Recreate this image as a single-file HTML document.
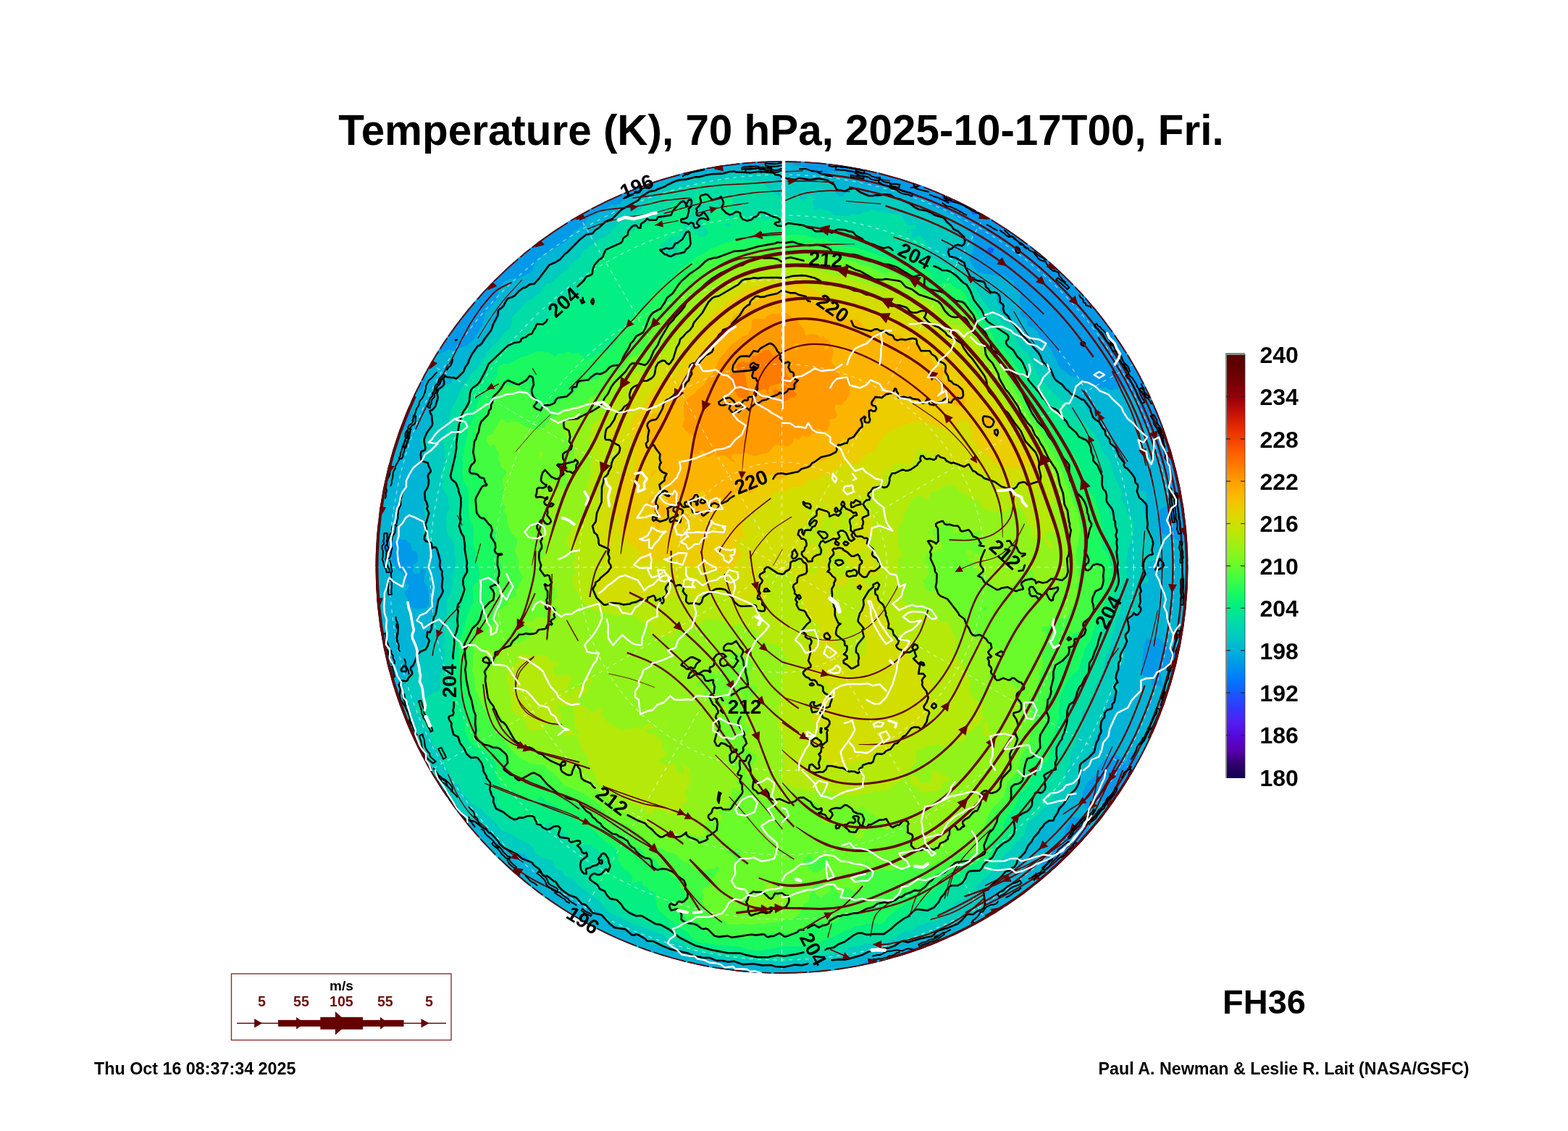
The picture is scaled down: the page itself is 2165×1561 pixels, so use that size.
<!DOCTYPE html>
<html lang="en"><head><meta charset="utf-8"><title>Temperature (K), 70 hPa, 2025-10-17T00, Fri.</title>
<style>html,body{margin:0;padding:0;background:#fff}body{width:2165px;height:1561px;overflow:hidden}svg{display:block}</style></head>
<body>
<svg width="2165" height="1561" viewBox="0 0 2165 1561" font-family="'Liberation Sans', sans-serif">
<rect width="2165" height="1561" fill="#fff"/>
<defs><clipPath id="g"><circle cx="1079.5" cy="783.0" r="561.0"/></clipPath></defs>
<g clip-path="url(#g)">
<g shape-rendering="crispEdges"><circle cx="1079.5" cy="783.0" r="561.0" fill="#145dff"/>
<path fill="#009ae8" fill-rule="evenodd" d="M1068.1 213l6.8-3 11.5 3 11.1 0.7 6-0.9 9 4.2 12 2.4 3-1.1 8.8-8.3 13.8 0 4.4 1.2 4.5-1.2 13.3 0 6.3 9 14.9 7.1 6-3.4 3 2.4 3 0.9 9-4.7 12-1.6 9 0.5 3 0.9 6 4.7 3 0.8 3 5.1 3 2.6 3-0.2 3 4 3 6.9 3 2.7 3.9 1.3-0.2 3-1.7 3 1 3.2 18-6.4 12-0.3 3.2 3.5 1.9 6-1.2 6-3.1 3 2.6 6 3 3 2.6 1.1 9-0.6 9-2.8 3-4.1 3 0 2.4 3.4 3.6 1.7 9-0.4 3 1.4 0 4.3-6 4.4-2.1 3.6-0.4 3 2.5 2.4 9-1.2 3-2.1 10.6-2.1 2.2-3-2.6-6 1.8-3.2 3-0.1 2.4 3.3-1.5 3 2.1 3.7 9-0.3 6-5.1 1.9 1.7 4.1 8.8 6.3 3.2 1.9 3-1.4 6 2.2 8.4 3 1.4 3-1.3 3 0.4 3 3.6 6 0.4 1.7-0.9 0.6-3-1.2-6 1.9-1.3 6 6.1 9 0.8 5.2 9.4 7.6 9 0.8 12 1.4 1 7.6-4 1.4-3 9-2.4 2.8 2.4 0.7 3 2.8 3 2.7 7.4 3 0 1.1 1.6-7.1 1.2-2.5 4.8 2.5 3.6 9 1.8 9-1.9 6 0.8 2.4 1.7 2.3 6-2.1 3 1.6 9-1.2 3.2 3 1.5 3-0.1 9.1-4.6 0.3 3-6.4 6.5-4 8.5 1.5 3 2.5 1.3 6 0.3 9.3 10.4 0 3-2 3 1.7 1.9 3 0.8 6-3.1 6-0.5 6 3.8 7.9 3.1 2.4 9-3.1 9 2 6-1.7 3 1.2 6 2.3 0-1.7-3 1-3 1.7-1.2 3 1.1 1.1 3.1-0.5 3 4.3 6-1.9 4.7-11.6 7.3 11.6 5.1 6.3 9.9 5.7 3.4 6 1.9 1.9 6.7 4.1 6.7 0.4 11.3 5 6 2 6 4.6 5.1 6 1.6 3 2.1 3.7 6.2-3.7 3.5-1.9 5.5 6 6 4.9 2.7 3 0.4 6-3.3 3 0.3 3 3.5 4.9 2.4-4.9 1.4-0.7 4.6 3.7 1.2 3-1.6 3 2.4-0.7 4-3.2 6 0.9 5.9 3 2 6 1.7 0 8.6-6 8.8 1.8 3 4.2 2.7 0 488.8-4.5 0.5-4.2 6-3.3-1.8-7 4.8 1.4 6 2.6 0.3 3-1.5 2.5 4.2-1.7 6-6.7 6-1.2 6-1.9 2.7-4 0.3-6.7 6-4.3-1.2-3-2.8-3 0.7-2.9 3.3-0.3 3 2.6 3 0.1 6-5.5 2.8 3.2 3.2-3.1 9-4.8 6-0.7 6-3.6 5.8-3 1.8-6-2.2-6.4 3.6 3.4 1.1 3-0.7 2.9 2.6-5.4 3-3.5-2.2-3 1.5-9-1.1-6 2.8-3-1.7-4.2 0.7-1.8 4.4-6.4 4.6 4.1 6-3.7 2.9 0.3 3.1-3.3 2.9-9 1.5-3 2.4-3 0.2-6-3.2-3 0.7-9.7 4.5-0.9 3 1.6 3.2-3 0.7-3-1.6-6 1.1-6 4.2-6-1.9-6 2.1-9-1.2-3 0.8-3.7 1.6-11.3 10.4-3 0.9-3-0.6-6 2.9-9 6.6-6 1.6-6-2.3-3 0.1-12 5.6-15 2-12 6.9-9 3.1-9-1.8-2.6 0.6-6.4 2.4-9 7.2-12 5.2-12 0.4-6-1.2-2.7 1-3.4 3-0.7 6-2.2 3.1-9 1.7-9 4.1-12 1.2-3.7 1.9-8.3 7.5-9 2.6-2.4 1.9-3.6 6.1-15 5.5-3 0.2-6-2.4-12 3.3-12-3.8-6 2-6-1.1-3 3.1-6 3.5-10.4 1.6-125.8 0-4.8-1.2-5.4 1.2-19.7 0-1.9-0.8-3.3 0.8-53.7 0-6-2-6 1.7-3-0.2-6-4.3-3-0.6-6 3.2-3-3.2-3-0.7-3 2.5-12 1.6-15-4.1-3 0.7-4.7 5.4-16.8 0-5.5-4.8-3-1.1-6 1-10.2-4.1-4.8-3.8-3 0-6 3.2-6-0.5-2.5-1.9-0.6-3-2.9-3-3-0.8-12 1-18 9.9-3-6.5-3-1.6-3-3.8-12 0.5-5.8 4.3-0.2 3.1-5.4-3.1-0.6-3.3-3 1.8-12.8 1.5-5.2-3.9-1-5.1-5-6.1-4.6 3.1-1.4 3.2-3 1.7-3 0-9-6.1-0.3-1.8 2-3 3.6-3-2.3-2.7-3-0.5-3 2-3-1.9-3 1.3-1.4-4.2 1.4-3.6-3-2.7-3.7 0.3-2.3-1.3-1.1 1.3 0.1 3-5 7.2-5.1-7.2 1.9-3-0.2-3-8.9-6-2.2-6 0.9-6-4.4-2.2-6 3.4-2.5-1.2 2.5-4.5 11.3-10.5-2.3-2-3.8-1-2.2-3-6 4.1-0.8-1.1 0.8-2.5 3.8-3.5-10.3-9-5-3 0.4-3-0.9-1.3-4.2-1.7-1.8-2.3-0.5-6.7-3.3-6-5-6-0.3-3-3.6-3-1.6-3 0.8-6-1.8-6 3.3-2.3 2-3.7-2-4.4-6-0.6-1.5-1-1-3 0.3-3-2.9-6 2.1-6-1.1-9-7.2-9-2.3-6-1.9-9 2-9-1.4-3-6.1-0.8-2-2.2-1.7-6-0.1-6-1.5-3-4.2-3-1.3-6-8.5-9 0.2-6-1.1-3-4.5-6-0.9-3-6.5-6-7.4-18-2.5-3.2-4.5-2.8-0.9-9-4.2-9-7-6 0.4-9-3.2-6-7.6-5.5-0.8-6.5-8.3-9-5.9-9.8 0-380.6 2.9 3.4-2.1 3 2.2 0.9 3-0.7 5.1-6.2-1.5-6 3.6-3 1.3-3 0.2-6 6.5-6 2.9-6-0.1-3.6-3 0.5-3.2-2.9 5.7-3 3.5 0.4 3-1.5 3-4.9 0.1-3 2.9-7 9.7-8 0.6-3-2.3-6-4.6-6 2-3 8.4-6 11.6-15-3.3-15 2-6-2.8-3 1.4-3 6.3-6 0.9-3 0.1-6 2.5-3 0.9-3-2-6 6.4-12-0.7-3 2.6-3-3.1-6 2.4-6 3-2.3 3-4.4 6.2-2.3 10-12 0.5-3 4.3-4.6 3-1 6 2 6 0.4 6 3 3 4.8 6.5-4.6 1.9-3-2.4-7.7-3 3.9-3 1.3-6-0.2-2-3.3 5-13 9-0.5 3 3.4 6-1.9 4.2-6 10.8-5.3 15-11.7 3-1.3 9-0.6 6-4.8 6-2.4 3-0.4 2.1 2.5 3.9 1.6 3-1.4 9-6.6 3.4-5.6 8.6-7.2 3-4.5 3 0.9 3-1.2 3-4.1 12 0.6 12-3.9 18-7.9 9-1.8 6-8.3 9-3.3 6-0.5 27-11.1 9-1.2 15-10.4 21-9.4 12-3.5 12-1.6 42-13.9 24-3.2 24-6 6 1.1 9-1.9 15 3.4 33.6-9.1zM1367.5 341.2l-3 1.1-1.6 2.7 1.6 5.6 3 0 3-2 1.7-3.6-1.3-3-3.4-0.8zM1415.5 332.8l-0.9 0.2 0.9 3.3 0-3.5zM1472.5 473.4l0 1.5 0-1.5zM1415.5 344.8z"/>
<path fill="#00b4d5" fill-rule="evenodd" d="M1067.2 225l9.3-2.5 12 0.4 9 5.3 9 1 18 10 12 0.5 15-2.9 6-0.1 3-1.4 3 0.3 3.3 1.4 5.7 6.3 9.4 2.7 8.6 7.5 11.1 1.5 6.9 2.7 6-1.8 6 0.3 6-2 3 0.3 3 1 6 5.5 6 3.3 6 5.9 15 4.2 6-1 6 0.6 9 9.8 30.2 13.2 11.5 9 3.3 4.5 6 3.9 5.6 9.6 1.4 9-0.4 12-5.2 12 0.7 3 9.3 15 27.6 6.1 9-1 5 3.9 7 3.2 2.8 2.8 0.2 6.6 6 5 2.2 3.4 0.4 3-1.6 9 2.5 9-1.3 9 0.8 2.1 6 1.7 2.1 2.2 0.9 9.1 9 2.8 3.7 3.1 4.2 9 4.4 3 11.8 15 2.1 6 4.6 6 2.2 7.8 5.2 7.2 6.2 3 6.1 6 12.5 2.2 9 7.2 6 0 8.9 5.6 9.1 1.9 3-2.5 2.1 3.6 3.9 0.9 6-0.2 12-3 3 2.8 3 0.4 2.5 2.1 3.5 5.7 3 2.5 3-1.1 1 4.9 4.2 9-1.8 6 3.4 6 0.4 12 7.8 5.2 3.1 0.8 2.2 3-0.8 3-7.5 5.7 0 0.9 2.6 2.4 9.4-1 1.1 1 3 9 1.4 12 3.1 6-0.8 3 1.1 3 4.1 3 2 9.8 6.1 8.2 1.3 12 6.3 6 6 3-2.1 6 0.7 6-1 3-17.3 4.1-3 1.2-3 3.2-3.6 12.5 2 12 4.6 6.9 3 2.1 12 2.4 6 5 9 3.5 3 0 3-3.2 3 0.3 1.1 1-0.2 3 2.7 3 2.4 1.6 3-0.4 0 49-6.3 6.8-1.4 3 2.1 6-5.2 9 0.7 6 1.1 1.4 1.2-1.4 0.2-6 1.6-1.6 6 1.9 0 16.8-1.4 3.9 1.4 2.2 0 14.6-1.2 1.2 1.2 0.5 0 7.8-3-1.1-8.6 7.8 0.3 3 3.3 6 2 1 3.5-1 2.5-2.1 0 30.9-3 1.3-3-2.6-1.4-3.5-12-12 0.1-3-1.7-3.5-6-0.3-3-3.8-9-1.6-5.3-2.8-9.7-8-3-0.1-6 4.3-6-3.9-5.1 13.7 0.6 6-2.5 15 1 5.6 4.1 0.4-4.1 0.2-2.2 2.8-0.1 6 12.1 6 2.2 3.2 1.1 5.8 1.9 1.3 6-0.7 3 0.7 3 2.5 1.5-0.8-2.2-9 1-3-2.1-3 1.1-6 10.3-6 2.4-6.6 2.8-2.4 3.2 0.4 2.4 2.6-3.3 6 0.9 6-1.6 3 0.5 3 8.1 9 2 1.3 3-0.6 3 2.2 1 3.1 5.2 3 2.4 3-14.6 6.3-9 1.3-9.7 7.4-2.4 6 0 3-6.5 6-0.4 3 1.6 9 2.4 4.4 0 3.2-6 4.6-3 8.5-3.2 3.3-2.1 9 2.7 9-3.4 2.4-3-0.4-9 4 4.1 6-0.7 6 0.9 3-1.3 0.4-0.7-3.4-3.4-3 1.1-9-9-0.8-6-4.5-3-0.3-3 2.6-2.3 3-0.4 6-3.3 3.3-4.1-6.3-3.5-3-4.4-1.3-9 0.1-1.9 4.2-6.5 3-3.6 5.3-4 3.7-3 9-5 6.5-6 4.1-2.6 4.4-4.2 9-1.7 12 5.5 11.5 3 0.8 3-1.4 6-5.9 9-4.2 3 1.2 7.6 7 8.6 6 1.8 6-1.4 3 5.3 9 2.1 2.1 3-1.5 2.5 2.4-2.5 2.7-2.5 0.3 1 6-1.5 1.6-9 0-6-2.5-9 1.5-9 4.4-3-2.7-6-2.4-2.3-5.9-0.3-6-3.4-7.3-18-2.2-3 1.2-1.6 5.3-5.9 9-0.6 6-4.7 9-5.2 3.8-7.9 11.2-10.1 6-3 2.6-1.5 3.4 2 9 5.5 5.1 3 1.7 9 0 6-2.5 5.1 4.7-0.5 6-4.9 6-0.7 6-2 2.7-15-0.1-6-3.9-2.4 1.3-3.6 11.5-3 1.7-6-0.7-9 6.2-9 3.3-3 6.3-3 1.9-6-2.2-2.9 2-0.5 9-4.5 3-7.1-0.6-6 3.5-6 1-9 6.4-13.2 4.7-3.1 3-1.7 3.9-12 5.1-15 2-9 2.7-3 1.5-15 13-3 0.4-6-1.8-18-0.5-5.5 3.7-2.6 9-9.9 7.9-6 0.4-9 2.8-9 1.2-6-7.6-4-1.7-5-0.4-6.8 3.4-5.2 4.4-6 1.6-12 6.7-6-0.2-21 3.9-9-1.1-12 2.8-6-1.8-12-0.2-15 4.5-15-1.4-12 3-18-7.7-30 4.1-4.8-3.6-7.2-3.4-3-0.2-9 2.3-3 2.2-9 1.2-5-2.1-7-9.1-9 0.1-3 1.9-21-0.5-6-6.4-12-4.5-6 1.3-6-0.5-9.4 2.7-11.6 5.3-6-7.9-6-1.8-6-0.2-1.8-1.4-6.6-15-3.6-2-9-1.4-6 1.9-9 0.2-3 2.4-3 0.7-7.2-1.8 2.7-6-3.6-6-0.9-3.7-3-3.2-9-1.1-3.2 2 2.4 6-1.6 3-3.6 1-1.9-1-1.1-3.2-3-0.3-6.6 3.5-2.4 3.9-6-2.6-6-6.8-3 0.5-1.5 2-4.5 2.1-3 4.5-9 4.3-1.5-1.9-0.8-6-2.2-3-10.5-6.1-3 0.7-6-1.9-15 3.1-3-0.8-3-2.4-8.9-16.6 1-6-4.1-2.9-3-3.9-7-2.2-5-3.4-0.8-2.6 0.9-9-3.1-2.9-3-0.1-6-13.2-3 0.8-4.3-2.6 0.1-3 1.8-3-3.6-1.4-6 0.3-4.3-4.9 0.8-6-6.2-9-0.4-3 1.7-6-0.7-3-6.7-9-2.7-9 0-6-6.3-6-8.2-15.7-3-14.1-6.5-0.2-1-3 1.5-6-7.7-9-2.2-6-4.5-6-3.6-8.9-9.9-9.1-1.9-3 0-12-12.2-19.4-6-3.7-3-5-1.8-4.9 0-9-6.9-12-0.3-6.8-3.6-8.2-6.1-9-4.2-9-11.6-12-0.9-6-9.6-23.1-3-3.3-3-0.2 0-17.1 2.9-7.3 3.3-3-6.2-1.9 0-6.1 2-4 1.2-9-0.6-3-2.6-2.5 0-90 5.4-3.5 0.5-3-2.9-5.2-3-1.6 0-45 6.1-11.2 2.9-2.3 5.3-0.7 0.5-3-1-3-7.8-6.9-3 4.4-3 0.9 0-6 9-4.8 6.9-8.6 0.7-6-2.2-9-3.7-6 0.1-3 4.2-3.7 6-0.9 6.6-10.4 2.8-12-1.3-6 5.2-6-1.2-6 4.2-15 1.7-2.3 12.5-3.7 1-3 2.5-3 0.8-6 4-6 0.7-3-1.4-6 0.4-6-0.9-6 1-6 3.4-4.1 13.5-7.9 5.1-15 0.9-12 3.2-6 0.1-3 8.3-9 7.9-5.1 6-1 3-3.1 3-1.3 6 3.2 3-0.8 6-3.8 9-3.4 9-7.7 9-14.6 4.2-4.4-0.3-6 2.6-6-0.5-3 1.1-3 15.8-18 3.1-6 0-9 1-3 5.4-6 9.6-5.7 9 2 6-4.1 14.6-7.2 5-12 10.4-11.8 6-2.5 3.5-3.7 8.2-3 15.3-9.6 6-8.8 14.9-11.6 6.1-6.5 3-4.9 8.5-3.6 6.5-5.1 12-5.4 6-3.9 6 0 3-1.1 6-5.5 21-14.7 42-14.9 12-1.9 9-3.8 30-7.6 21-1.7 9-3.6 6 1.4 9-1.3 12 3.4 6 0.3 27-4.7 2.7-1.9zM1487.5 1124.4l0 3.5 0-3.5zM1604.5 875.8l-1.7 0.2 1.7-0.2zM1622.5 872.3l-1.1 0.7-0.2 3 1.3 1.3 3-0.7 0-2.1-3-2.2zM1613.5 949.6l-1.5 1.4-0.6 3 2.1 1.6 3-0.6 0.8-4-0.8-1.9-3 0.5zM1442.5 1202.7l0 2.7 0-2.7zM515.5 730.9l-1.6 1.1 1.6 3.8 3 1.8 1.9-2.6-0.8-3-4.1-1.1zM551.5 743.9l-3 1.6-3-0.4-6 3.3-3 0.3-6-3.3-5.6 1.6 3.2 6 0.1 3 11.3 8.5 1.5 6.5-0.9 3 4.8 6 3.1 6 6.5 3.1 3.4 2.9-0.4 9.5 3 4.2 4.4 1.3-0.5 3-4.8 6-0.4 3 0.4 3 3.9 5 3 9.6 3 2.6 3 0.8 9 0.5 6-1 3.7-2.5 1.2-3 0.1-6-1.3-18-5.9-6 0.7-9 2.2-6-3.1-3-3.6-0.8-1.2 0.8 0.2 3-2 3.1-6-0.3-2.6-2.8 1-6-0.8-3 6.9-6-0.3-9-1.2-2.5-5.9-3.5-3.1-8.6-6-5.1-9-1.4zM1576.5 1068l1-1 3.6 1 0.6 3-1.6 6 1.2 6-3.3 12 0.1 6-2.7 3 0.3 6-1.4 3-5.8 4.2-3-1.4-1.6-2.8-0.2-9 4-9 0.2-9-2.4-2-9 2.1-1.7-3.1 0.4-3 4.3-4.2 9-5.6 6-0.5 2-1.7z"/>
<path fill="#00cbbf" fill-rule="evenodd" d="M1015.9 237l6.6-0.6 15 2 15-0.5 18 1.7 9-3.7 3 0.9 9 7.7 12 1.7 6 3.4 21-1.6 15 3.2 3-0.8 3.6 1.6 0.8 3-1.4 6 1 3 5 6 3 1.2 4.2-1.2 6.5-9 7.3-1.1 4.3 1.1 7.7 6.1 6 1.4 9 3.8 18-1.8 9 3.3 6 0.8 18 7.4 6 4.2 6 1 17.1 9.8 10.4 3 8.5 8.4 6 0.7 3.9 2.9 2.1 8 3 4 6 3.5 2.2 2.5 0.5 3-2.7 3.9-6 1.8-3 2.6-3 0.6-6-1.2-1.9 1.3 1.3 9 1.5 3 5.1 3 12 3.7 3 2.8 7.6 11.5 2.1 6 2.3 3.1 9 4.8 9 2.4 3 4.4 3 2.2 6 1.1 5.4 9 0.1 9 5 6 0 6 1.4 3 7.5 3 19.6 26.3 15.5 12.7 6.6 12 10.3 15 2.6 6 6 6 0.3 6 18.7 15.8 9 6.1 6 2 14.2 12.1 0.1 6 1.2 3 8.5 10.3 9.5 7.7 3 6 15.2 18-1.9 6 1.5 9 16.9 15 4.4 12 2.4 3.5 4.2 2.5 2 6 3.8 3 3.1 9 0.7 6 5.8 0 3.4 3 0.7 6-3.5 6-0.9 9 1.1 3 7.2 6-0.8 18 6.3 12 0.5 3-1.2 6 1.3 6-0.6 6 1.6 3 5.5 3 2.8 3-1 2.5-3-1.4-12 3.2-7.3 16.7 0.2 3 4.1 0.3 2.1 2.7 0.6 3-1.1 3-7.6 2-1.9 1-1.7 3 0 9 1.8 3 1.2 12-1.6 3 0 3 1.5 3-2.3 2.6-6 0.8-8.7 8.6-1.3 12-2.1 3 3.2 6-0.2 6-7.5 6-0.8 3 1.6 18-0.8 3-4.4 7.3-6.2 4.7-0.1 3 1.8 3-2.5 6 4.4 6-0.1 12-12.3 8.2-3 5.2-2.3 13.6-2.3 6 0.4 3-3.2 6-1.6 9-3 2.8-3 6.3-3 2.9-0.6 3 1.3 3-4.5 6-0.2 6-5 6 0.3 3-3.3 1.6-3 3.2-0.7 10.2-3 6-5 15-9.9 21-5.4 7.5-9 2.1-2.8 2.4-3.2 14.8-3 4.9-12.2 4.3-5.2 6-6.6 15.1-3 2.9-6.7 3-2.3 2.7-3 5.6-5.8 6.7-5 12-2.2 9-5 4.4-6 1.5-3 2.7-7.6 0.4-7.4 9.2-13.9 11.8-0.8 15 1.2 6-1.4 3-3.1 1.5-6-0.3-12.7 10.8-11.3 1.4-3 2.1-3.9 5.5-8.1 2.4-12 8.4-9 1.1-6 5.2-6 1.4-3.2 2.5-26.8 4.8-15 5.7-9 0.6-15 7.4-12 0.3-15 7.2-15 0.9-9 2.7-6-0.9-6 1.6-9 0.3-21 5-15 0.6-12 2.1-9-1.3-21 0.3-33-4.2-9 1.1-21-5.1-9-0.3-15-3.8-18-2.6-15-5.3-9-4.6-18-1.9-3-2.3-3-0.6-6 0.2-2.8-1.9-1.5-3-7.7-8-9-3.8-9-1.3-9-4.4-15-5-12-9.8-5-6.7-19-10-3-2.7-9-3.2-6-5.3-8.1-2.8-10.9-9-11.7-6-5.3-7.2-3.6-1.8-4.8-9-7.5-3-2.1-2-1.6-4-10.4-14.3-3-1.9-12-1.3-15-6-5.2-3.5-2.9-3-5.3-12-25.3-21-3.3-0.2-6 2.5-6-3.3-3-3.4-3.9-7.6-14.1-14.7-5.5-12.3-8.2-6-4.3-9.4-6-7.8-1-6.8-5.8-6-5.2-15.6-10.9-17.4-1.1-8.3-3.6-3.7-8.4-18.8-1.8-17.2-4.7-15 3.6-6 0.7-3-0.9-6 4.5-6-2.4-6 1-1.1 6 0 6.5-10.9 7.9-9-2.2-3 2.8-3.3-1.4-8.7 1.4-2.3 6.2-3.7 1.5-9-1.2-6 9.1-9 1-3-2-6 0.5-9 6.5-9 2.4-12 5.7-15-1.8-9 0-3 2.1-6-0.1-15-1.7-6 0-6-4.2-9.3-4.4-2.7-4.6-5.6-8.5-6.4-4.3-9 0.8-3.9 3.4-2.1 0-3 3-3-3.4-2.7-1.4-3.3 1.2-6-3.1-9 6.4-9-3.1-1-1.6-2-0.4-6 2.3-6-0.1-6 2.8-6 2.9-12-2.5-9-5.4-6-0.8-3 1.7-6-0.1-9-5-6-1.1-9 8.1-6 6.4-12 1.3-9-0.3-9 3.8-5 4.8-10-0.3-6-3.7-6 0.5-3 10.7-8.9 9-0.8 3-2.5 3.2-5.8 8-6 2.6-6 9.3-6 3.7-9 3.9-6 5.9-6 11.4-15 6-9 3.8-9 5.5-6 4.9-15 6.7-9 0.1-3 1.7-3 7.3-3.3 15-13.6 6-0.6 6-4.4 10.7-11.1 10.3-13.8 3-2 9-2.1 3-2.2 6-5.5 6-8.9 6-2 9.6-8.5 5.4-8.2 14.4-6.8 6.6-9.6 9-3 21-14.4 9-4.8 12-9.8 3-4.4 13.7-8 19.3-6 15-9 12 0.5 12-5 15-2.6 9-3.7 41.4-4.2zM1076.5 241l-2.9 2-1.6 3 0.8 3 3.7 3.4 3-1.4 2-5-1-3-4-2zM1601.2 777l0.3-2.4 0.8 5.4-0.8 1.2-1-1.2 0.7-3z"/>
<path fill="#00dda5" fill-rule="evenodd" d="M999.7 249l4.8-1.7 9-0.6 18 1.9 6 1.9 9-0.9 5 2.4 16 13.9 9 5.1 9-0.6 6 1.2 6 3 1.2-1.6-0.6-3 2.4-3.4 4 3.4-0.1 3 1.7 3 3.4 1.2 3-1.1 3-5.2 3-1.9 3 1.9 2.3 5.1-2 3 2.2 6-0.8 3 1.3 1.9 3 0.1 3-2.2 3-0.5 3 2.4 9 1.3 3 3.5 4.2 2.5 4.8-0.4 6 1.8 6-0.2 3-0.5 3-2.3 3-0.3 3 1.3 6-0.9 6-3.8 6 0 3-2.4 3 0.1 12 3.2 27 3.9 4.8 9.5 4.2 4.4 3 1.2 6-1.7 3 1.4 0 1.7-1.8 2-6.6 3 2.4 1.4 0.5 1.6-2.2 6 4.7 1.6 6-3.5 3 0.3 7.8 10.6 3.1 12 4.1 6.9 18 9.5 12 2.3 9 6.5 7.5 10.8 13.4 12 9.8 18 14 18 15.3 14.3 9.2 6.7 14.8 26.2 7 6.8 8 11 1.6 7 11.7 21 11.9 12 4.8 6.3 6 3.8 3 4.9 6 2.1 3.2 6.9 8.9 9 3.2 6 14.3 9 10.4 12 9.3 15 1.7 7 8 14 5.5 6 2.5 12 7.5 18 5.4 9-1.9 12 7.4 9-0.1 6 1.2 3 6.5 6.2 3.5 11.8-0.5 5.9-2.7 6.1-0.7 9-4.8 12-2.8 24 1.6 12-0.8 9-3.5 12-1.1 9-3.2 6 0.8 9-3.5 12-4.4 6-0.5 9-4.6 9-1.2 15-7.9 15-2.9 21-4 9-4.8 6.2-2.8 5.8-1.7 12-1.5 4-3 2.9-1.8 8.1-4.2 4.2-4.6 1.8-2 3 3.2 12-4.2 12-4.3 6-0.7 3 0.8 3-3.9 6-2.7 9-3.3 6 0.3 9-1.2 6-6.3 9 1.1 9-1.4 6-12.8 13.3-4.1 7.7-17.7 21-15.3 12-3.7 6-1.1 9-4.1 6-11.9 12-3.3 6-8.8 6-8 12-9 8.8-3.9 6.2-17.1 15.6-6 8.4-12.1 9-2.9 3.8-6 1.4-9 7.9-6 2.5-4.7 8.4-7.3 7.1-6 2.5-9 0.8-6 3.4-6-0.1-3 1.3-1.9 3-7.1 5.1-6-1.1-3 1.2-12 8.1-9 4.5-21 3.3-9-0.6-9 3.9-15 2.5-6 4-9 2.9-12 1.5-18 5-12 1.8-18 0.4-15 3.3-9 0.5-9-1.4-9 0.9-21-1.8-9-1.9-9 0-12-2.1-9-2.8-15-1.1-21-4.2-9-3.5-12-7.6-9.5-2.8-17.5-10.6-9-2.5-9-4.2-18-5.2-32.7-16.5-7-6-6.9-9-31.4-23.8-6-8.6-6-0.8-6-2.8-3-6.8-6.2-2.2-3.8-3-2.9-9-5.1-2.2-9-1.2-3-2.8-6-3-2.2-2.8-2.1-6-7.7-6.5-12-5.4-12-7.6-12-4.2-7.1-9.3-10.9-10.9-3-1-7.9-9.1-6.6-3-6.5-5.4-9-9.3-5.4-6.3-0.9-6-1.7-3-7-3.8-6-11.2 0-3.3-6.6-5.7-3.2-6-0.7-6-1-3-2.8-3-1.5-6-7.6-9-3.3-9-0.8-6-5.5-6.7-4.7-2.3-0.8-3 1.5-6-0.5-3-3.4-3-5.9-9 0.2-3 1.6-2.4 6-0.5 3-2.9 2-6.2 4-1.3 9-7.1 6-1.5 2.2-2.1 1.6-3-2.6-6-0.1-6 1.9-6.7 5.4-8.3-0.9-9 2.1-9-2.9-12 2.1-6-1.1-15 2.5-6-0.8-12 2.4-6-0.8-15 0.5-3 3.5-4.5 2.6-7.5 1.7-12-1.3-6 5.6-18 0.4-6-2.2-12-0.3-12-6.5-8.6-3-5.6-1.8-6.8 0.3-18 1.5-4.4 3.3-4.6 0-3-2.1-6 0-6-1.1-3-4.5-6-2.8-6 0-3 2.2-6-4-9 4.2-9 2.3-9-3.3-30 4.1-9 1.5-6 3.5-6-1.6-6 4.5-15 9.2-18 2.9-9 11.7-13.9 3.1-7.1 5.9-4.6 3.3-4.4 17.7-27.4 9.9-8.6 9.5-12 6.5-6 2.9-6 1.2-9.8 21-22 4.8-1.2 6.7-6 3.5-1.5 10-13.5 2-1.5 6-1.3 13-12.2 8-5.1 6-9 12-8.2 4-7.7 2.8-3 6.6-3 7.6-8.2 18-9.8 3.2-3 3.1-6 8.7-7 10.1-5 19.9-13.8 5-7.2 13-6.3 6-1.4 12-10 18-2.7 18-5 6-3 37.2-4.6zM1253.5 316.8l-1.3 1.2-0.3 3 1.6 1.6 2.2-1.6 0.6-3-2.8-1.2z"/>
<path fill="#03ee83" fill-rule="evenodd" d="M966.8 267l1.7-1 3 0.5 8.1 3.5 4.4 6-0.5 3.2-3 1.1-3-1.5-3 0.4-12 2.7-3-0.9-1.4-2 1.9-6 2.5-3.2 4.3-2.8zM1002 273l2.5-1.9 6 1.9 1 3-1.6 6-2 3 1 3 4.6 2.9 9-2.1 2.3 2.2-1.9 3 1.4 3 4.2 0.1 3 2.5 0.8 9.4 2.2 0.9 6-7.6 5.4 0.7-1-3 1.6-1.5 3-0.7 3 6.4 10.6-1.2 4.4-4.2 6-1.7 9 2.9-6 2.4-1.3 3.6 0 3 1.3 2.2 3 1.4 2-0.6 1.2-3-0.2-4.4 9 3.4 21 2 9 3.1 6-0.5 1.8 2.4 4.2 1.7 12 1.6 12 4 4.1-1.3 1.8-3 3.1-1.4 4 1.4 5 3.9 11.9 5.1 12.1 9.7 27 6.8 12 6.6 18 2.4 6 4.7 9 2 9 3.6 15 8.5 16.2 3.7 4.9 3 8.3 9 9.6 5.3 6 6.7 0.9 9 1.3 3 14.6 18 5.4 12 23 15 6.3 6 1 3-1 6 2.3 6 17 24 7.2 15.4 4.2 5.6 2.5 9 5.3 7.6 9.1 4.4 1.3 9 4.6 6.4 6 3.8 4.9 4.8 11.4 18 18.5 6 8.3 12 8.1 6 1.5 3 0.6 6 5.6 9 1.6 6 8 12 0.8 9-1.2 12 8.3 12-1 6 0.8 3-0.5 6 5.3 15.8 4.7 8.2 2.9 9 0.9 18 2.6 9-0.9 6 0.7 9-1.4 9 2.2 21-2.7 15-3.7 6-1.9 6-2.6 21-12.8 27.4-0.6 2.6 0.9 6-3.4 9-6.6 12-2.3 7.5-0.6 7.5-5.3 9-2.5 9-4.7 9-4.9 5.2-3 6.8-6.7 6-1.2 6-4.1 6 1.8 9-1.1 6 0.5 9-3.6 9-7.3 9-4.8 12-0.5 9 2.8 9-1.9 6-9.4 12-7.1 3-1.7 3 0.3 6-4 13-6-0.4-4 2.4-1.2 3 0.8 3-1.5 9-9.8 9-5.3 7.7-12 10.9-1.2 2.4 3.3 9-0.6 3-3.8 6-11.2 6-4.5 3.8-7.1 11.2-3.8 9-7.1 6.4-5 2.6-1 3.4-3 2.1-12 1.5-4.8 2-5.4 9-1.8 6.7-3 1.6-18 4.2-11.9 17.5-12.1 8.1-12 5.1-9 0.8-12 4.8-3.3 2.2-5 6-7.9 12-13.8 8.5-6 1-12-2.3-12 0.8-27 8.4-6 5.1-6 3-12 2.9-15 5.6-15 1.5-24-0.1-9 5.1-15-0.8-15 0.9-15-1.1-12-3.9-15-0.4-45-7.4-6.8-2.8-12.4-9-4.8-4.9-6-1.9-12-8.6-7.2-2.6-10.9-6-2.9-0.9-6 1.1-6-3.4-12-10.1-6-0.9-6-3.5-6-0.7-9-8.2-3.8-6.4-11.2-11.3-6-10.1-3 1.1-5.4-3.7-1.4-3 6.8-3.6 3 0.5 6-5.9 6-3.1 1.2-2.9-1.8-6-2.4-2.6-2.6-0.4-0.4-9-6-2.5-3-4.1-5.8-2.4-3.2-3.7-3-1.4-9 2.3-6-1.2-3 2.5-3-0.2-0.8-4.3-5.2-6.5-1-5.5-2-2-16.6-4-2.7-3 0.4-3-0.8-3-1.3-1-3 0.2-6 3.3-6-0.3-9-1.8-12-8.1-6 1-6-1.2-12 0.9-5.2-11-2.7-3-5.8-3-2.3-3 1-7-3.2-5-2.8-2.2-3-7.8-5.5-8-2.3-12 0.5-6-4.7-9-5.3-6-3.7-1.8-6-5.3-6-1.5-9-10.5-8.1-13.9 0.1-6-1-2.7-6.2-3.3-0.9-9 7.5-18-3.5-3 1.3-18-1.6-12 3.6-21-0.9-6 1.1-12-2.1-9 0.3-9 4.5-12 0.4-18 7.2-21 0-15 3.3-12-0.5-6 3.3-12 0.7-9-1-6 1.4-9-1-9-3.1-12-3.8-6 0-9-1.7-6-0.4-9 2.1-21-0.7-12-2.6-6-6.7-9.8-1.8-8.2-0.4-9 2.7-6 1.7-9 0.8-9-1.7-9 0.8-9 7.6-21-0.7-11.2 11.2-12.8-1-15 1-3 11.7-15 4.1-3.6 6-2.8 3.9-8.6 1.7-12 9.4-9.7 12-9.1 6-1 15-9.6 12-12.9 6-4.6 2.8-4.1 6.2-5.1 6 0.2 8.8-4.1-0.5-3 5-6 0.6-6 4.1-2.4 6-0.7 0-8.9 3-2.8 9-1.1 6 1.2 3-2.6 6-2.3 1.9-7.4-6.7-3-0.4-3 2.2-2.3 3-0.4 3 1.3 3.2-1.6 11.8-24.4 3-1.4 7.5-7.2 1.8-6 2.4-3 7.2-3 8.1-9.6 6 2.2 3 0 1.4-1.6-0.3-6 1.2-3 3.7-4.3 12-3.4 6-9.3 13.1-1 4.9-5.4 6 0.5 12-1.8 6.7-5.3 2.1-3-3.9-6 1.4-3 2.7-2 3-0.5 2.6-3.5 3.4-1.7 2.6 1.7-0.5 9 0.9 1 3 0.1 1.4-1.1 1.6-4.1 3 0.7 6 3.6 1.9 2.8-0.5 3-3.1 3-3.9 9-5.2 3 0.9 6-5.1 5.4-0.8 3.6-2.2 1.6-9 1-9 8.6-5.5 0.8-0.6 3 3.1 3.9 2.5 8.1 3.5 3.3 3 1.8 3 0 8.2-2.1 2.2-3-1.2-12-1.2-3 1.5-3 8.5-6.9 7.3-2.1-1.1-3-2.9-3 2.7-2.3 6 2.1 4.7 6.2 7.3 3.3 8.2-3.3 1.4-3-0.6-1.7-9.2-13.3 2.7-3 0.5-3.3 3-2.2 3 1.3 3.3-1.8 1.2-3-1.8-6 0.5-3 2.8-0.7 9 3.7 3-1.1 1.7-1.9 0.4-6 4.4-6zM1010.5 293.5l-5.3 3.5-0.7 3.8 3 1.4 6.6-2.2 0.2-3-3.8-3.5zM1049.5 305.1l-2.5 0.9 2.5 2.4 1.4-2.4-1.4-0.9zM818.5 409l-1.5 2 1.5 1.5 0.8-1.5-0.8-2zM905.5 356.8l-1.2 0.2 1.2-0.2zM944.5 296.5l0 2.3 3 0.3 1.4-2.1-4.4-0.5zM1001.5 308.5l-2.3 0.5 3.2 3 5.1 1.8 2.2-1.8-2.2-3.3-3-1-3 0.8zM1056.1 297l2.4-1.1 1.3 1.1-1.3 2.7-2.4-2.7zM793.6 1176l0.9-1.5 1.7 1.5-1.7 2.2-0.9-2.2zM799.4 1194l1.1-1.2 1.1 1.2-2.2 0z"/>
<path fill="#1af95f" fill-rule="evenodd" d="M1074.3 324l5.2-0.7 9 2 6-1.8 9 0.8 6-1 12 5 9 1.3 6-0.4 27 10.1 21 3 33 12 12 2.4 18 5.9 12 6 15 2.6 7.6 3.8 3.5 3 4 9 2.9 3 6 1.9 6-1.8 6 0.6 3 1.2 6 5.4 6.9 1.7 1.5 3 3.6 3.3 6 11.9 11.7 14.8 6.8 15 12.5 12 8 17.6 9 5.4 11.1 13 9.7 15 4.3 12 5.5 9 6.4 15 11 18.7 28.1 32.3 2.2 6 5.7 9.1 5.1 5.9 3.3 6 6.6 6.3 4.9 8.7 2.5 9 2.4 3 0.8 3-0.8 6 8.2 16.7 6 6.2 4.4 7.1 0.8 6 6.1 18 0.1 6 2.5 9 0 18-1.5 6 1 3 7.6 9 1.2 3 5.2 27-3.6 18-9.3 24-1.2 9-11.1 21-4.2 15-9.5 15-0.8 9-2.5 3-4.2 15-2.4 3-5 3-3.6 5-3 1.5-12 25.5-0.1 10-1.9 9 1.3 9-5.3 13.8-2.1 10.2-2.9 6-3.8 27-6.2 5.5-11.7 3.5-5.7 18-8.3 15-1.3 1.9-8.8 4.1-2.5 12-2.4 6-11.4 15-3.7 9-1.2 9.2-13.3 14.8-5 18-2.7 4.8-18 9.8-15 4.1-17.3 14.3-12.7 7.3-15.7 13.7-8.3 3.8-12 8-12 0.9-3 1.6-24 17.7-4.4 7-4.3 3-3.3 0.7-6-1.6-12 1.2-6 2.2-9 0-9 5.8-6 0.5-3.5 3.2-14.5 7.4-12 3.6-6 5.1-6-0.2-12 2.8-21 0.6-9-0.8-9 2.9-9 0.7-15 3.2-15.8-1.3-11.2-4-54-5.2-9-2.8-10.2-12-10.8-6.7-28.9-23.3-3.6-9-1-9 0.5-6.5-3-1.9-6.3-0.6-2.3-6-6.4-1.8 0-4.6-6-1.1-6 2.2-3-2.3 0.3-7.4-6.3-8-3-0.4-3-2.5-6.7-10.1-1.1-3 1.2-6-0.4-3-5-6.8-14.1-8.2-3.9-4.7-15-13.2-9-3.6-9-5.2-9.4-9.3-11.6-5.1-3.4-3.9-8.6-5.7-8.7-3.3-9.3-8.1-5.8 5.1-6.2 0.1-12-4.4-3-2.1-6-1.1-3.6-4.5-14.4-3.1-2.8-2.9-2.3-6-4-6-1.2-6 0.1-9-2.3-9-5.5-3.7-8.4-8.3-18.6-11.5-2.7-3.5-6.1-15-0.3-3 2.7-12-2.2-12-0.6-15-3.6-6-1.6-9-3-66 5.9-12 6.4-24 8.7-18 0.3-9-2-9 0.6-3 3.5-4.9 3.6-1.1 0.5-6 2.1-6-1.2-3-0.2-6-4.8-8.4 0.6-12.6-4.5-12 1.8-18-2.5-9-4-9-1.5-36-1.8-6-4-6-2.6-12 1.1-12-0.9-9 9-42 9.2-21 0.9-6 4.1-12 7.1-9.1 3.2-5.9 14.8-18 1-12 3.1-3 4.9-2.3 9-0.2 15-8.7 4.7-0.8 16.3-6.7 6-0.6 6 1.9 3-0.9 7 3.3 2 2.3 3-0.5 3-2.9 6 0.5 6-2.5 3 0.1 6 2.3 6-1.1 6 3 6 7.1 3-3 6-1.4 6-5.5 6 0 9-3.4 9.8-10 5.2-12.4 10.5-11.6 2.5-6 8-7.4 3-6.3 9-4.5 3-4.1 6-4.2 0.6-6.5 1.7-3 6.7-5.8 7.1-3.2 1.9-8.6 9-1.6 2.5-1.8 12.8-15 11.7-8.9 3-0.9 6-5.9 18-10.1 3-3.6 6-0.6 6-3.6 12-4.3 21-3.9 18 0.1 6-1.8 12-0.7 12.8-3.8zM907.2 393l1.3-1.1 1.3 1.1-1.3 0.9-1.3-0.9z"/>
<path fill="#42fc42" fill-rule="evenodd" d="M1072.8 336l6.7-0.8 9 2.1 15 1.3 9-1.4 24 1.8 12 6.3 9 3 15 3.3 15 1.8 9 5.6 6-0.4 21 7.4 9 0.2 16.2 8.8 7.8 5.5 6 2.1 9.9 1.4 2.1 2 2.1 10 2.3 3 28.6 6.5 6 6.1 17.4 8.4 9.5 9 9.1 20.1 9.6 9.9 5.4 9.2 5.8 14.8 6.2 5.9 9.6 6.1 11.9 18 5.5 12.5 5.5 8.5 5.7 15 5.9 9 4.5 12 5.4 10 10.8 11 10.2 18.2 7.3 8.8 7.7 13.8 6 3.7 2.2 3.5 2 6 1.8 14.9 1.1 3.1 5.3 6 4.5 15 6.1 6 0.9 3 9.1 12 0.3 3-2.7 6-0.2 6 5 6 1 3-4.2 12-6.2 9 0.6 15 1.7 6-0.9 6 2.6 3.9 3 1.5 6 0.5 6-1.7 3 0.4 3.9 4.4 1.1 6-1.9 6-0.1 9-1.5 3-1.5 2.4-6 1.2-3 5.4-0.8 12 1.8 9-1 7.1-3 3.1-6.2 1.8-6.9 18-1.9 1.3-6 0.6-7.9 4.1 2.1 9-0.2 8.8-6 3.6-6 9.6-6 4.7-2 6.3-9.5 18-0.7 15-3.6 9 0.7 12-0.7 3-4 6 0.2 6 2.8 6-1 9-3.2 6.6-3.4 2.4-0.4 3-3.3 6 2.3 6-0.8 12-2.7 3-12.7 3.3-4.3 11.7-1.3 12-4.7 9-4.7 4.5-8.4 4.5-2 3-1.6 19.6-13.3 13.4-1.7 10.1-5.4 10.9-10.5 9-3.8 15 2.1 9-0.4 3.4-3.1 2.6-14.9 5.9-12 1-6.2 2.1-17.8 10.8-12 9.7-12 5.1-6 0.1-6 5-3 6-3 1.4-15 1.4-3 1.2-5.9 4.3-4.8 6-25.3 4.1-15 14.5-6 0.7-6-1-9 2.9-6-1.3-6 0.8-4.4 6.3-10.6 5.9-3 3.1-6-1.4-6-3.2-3-0.2-11.8 4.8-6.3 6-5.9 2.4-12 0.3-9 1.9-6-0.9-24 1.4-6 2-12-0.9-6 5-3 0.2-3-2.3-3-0.5-9 3-21-4.5-12.6-1.1-10.1-9-4.3-7.2-15-1.5-5.6-9.3-6.4-5-6-1.1-4.3-2.9-1.9-3 3.2-6.7 6 1.8 6-0.2 3-0.4 3.6-3.5-3.6-11.6-7.4-9.4 6.3-6-1.9-1.4-12-2.4-3.1-2.2-7.2-9-10-6-3.7-7.6-6-2.1-6 0.7-8.6-12-9.4-5-15-10.7-12-6.3-9-2.8-9-9-13.9-17.2-10.1-8.3-21-9.6-3.3-3.1-14.7-7.4-5.5-4.6-3.5-7-12.9-5-5.1-5.1-3-1.5-6 2.2-6 7-3-1.1-9-8.6-6-1.9-3.4-3-3.1-9 1.2-9-3.7-7.1-6-5.2-9-3-6-0.3-18-9.5-3-2.9-0.8-2 0.8-2.5 5.9-6.5-5.9-10.3-1.1-13.7-3.2-9-2.8-15-4.3-9 0.3-6-3.3-27 2-12-3-6 0-12 6.4-15.7 3.8-5.3 7.5-6 3.7-11.6 5.3-3.4 3.4-9 3.3-3 1.8-6-0.6-6 10.6-15-0.4-9 2.1-6 4.1-6 0.1-3-0.2-3-3.8-6-1.9-6-0.4-6-4.4-9 0.1-3 5.5-12-0.6-1.8-5.3-4.2-6.8-9-5.9-4.7-6.1-7.3-6.1-15 5.2-18 8.3-9 1.5-3-0.6-3-14.2-14.4-5.7-0.6-0.7-3 6.5-27-0.9-6 1.4-18 12.3-21 4-12 5.9-12 10.2-11.9 6-5.2 3-1.1 6 2.7 3-0.4 3-2.8 3 1.3 6.2 5.4 5.8 1.6 4 7.4 6.4 3 3.7 9 2.4 3 4.5 2.2 6 0.5 3-1.5 3-3.8 6-0.6 3-1.5 18-11.7 6-2.3 2.5-2.3 4.6-9 4.9-3.6 6-2 12-1.6 6-3.1 6-9.3 6-4 3-3.7 3-1.5 6 1.3 3-1 8.3-13.5 3.7-12.7 3-5 6-4.9 9-11.1 9-6.1 7.3-14.2 8.5-6 11.2-10.3 6.3-7.7 4.2-9 7.5-10.7 8.7-7.3 4.6-6 10.7-8.6 15-9 15-4.9 9-6.5 15-1.5 9-3.2 24-5.8 15-0.5 8.3-2zM724 534l4.5-0.9 0.8 0.9-0.3 3-5-3z"/>
<path fill="#6afb2a" fill-rule="evenodd" d="M1042.2 348l4.3-1.2 9 1.5 33-2.9 18 3.1 6-0.7 9 1.8 12-1.1 6 3.6 21 6.2 21 3 6 4 12 2.6 18 9.1 12-0.8 9 2 18.5 11.8 8.5 3.9 7.9 8.1 4.1 2.6 18 5 9 4 12 12 12 2.4 9 7 8.1 18 15.9 18.5 4.3 14.5 4.6 6 9.6 9 10 15 6.7 15 24.4 45 6.4 10.3 6.5 7.7 5.9 12 24.4 39 5.2 16.8 5 10.2 7.6 24 4.2 6 3.8 15 1.7 15-3.6 18-2.2 6-0.6 12 1.7 15 3.2 15-4 12 3.2 6 1.4 6-3.4 2.8-3 9.7-6 5.6-3.1 8.9-2.9 4.3-3 0.5-9-2.5-6 3.4-3 6.7-6 3.4-3-0.7-3 1-2.2 1.9 2.2 5.3 3-0.9 1.9 1.6-0.4 6 2.2 6-1 3-4.1 3-3.2 6 0.7 12 1.6 6-1.7 9-3.2 3-0.9 3 0.5 6-3.4 15-4.2 9-6.3 6 4.4 21 2.7 6-1.2 9-4.9 12-0.5 11.3-12.5 18.7-1.1 9-3.9 12-13.4 15-1.3 3-2.3 15-7.4 9-8.1 6-5.4 9-3.9 9-1.4 6-8.1 15-3 12-0.8 9-5.4 3.6-15 0.1-6 1.1-18 8.9-9 2.5-9 5.7-15 3.8-9-2.2-12-0.1-9 4-6-1.1-6 2.6-12-1.9-9 2.6-8.2-2.6-2.6-6 0.5-6-1.7-1-2.1 4 1.4 3-0.6 3-10.7 10.6-2.4 4.4 0.3 3 2.1 2.6 3 1.4 6.5-1-0.2 6-2.7 3-3.6 1.9-3 1.1-6-0.3-9-5.1-3 0.2-3 12.6-6-4-2-3.4-4-3.1-3-10-3 1.7-3-1 0.4 3.4 2.6 2 1.6 4-1.6 3.1-12 9.2-6-4-2.7-5.3 0.4-3 5.3-3.8 3-0.1 2.2-2.1-0.2-3-2-2.3-3 3.7-4.4 1.6-3.3 3 0.8 3-5.1 7.2-2.2 10.8-7 3-0.8 3-2.4 3-2.6 8.2-9 5.6-6 1.4-3-1.2-9 3.8-15 1.6-6 2.3-9-0.6-12 1.2-6-1.2-18 1.1-3-0.2-9-6.4-6-0.9-11.5-5.7-3.5-4.9-3-1.5-0.9-5.6-3-6-0.4-3 2.3-6-2.9-6 0.4-3 4.5-2.4 4.2-0.6 9.1-18 6-9-4.3-1.4-3 2.9-9 0.7-6 2.1-9 0.1-3-1.1-9.4-9.3-5.6-1.8-3-2.3-6-6.7-6-2.7-9-1.9-6-4.4-9-1.9-24-18.9-6-3.1-11.4-10.3-9.6-1.5-12-7.4-6.8-6.1-5.6-9-10.2-9-6.5-3-1.9-3-20-9.2-12-4-13.4-16.8-10.6-6.7-4.3-5.3-1.7-0.9-12-0.5-9-3.4-9-3.9-9-8-6.7-7.3-8.3-11.9-9-7.9-3.4-7.2-6.2-6-7.1-18-7.8-15-6-18-1.5-15-2.2-6 0.8-24 1.1-6-1.5-9 1.1-3 8.7-11.4 6-2.7 9-7.8 6-0.9 1.5-1.2 0.4-15 2.3-3 4.8-1.7 2.3-4.3 3.7-1.7 3-6.2 6-5 6-1 0.9-1.1-2.8-6 10.1-18-0.2-3-5.2-9-0.8-3 1-6-2.4-9-2.9-6 3.7-18-6.9-6-5.1-9-3.4-12 0.8-6-4.5-6 2-6-4.7-6-0.3-3 3.3-15-2.6-12 0.7-3 4.7-6-0.1-3-2.2-3-4.9-3-1-6-3.2-6 2-6.5-0.9-2.5-3.1-3 0-3-1.5-3-3.5-0.8-3 1.4-3-1.8-3-7.7 1-3.1 2-1.9 6-2.2 1-4.9 11-16.2 6 4.8 3 0.9 6-1.6 9 0.6 9 7 9 2.5 12 0.8 6-2.6 1.9-5.2 2.4-3 13.7-8.2 3-5.3 5.6-4.5 27.4-6.1 9-10.4 6-1.8 6-5 9-13.8 9-10 9-4.5 6.7-5.4 2.8-6 5.5-7.5 12-4.5 5.9-6 3.1-1.1 2.4-4.9 3.4-15 7.6-9 3.2-6 25.3-24 2.1-3 3.3-9 7.9-9 13.8-12.2 11.8-8.8 4.2-6 11-7.9 6-1.4 15-7.5 15-2.6 19.7-7.6zM1115.5 1180.2l-6.6 7.8 0.3 3 6.3 4.3 6 7.4 3 1.7 6.4-1.4 5.6-5 8.1-4-0.5-9-1.6-1.1-9-2.2-6 6.5-3 0.8-1.8-1-1.2-7-6-0.8zM1361.5 836.9l-3.8 3.1 0.8 3.3 3.8-3.3-0.8-3.1zM998.5 1199.4l-1.7 0.6 1.7 1.1 0-1.7zM1007.5 1172.9l-3 0.8-1.5 2.3 6.4 3 6.2 6 2.1 6 1.8 1.3 1.1-4.3-0.4-6 2.2-6-1.3-3-1.6-2-3 0.4-3 3.8-3-0.2-3-2.1zM1115.5 1223.3l0 1 1.7-0.3-1.7-0.7zM1142.5 1208.8l-1.1 3.2 1.1 1.9 3-0.2 6 1.9 4.2-0.6-1.2-3.7-3-0.1-6-3.4-3 1zM704 579l1.1 0-0.6 2.1-0.5-2.1z"/>
<path fill="#91f31a" fill-rule="evenodd" d="M1046.4 357l27.1-0.1 6-2.2 9-0.1 3 0.6 6 4.1 15-0.3 6 2.6 9 0.2 9 3.2 9-0.3 18 2.2 6 2.4 9 1.5 6 3.6 6 0.7 6.8 5.9 11.2 4.9 12 1.2 9-1.3 9 1.5 5.7 2.7 9.3 8.5 9 2.3 12 8 21.1 8.2 4.1 3 5.6 9 5.2 5.9 3 1.3 18 3.1 4 4.7 5.3 12 11.7 11.9 6 7.8 1.5 13.3 4.5 7.2 6 6.1 9.6 16.7 2.4 7.2 5.9 7.8 17 30 23.5 33 18.2 33 10.4 22.3 10.7 31.7 2.4 9 1.1 12 2.3 6 0 9 4.8 6 0.8 3 0 6-2.2 6-0.4 9-3 12 1.5 18-3 9.6-6 6.4-6.6 2 0 3 2.6 3-5 6.7-19 2.3-0.1 3-1.9 3.3-3-1.1-1.1-2.2 2.9-3 1-3-5.8-1.1-2.2-1.9 0.7-9-2.1-6 0.5-3-2.9-2.6-6 1-3.6-1.4-2.4-3.7-3-1.1-2.1 1.8 2.4 3 2.4 9-1.6 3-4.1 0.9-6 7.4-9 5.6-3 0.5-3-2-12 0.5-3.4-0.9-11.6-18.6-11.5-5.4-0.7-3 1.2-6-1-1.8-6 0.9-2.2-2.1-0.3-3 2.5-2.8 3 4.5 2-4.7-1.1-3 2.1-1.1 6 1.6 3.7-0.5 1.7-3-2.3-6 0.9-3 5.9-9-0.9-1.7-3 0.2-3 1.8-4.6-0.3-0.3-3 3.7-6-1.8-3.4-6 3-9-2.1-6 3.1-9-2.3-3 2.4-3 0.8-1.3-10.5-4.7-5.4-3-0.9-6 4.2-3 3.7-9 2-2 2.4-0.4 3 8 12 3.4 1.1 3.9 4.9-0.7 3-3.2 2.2-3-0.3-3 4.5-3 0.3-3-1.2-9.3 6.5-1.4 6 1 3 3.7 3.4 2.3 11.6-5.3 7.5-3 0.3-1.4 1.2 2.8 3 1.1 6 6.5 6.5 6-1.5 6 1.7 6 3.2 3 8.2 12 10.4 4.6 7.5 3.8 3 6.6 9 7 3 4.7 9 0.8 6 2.2 3 3.3 3.4 6-3 9.9 8.6-2.6 6 0 3 1.7 1.7 1.4-1.7 10.6-2.7 2.6 2.7-0.6 6 6.5 3 0.8 3-3.3 3.5-6 0.2-5 11.3-1 4.9-3 0.1-3 2.5-1 1.5 1 2.4 6-1.9 3 0.4 3 3.7 3 0.9 6-3.1 6-0.1 9 12.3 9 3.3 1.3 3.1-6.4 9-0.1 3 2.7 6 0.5 12 2.1 3-0.9 6 0.9 12-8.9 12 1.7 12-1 3-4.9 6-0.2 18-4.8 7.8-8.9 7.2-4.1 6 1.4 9-3.4 8.4-3 1.1-6-0.8-7.9 3.3 0 6-1.1 1.9-9 6.2-3.4 0.9-1.6 3-0.2 6-1.3 3-5.5 3.6-5.4 8.4-6.6 6-3 0.4-9-2.7-3 0.3-3 2-1.9 3 2.2 6-0.2 3-5.7 6 1.3 6-1.7 1.5-3 0.2-6-2.6-3 3.5-9 4.5-9 0.7-4.3-4.8-1.7-0.9-3 0.3-2.8-2.4-1-3 0.6-3-6-15-0.5-9-2.3-2.1-9-4.8-3 0.5-5.6 3.4-1.1 9-8.3 2.2-3-0.4-2-1.8 0.1-3 3-6-1.1-1.7-6-1.1-9-7.4-6-2.6-9-8.5-6 5.6-2.7-2.3-3.6 0-2.7 4.6-3 0.8-0.6-8.4-4.3-3-4.7 0-13.4 9-1.2 3 2.9 9-1.3 3-7.4 2.7-8.2-5.7-2.1-3-0.7-3 1.8-6-2.8-7.4-5.4-4.6-6.3-3-6.3-1-6-3.5-3 1.2-3 4.5-9 1.6-6 3.7-12 4.4-3.6-1.9 1.2-3-0.4-3-3.2-2.6-3 0.4-3-2.1-12-2.5-5.1-8.2-4.2-3-2.2-3-0.7-3-3.6-3-1.4-3 5.2-1.5 1.3-1.5-0.9-3-8.9-3-0.1-3 5.6-2.8 0.5-3.2 8.5-7.3 2.1-7.7-1.5-3-6.6-2.8-8.3-6.2 2.7-9-3.4-6 0.1-3 5.9-5.8 1-3.2-6.6-6-1.5-3 0.6-3 4-6 0.5-3-7-4.9-1.3-4.1 1.3-7 3-0.8 3 1.9 5.4-6.1 5.2-3 2.7-9-1.3-5.5-3-2-3 2.5-3 0.2-2.3-1.2 0.1-3 5.2-2.8-4.1-9.2 1.1-4.1 3.1 1.1 2.1-12-7.6-9-6.6-0.5-9-6.2-6 1.3-4.5 2.4-4 6 6.4 3 1.7 3-8.6 4.5-5.4 1.5-3.5 3-1.3 6-1.8 2.4-3-5.5-6 3.1-6-1-6.7 4-0.3 6-5 3.4-1.1 2.6 1.1 1.7 6 0.2 7.1 4.1-3.8 6-0.5 3 3.1 3 5.8 3-1.7 3 2 2.3 6-3.1 3 0.2 6 4.1 6 1 6.9 4.5 2.6 3 1 3-1.4 3-3.1 1-3-1.3-3-7-3-0.4-1.1 1.7-0.2 6-3.2 3-1.1 6-5.4 6-0.3 3 0.8 3 4.5 3 4.1 9 1.3 6 3.6 3.3 8.1 2.7 3.9 6.6 3 1.9 3-0.8 1.7 1.3 2.8 6 0 3-4.5 2.5-3.8-2.5-2.2-5.7-6-0.4-2.3 3.1 1.4 6 3.9 6.4 6-0.9 5.3 6.5-1 3 1 6-2.3 4.2-3-0.5-0.4 2.3 6 6 1 3-3.6 2.2-6-4.3-2.9 2.1-0.5 9 0.9 3-3.5 4.7-1.5 7.3-7.5 4.4-7.4 1.6 0.2 3 6.4 6-2.3 3-5.9 3.2-3 0.1-6-1.8-6 2.2-2.4 8.3 1.5 9 2.6 3-1.7 1.2-6-2.2-12-0.6-9-4.4-6 3.6-18 4.2-6 0.2-12-6.7-3-4.5-21-10.8-12-11-9-2.8-4.2-5.2-10.8-6.4-9.6-11.6-19.9-12-3.3-3-8.7-9-1.2-12-2.3-2.6-6-1.6-2.2 1.2-3.8 5.4-6 2.6-3.1-2-2.9-14.3-1.5 2.3-4.5 0.5-4.8-3.5-1.4-3-5.8-6.4-6-1.8-9 1-9-2.1-21-13.7-2.8-7-6.2-10.4-4.1-4.6-0.9-3-16-17.4-3-10-6.5-5.6-5.5-9 1.2-12 4.4-9-1.4-6 0.4-6 1.4-3.3 3 0.4 5.4-6.1 4.3-3 0.8-3-1.5-4.1-6-1.8-3 1.7-6 6.2-3-0.4-0.8-1.6 3.2-6-0.5-3 1.1-4.4 3-1.4 6 4.6 3-1.5 9-0.5 3-1 6-5.3 15-2.4 15-8.8 2.7-9.3 3.5-3-3.2-1.3-3 0.9-4.1-2.6-2.6-3-0.5-3 1.2-1.5 3-0.8 6 2.4 6-6.2 3-0.8 12 2.4 6 3.4 3 0.4 3-3.9 3.3-1.4-0.3-5-3 3.3-3-0.1-6-2.6-3-6.4-9-5.3-0.9-1.9-0.3-3 1.2-1.2 6 5.5 3-0.4 3-2.3 6 1 1-5.6 3-3 0.4-3-1.4-8.8-3-3.5-9 1.7-3-1.4 2.4-6-1.7-9-4.8-6 0.9-3-1.6-3-3.5-3-1.7-3-0.5-3 1.5-1.7 6-1.4 2.3-5.9 0.4-6 3.8-3-0.5-3-6-6.6-1.8-8.4 5.5-12 4-6 0.2-9-1.9-2.7-6.5-3.3 0.5-2.2 3 0.8 2.8-1.6 1.4-3-1.2-2.6-3-1.2-3-4.2-3-2.4-3 0.4-1.5-2 2.1-6-4.2-6 3.6-3.8 3 2.2 2.4 4.6 0.6 5 3-2.5 3.8-11.5 5.2-5.5 3 0.6 1.8 1.9 0.4 3 2.5 3 4.3 3.2 3 0.2 6.2-6.4 1.3-3 0.7-6-0.4-3-2.4-3 0.6-2.1 3-0.2 3-1.9 6.5-7.8-1.7-6-3.7-3 3.2-6 0.4-6-2.8-6 1.1-3.9-0.9-2.1-8.1-1.6-1.2-4.4-1.8-1.8 0-16.2 1.5-3 3.4-3 7.1-1.9 6-3.5 9 0 18.3-9.6 25.6-39 16.1-14.6 6-7.2 6-1 12 1.9 3-1.1 22.5-47 4.5-6.3 9-11.6 9-4.4 14.7-22.7 5.1-6 7.2-6.4 14.5-8.6 3.5-6.7 6-6.3 3-2.2 12-2.3 4.9-3.5 25.1-9.2 11.9-2.8zM1280.5 734.6l3 2.7 2-2.3-2-1-3 0.6zM1400.5 749.3l-2.9 0.7-3.1 3-6 2.7-4.4 6.3-0.1 3 13.5 14.3 3 1.8 3-1.5 1.6-2.6-0.9-9 2.3-9-2.8-9-3.2-0.7zM1013.5 1076.6l2.3 0.4-2.3-0.4zM764.5 860.5l-6 2.2-3-0.2-5.4 4.5 2.4 2.9 3-1.5 3 1.2 6-5.6 0-3.5zM764.5 834.8l-1.3 5.2 2.8 3 4.5 2.4 1.4-5.4-7.4-5.2zM745.4 624l1.1-1 4.1 4-4.1 4.8-2-1.8 0.9-6zM1340.5 741zM1316 759l1 0-1 0zM1336.3 759l4.2 0.3 1.6 2.7 0.8 3-2.4 2.9-3-1.2-3-3.8-0.4-0.9 2.2-3zM1016.3 960l3.2-2.3 3-0.5 2.4 2.8-0.5 3-1.9 2.4-3 0.8-2.9-3.2-0.3-3zM1030.7 1083l0.8-2 0.8 2-0.8 2.9-0.8-2.9zM1165.5 1134l7 1 4.1 2 2.4 3-0.5 3-3 2.8-6-1.2-4.9-7.6 0.9-3zM1187.5 1143l3-1.9 3 0.2 1.8 1.7-2.9 6 0.7 3-1.2 3-4.4 3.3-3-0.4-3-2-1-3.9 1-2.3 6-1 1.8-2.7-1.8-3zM1232.3 1152l2 3-3 0 1-3zM977.2 1158zM1056.9 1221l7.6-1.7 3.7 1.7-3.7 7.6-6-1.2-1.6-6.4zM1074.9 1236l1.6-1 3 0.1 6 6.6-1.6 6.3-4.4 2.8-6 0.8-6 6-9 4.6-12 1.2-3-2.6-9-0.8-4.8-6-0.4-9 5.2-8 6 1.1 9-1.6 9 2.2 6 0.1 3 1.4 3-0.6 4.4-3.6z"/>
<path fill="#b4e90a" fill-rule="evenodd" d="M1042.5 369l13 1.4 6-0.5 6 2 9-0.2 9-2.4 12 1.4 12-1.1 27 6.6 6 2.4 6 0.4 6 2.6 15-0.2 6 4 27 8.8 15 4.3 12 0.8 21 8.8 15 2.7 18 9.2 9 7.7 6 10.5 12 8.2 6 2.6 9 0.1 3 1.5 3 2.5 4.5 8.9 15.5 15 1.4 3 0.3 9 4.2 9 11.9 18 4.1 18 6.3 6 4 9 7.8 11.1 15 17 3 5.9 13.1 17 5.5 9 11.3 21 15 42 1.8 9-0.4 6-2.6 9-6 9 4.5 12 8.8 11.8 0 3.2-3 3.5-3 0.7-3-3.7-6 1.4-1.7 1.1-1.4 6-8.9 5.1-3-1-3.8-4.1-2.8-6 0.6-4 3.8-2-6.8-2.8-2.7-3.2-6.3-15.8-3-5.3-3-2.1-9-0.3-3 0.9-2.7 1.6-0.4 3-2.9 2.3-9-3.1-9 3.1-6-3.6-6-0.5-3.5-4.2-2.5-6.3-3-1.9-3 0.4-4.1-1.2-7.9-7.9-6-1.2-6-6.1-6-4.2-3-0.8-6-0.7-3 1.2-9 7.7-3 1.2-6 0-2.4 1.8-0.9 6-1.3 3-1.4 0.6-12-6.9-3 0-8.7 9.3-4.1 12-5.4 3 1.2 6-1 5.8-6 5.4-1.6 6.8 1.6 9-2.1 6 1.5 12 0.6 1.4 3-0.2 1.2 4.8-1.2 3.4-3 0.4-2.4 2.2 0.6 6 2.2 6-0.6 3-2.8 3-0.6 3 3.1 9 5 6 0.7 3-0.7 3-2.4 3 2.6 6 0.1 9 4.2 4.1 6 2.7 3 3 6 3.3 6 0.9 4.7 4 7.3 2.7 3 0.8 6-0.6 6 5.3 6 2.1 3-1.3 3 3 3.6 6 0.7 6 4.7 7.2 1.6 4.8-3.1 15 0.3 3 7.9 9 9.5 18 4.2 12-1.8 6 2 9 9.4 12 6 1.4 1 1.6 0.3 3-2.2 6 1.3 6 4 3-0.5 3-3.9 1.9-0.5 4.1-10.3 6 1 3-5.2 1.2-6 3.3-1.3 1.5-0.6 6-4.1 4-6-0.8-6 2-9 5.5-3 0.5-3-0.3-6-3.1-12 0.2-3 0.9-6 4.3-7.5 1.8-2.1 3 0.9 6-1.5 9-3.5 3-4.3 6.9-6.9 5.1-5.1 8.5-18 13.7-9 1.6-9-0.6-6 3-12 1.1-9 3.3-15-1.3-6 1.1-15-5.2-15-3.3-9 2.4-6-0.3-6-3.4-12-1.3-4.5-1.3-4.5-3.2-6-0.2-1-5.6-3.5-6 4.7-12-1.1-3 0.9-9-1.3-9 2.7-3 0.7-3-2.2-3-1.3-15-7.6-9-0.2-9 2.4-3 0.5-12-4.4-6 5.6-3 1.7-3-2.9-6 3.3-9 1-6-1.9-12 0.6-3 4.4-6-0.4-3 2.3-4.8 0.7-7.2-5.9-15-3.8-4.3-6-3.4-6-0.3-9-4.4-12-15.1-21-8.7-3 0.1-9 4-3-0.6-6-4.4-12-5.4-9 2-3-2.7-3-0.9-3.8 5.1-8.2 6.8-9 3.2-9-0.8-12 3.4-2.2 2.4 1.1 6-1.9 2.1-3 0.5-3-3.6-3-1.6-3 3-3 1.1-9-0.8-7.8-6.7 0.5-6-1.7-4.4-15-6.6-3-5-12-2.4-9 2.1-6-0.2-15-4.6-7.2 0.1-10.8-3.6-9-7.9-6.3-3.5-2.7-10.5-6-5.3-2.3-5.2-2-9 0.8-6 5.7-3-0.4-3-6-9-0.3-3 5.4-6 0.7-3-3.3-6-8.4-9-2.2-6 5.8-15 8.3-9 5.1-9 5.1-3.8 0.9-2.2-0.4-6 4.3-9 0.2-9-2-6 0.5-12 4-6 1.8-6-1-15 3.4-6 0.4-3-1.8-6-1.3-12-2.9-6 3.1-6 2.2-15 6.6-4.3 13-13.7 14-19.7 3.5-10.3 5.5-5 12-14.5 6-3.9 12-0.9 7.3-2.7 7.2-15 6.5-7.5 7.4-4.5 2.3-6 6.4-9 3.7-9 24.8-27 8.8-18 6.6-7.3 3-2.4 9-4 12-10.3 18-11.1 29-9.9zM1441.6 744l0.9-2.9 6.8 5.9 5.2 9.1-3 1.3-3-1.2-1.2-3.2-5.6-6-0.1-3zM1456.9 744l0.8 0-0.2 3.7-2.2-0.7 1.6-3zM717.6 903l4.9-0.5 9 3 12-1.5 9 0.8 3 1.5 6 7 9 0.2 0.9 1.5-1 3-5.9 1.8-0.8 1.2 2 9 1.8 1.7 3 0.7 15-1.7 2.1 2.3 0.9 9-1.7 3-3.7 3 2.4 6 3-0.2 3-3.7 9-1.6 3-2.4 6 0.4 3 3.9-0.5 3.6-2.5 2.2-6 2.4-7.1 7.4 3.5 6 8.7 3 4.1 3 2.8 4.5 6 0 3-4.8 3-1.7 6 1.6-4 6.4 4 4 3 7.3 6 4.3 6 1.1 12 7.5 6-2.1 12-1.6 6 1.5 3-0.2 5.3-6.8 3.7-1 3.2 1 3 3-1.3 3-7.9 1.6-1.5 1.4 0.8 3 3.7 2.5 6-2.1 3 2.6-0.1 3 3.1 0 3 2.6 2.1 3.4 0.8 9 3.5 3 1.5 3 0.2 3-2.1 4.6-6.5 1.4-1.7 3 2.1 3 6.1 0.7 3 2.5 3 0 3-4.4 3 0.2 4.7 4-0.5 6 7.8 6.1 3-0.5 1.2-2.6-5-9-0.6-3 1.4-3.1 0.8 6.1 8.2 2.9 2.3 3.1 1.1 3-4.3 3 1.6 3 5 3-3.6 3-2.1 11.1-4.3 3.9 0.1 6 3.1 3 0.3 3-6.8 6 0.9 6-1.9 3-3.4 2.1-6-0.2-6 3.6-3-0.3-9-6.2-9-0.9-3 1.6-0.8 3.3-2.2 1.4-6-0.4-4.8-7-4.2-3.1-15-6.1-6.2-5.8-11.8-6.5-6-5.2-3-1.4-9-1.3-6-4-2.2-2.6-4-12-8.9-15-0.6-6-2-6-6.1-6-3.5-6-0.9-9-1.8-2.7-3-2.7-3-0.5-6 3.4-3-1.1-1.5-2.4 0.3-6 4.2-1.4 5.1 1.4 0.9 2.7 3 2.1 3-0.2 2.2-1.6-1.6-3-3.9-3-2.7-30.2-3-1.3-4.7 1.5-4.3 0-6-1.8-2.2-1.2 0.5-3-1.3-2.2-0.4 14.2 4.3 3 2 3-0.2 3-3 6-2.7 2.1-9 0.6-6-0.7-3 1-0.6 6-2.4 2.4-3 0.3-3-1.6-3 1.7-9 0.7-3-1.6-1.7-10.9-4.3-1.6-2.2-4.4-3.3-3-7.7-3-2.8-9-1.3-12-2.2-6 0.2-9-5.3-15 3.6-5.5 0.9-3.5 10.1-9 2.8-9 2.3-3zM776.5 951.5l-2.7 2.5 2.7 2.1 2.5-2.1-2.5-2.5zM785.5 954.1l-1 2.9 1 2.9 3 2 1.1-1.9-1.1-4.9-3-1zM809.5 983.8l-0.4 3.2 4 0-2.2-3-1.4-0.2zM944.5 1076.2l-1.4 0.8 1.4 0.9 0-1.7zM780.3 924l2.7 0-0.4 3-2.3-3zM811.8 936l3.7-0.7 2.4 3.7-0.2 3-5.2 1.3-2.5-1.3-0.7-3 2.5-3zM915.8 996l1.7-0.8 1.9 0.8-1.9 5.1-1.6-2.1-0.1-3zM1357.8 999l3.7-2.6 3 2.5-1.1 6.1 1.4 3 3.3 3-3.6 4.2-3 0.6-3.5-1.8 1.3-6-2.4-6 0.9-3zM919.2 1050l1.3-1.1 1.9 1.1-1.9 1.2-1.3-1.2zM1286.7 1065l2.8-1.7 6 0.7 3 2.3 3 5.5 3-1.4 3 0.6 4.1 3 1.1 3-2.2 1.8-6-2.3-4.6 6.5 0.3 3-1.7 2.9-6 3.6-9-0.2-9 1.9-3.5-2.2-3.5-6-2-1-3 0.6-3-1.7-6.1-6.9 3.8-6 2.3-1.6 9.7 4.6 0.8 6 1.5 1.9 6-1.8 6 0.3 2.4-3.4-0.8-3 1.6-9zM1255 1101l1.5-0.7 0.5 0.7-0.5 3.6-1.5-3.6zM901.6 1125l0.9-1.7 1.6 1.7-1.6 2.5-0.9-2.5z"/>
<path fill="#d1de00" fill-rule="evenodd" d="M1093.3 381l16.2-1.2 14.3 4.2 12.7 8.7 27 4.6 6 2.3 6 0.1 12 2.4 9 5.6 9 0.3 6 2.4 21 12.9 3-0.9 27 7.2 9-2.1 3 0.7 0.7 0.8-2.5 6 2.2 6 2.6 2.2 9 0.1 6 2.4 3 3.8 8 6.5 16.3 9 17.6 18 0.9 6 2 3 3.9 3 9.4 12 6 12 1.2 9 6.3 15 5.8 6 4.7 9 22.9 26.1 4.8 9.9 10.2 11.1 3 7.2 12 13.7 3.2 10 1.1 12 3.4 3 1.4 3-0.5 9-1.6 3-4 4-9 4.6-6 0.6-3-0.9-3-5.3-3-3.2-3-1.3-6 1.5-3 5.2-6 4.8-9 0.9-2.6-1.9-3.4-9 0-3.1-15-9.3-15-1.9-9-5.3-3 0.3-3 2.4-3-1-1.7-3.1-4.3-3.8-12-1.8-3-6.5-9 3.9-3 0-3-7-6 0.2-9-6.6-3-0.1-6-2.6-3 0.1-1.4 3.2 1.4 3-0.5 3-4.7 6-0.8 6.3-6 0.9-9-3.5-10.8 2.3-9.4 9-4.8 3 0.1 3-1.7 3-4 3 0.6 3-2.8 9-6.2-2-3 1.1-3 5.8-4.3 4.1-1.1 3 2.8 3-2.6 6 2.2 5.8 3.1 0.2-3.1 0.1-2.6 2.9 0 3 2.6 2.5 3-0.4 3-3 3.3 3.9-2.3 15 2.4 6-0.3 6-7.8 3-1.1 3 1.2 3 0 12 6.7 6 2.9 12 6.3 6 0.7 3.6-1.5 5.4-2.6 3-7.9-0.8-6 2.2-6-0.8-1 2.4 2.4 6 4.9 3 0.8 3-4.1 5.6-3-0.6-7.9-5-5.3-9 0.5-3 6.7-1.5 1.8-1.5 0.6-3-6.6-9-1.8-1.1-3 1-6-6.2-1.2-8.7-1.8-1.7-6-0.3-6-2.7-14.1 7.7-0.6 3 1.5 3 6.1 6-0.3 3 1.4 2.8 6 3.6 3 4.6 3 0.3 3-1.2 3.1-4.1 2.9-1.7 6-1.4 1.9 3.1-0.3 3-5.4 3-2.2 7.4-3 3.5-3 1.3-6-2-3 1.5-3 4.6-6 3.9-1.5 3.8-0.4 3 1.9 5.6 6.1 6.4 2 18 5.1 6 1 3-2.2 6.3-4.4 2.7 2.2 6-3.8 2.8-0.6 3.2 3.4 6 7.4 6 4.8 8.8 6 1.5 3 5.1 3 0.6 2.3-1 3.2-6 3.5-2.2 6 1.3 1.4-2.1-0.9-3 2.3-15-5.7-12 0.7-6-0.8-3-4.8-6-0.7-12 5.4-9 3.1-11.1 6-2.2 9-6.2 2.7 1.5-0.2 6 3.4 6 1.3 6 2.7 3 1.6 9 2.1 3 1.4 4.8 3-1.9 4.8 3.1 0.4 3-5.5 9 0.3 8.4 12 4.9 3 2.9 3 0.3 6-1.7 3-3 3-0.4 3 5.5 1.8 4.1-0.8 3-4 0.8-2.6 2.2-2.9 3-0.8 3 9.3 6.7 6-1.5 3 0.3 5 9.5-2.5 6 0.5 1.6 4.6 4.4 0.1 3 1.3 1.4 3 0.6 4 4 2.4 9-1.8 3-4.6 3-0.3 3 3.3 4.6 6 4.4-0.4 3-2.2 3 2.1 6-5.2 6-0.6 3-4.5 6-1.2 6.8-6 3.7-6 5.7-6 0.5-2.1 1.3-3.9 7-4.9 2-2 3-5.1 3.8-6 2.6-9 8.5-6-0.4-12 2-4.9 4.5-1.1 6-3 4.9-3-1.8-3-4.7-3 0-15 5.5-6-0.9-3 4.3-5.9 1.7-0.1 3.2-6-2.1-6 0.9-6-1.6-6 0.7-2.1-1.1 2.1-1.3 6-0.2 1.8-4.5-2.1-3-8.4-6 0.7-6-1.6-6 0.6-3 3-1.2 3 0.1 2-1.9 1-11-14.1-16-8-6-1-3 2.7-3 6.4-3 1.7-3 0.3-6 2.6-3-0.3-3-2.3-3.3 3-4.2 9-3.5 2-7-2-4.7-6-4.8-3-1.1-3 0.6-3 3.1-3 0.8-3-2.2-3-5.2-6-1.3-0.6-3.2 2.7-12-1.5-6 0.5-12-1.8-6 0.3-3 3.4-4 4.6-2 4.4-1.5 6-0.1 2.1-1.4 0.9-3-0.7-3-3.4-6 0.1-3 2.5-3-4.5-9.3-7.5-2.7-4.8-6-4.6-3-1.3-3-0.6-15-1.1-3-9.3-9-0.5-3-4.5-6 0.3-6 1.8-3-0.9-3.5-3-4.3-3-0.7-6 3.9-15-8-6-1.7-2.7 2.3-4.2 12 0.8 3 4.3 3 2.2 3-3 12 0.3 3-6.7 10.6-3 2.6-3 0-0.8-4.2 4.8-3-1-4.1-6-0.3-7 4.4 1 8.8 6-1.2 2.1 1.4 2.1 6-1.2 3.4-3-0.8-6-8.5-9-0.3-15-5-12-15.4-3-1-21 1.1-6 2.4-3.3 0.1-3.8 6-1.9 6.8-3 2.2 1.4 3-0.5 3-6.9 1.1-0.7-1.1 1.8-3 1.9-2 3-1-3-1-3.8-5 0.3-3 1.9-3-4.4-3.1-5.8-8.9-9.2-3.5-3 3.6-3 0.3-6-4.3-3.5 0.9-2.5 1.7-3 5.9-3 0.2-1.8 1.2-0.7 3-9.5 9.1-6-1.4-3 0.8-6-0.5-6 1.5-6-0.5-6 4.5-3 0.8-6-2.2-3 0.1-9 3.7-6 0.6-3-1.3-10.2-9.2-2.1-3-0.5-3 1.5-9-1.7-6 0.6-3 5.8-6 0.4-6 2.1-3 1.1-1.4 3 0.6 1.2-2.2-4.2-3.8-1.1-2.2 0.2-3 3.9-2.3 3 0.2 3-1.7 2.6-5.2-4.1-6-1.5-6.2-3-1.2-6 7.4-3.3-6 0.3-12.7-6-6-3.8-8.3 0.6-6 4.1-6 0-6 2.7-6 1-6 5-6 1.2-15 3.6-6 1-6 0.7-15 8.9-12 2.4-12 4-9-0.6-3-2.5-3-7.3-3.8-6.6-5.2-0.5-6 0.9-3 14.1-15 3-6 7.1-4.4 9-10.8 1.5-2.8-2.5-9 1-3.4 6.1-8.6 8.9-7.3 9-2 9-4.1 3.2-4.6 2.8-9.9 6-2.2 9 1.6 6-4.2 1.6-3.3-0.4-6 1.9-6 5.9-6.5 6-10.8 8.2-6.7 9.8-17.1 6.6-6.9 5.4-11.9 7.3-6.1 10.7-6.3 9.9-8.7 7.4-3 6.7-5.9 12-6.8 15-4 12 3.6 12-3 12 1.1 13.8-3zM1097.5 767.3l-3 7.1 3 9 3 1 3.4-1.4 1-9-0.8-3-3-3-3.6-0.7zM1133.5 694.7l-2.6 1.3 0.7 3 1.9 1.4 4.3-1.4 1-3-5.3-1.3zM1160.5 695.5l-1.5 0.5 0.1 3-4.3 3-1.4 3 4.9 12 0.3 6-1.1 2.6-3-0.5-3 4.4-1.3-0.5-1.7-3.4 7.7-5.6-7.7-9.7-3-0.2-3 3.3-6 1.7-2.7 4.9 1.3 3-4.6 7.7-6-3.2-3-0.2 0-2.2 5.5-2.1 0.3-3-5.8-19.5-3-0.9-2.9 2.4 2.8 6-1.8 12-1.7 3-8.3 6-1.8 3 4.7 1.2 1.8 1.8 2.4 9-2.8 6 1.6 2.2 3 0.4 6-3.8 3-0.6 2.8 1.8-0.6 9 1.6 6 2.2 3 3-1.7 3 0.4 5.2-4.7 0.1-3-2.3-3-3.5 0-0.4-3 0.9-1.1 6 2 3-0.5 2.8-3.4 0.3-3-3.4-9 3.3-2.2 3 1.3 8.6 6.9 6.4 8.9 3-1 3-4.9-3.9-6 4.7-9 2.2-2.8 6.2-3.2 0.9-9-1.1-3.6-3-2.9-6 5.2-2.2-1.7 0.7-6-1.8-3-1-6-1.7-2.3-6-1.2zM1187.5 684.1l-4.5 5.9 1.1 3 6.4 0.2 1.5-6.2-4.5-2.9zM1145.5 959.8zM1142.5 964.6l0 4.4 0-4.4zM1049.5 814.8l0 2.1 3-0.6-3-1.5zM1106.5 761.6l0 1.6 3 1.4 3.2-2.6-6.2-0.4zM1118.5 758l-1.8 1 0.8 3 1 0.3 1.6-0.3 1.9-3-3.5-1zM1124.5 776.6l-2.1 6.4-5.2 3 0.7 6 3.6 2 6-4.4 3.2-0.6-2.9-3 2.7-6-0.3-3-2.7-2.9-3 2.5zM1133.5 769.3l-1.9 1.7 1.9 1.8 3 0.7 2.2-2.5-2.2-1.7-3 0zM1190.5 758l-2 1 0.5 6-2 6 0.5 1.5 3 0.4 4.4-1.9 1-3-0.5-6-4.9-4zM1204.6 687l1.3 0-0.4 3-0.9-3zM1123.9 738l6.6-1.9 2.8 1.9-5.8 4.4-3.4-1.4-0.2-3zM1157.1 777l3.4-1.1 1.9 1.1 0.5 3-5.4 1.7-1.3-1.7 0.9-3zM927 816l2.5-1.4 3 1 2.2 3.4-2.2 2.8-6 1.6-2.1 4.6-3.9 2.2-6-2 0.9-3.2-0.6-6 2.7-2.3 6 2.7 3.5-3.4zM1282.2 918l4.4 0-3.1 3.3-1.3-3.3zM1285.7 924l0.8-0.8 1.2 3.8-1.2 0.8-1.4-0.8 0.6-3zM1130.1 954l0.4-0.9 1.4 0.9-1.4 1.1-0.4-1.1zM1127.4 1020l6.1-1.5 1.4 1.5-1.6 6-2.8 0.8-5.1-0.8-0.8-3 2.8-3zM1133.4 1062z"/>
<path fill="#ebcd00" fill-rule="evenodd" d="M1066.8 393l15.7-0.2 18-1.9 9 2 12 4.7 9 6.2 12 3.5 9 4.9 9 0.5 6 2.7 18 2.6 9 2.5 6 5.9 3 1.4 6-0.3 2.7 1.5 4.6 6 7.7 4.6 9 2 6-1.7 3 0.2 6 5.2 9 5.5 6 0.9 6 5 6 0 6 2.3 12 8.4 9 3.5 7.9 12.1 10.2 9 9.2 12 2.7 5.8 8.2 6.2 9.8 14.9 0.8 9.1 3.5 6 7.7 9.4 6 3.9 12.5 13.7 8.8 18 0.8 6 1.5 3 8 6 9.1 15 11.2 9 2 3-0.9 3-8 7.8-6 2.7-15-1.7-9-4.1-3 0.4-9-3.6-7.6-10.5-7.4-2.6-3-2.2-6-11.1-6.4-5.1 3.2-9-5.8-13.7-3-2.8-9 1.5-5.4 9-3.6 1.1-12-2.7-9 1-12-4.7-6-0.2-6-4.1-3-0.5-6 2.5-6-0.6-3 2.2-9 2.4-21 10.9-15 22.5-7.2 3.2-1.8 2.2-6 1.6-3.3 2.2-1.2 3 0.2 3-1.7 3-9 2.3-3-0.1-3-2.2-3 1-9 4.5-6 1.5-3 2.4-3 5-3 1.8-6-1-12 8.1-12 0.3-3.7 3.4-2.5 6-2.8 0.9-6-1.7-6 0.7-6 3.7-9 3.2-3-0.6-6 1.5-2.4 1.3-3.6 4.8-6 1.6-6 10.2-12 9.7-3 0.2-3 1.8-4.5 7.7-3.4 3-1.2 3 0.9 3-1.5 6 1.4 3 3.8 3 0 3-1.5 1.5-3-1.1-3 1.3-4.4 4.3-0.7 3 1.3 9 4.3 3 1.8 3-2.3 4.5-6.1 7.5-2.6 6-6.3 1.9-5.4 4.1-3.6 1.2-9-2.5-6 1.1-3-3.4-12-3.9-6 2.7-6-3.3-9 0.2-18-9.2-3-0.4-15 3.3-6-3.3-3 3.3-3 0.2-6-3.1-3 0.3-3 2.3-3 0.6-4-7.1 0.2-3 0.8-2.2 3 0.7 1.8-1.5-1.8-2.9-3 1.8-3-6.1-3-1.6-3 0-3-2.2-6-8.6-5-4.4-3.7-9 0.3-6 2.5-6-9.1-10.1-1.7-4.9 1.7-7.1 6-4.8 1-3.1-2.5-12 1.5-6 2.2-3-0.8-3 0.9-3 14-9 2.1-3 1.5-6 2.9-6-1.1-6 1.9-12-6.1-12-2-12 0.4-3 4.2-9 0.3-6 6.6-6.4 6-9.5 6-6.6 2.5-4.5 0.5-4.6 6-3 7.8-13.4 4.2-2.5 6-1.1 13.3-8.4 7.7-12 1.8-12 6.5-12 9.7-12.6 7.5-5.4 5-9 7-9 1.8-6 4.7-6 7-4.5 10.9-10.5 10.1-6.6 6-2.5 5.8-5.9 5.6-3 12.6-3.7 12-0.1 11.3-2.2zM884.5 752.6l0 2.9 0.9-2.5-0.9-0.4z"/>
<path fill="#fbb500" fill-rule="evenodd" d="M1068.3 405l8.2-0.7 3 1.7 8.7 2 6.3-0.9 12 4.1 9 1 9 6 18 6.5 6 3.4 6 1.5 15 10.7 6-0.3 9 1.4 6.6 5.6 3.7 6 4.7 2.4 9 0.2 9 2.8 6 4.8 3 0.8 3-1.7 12 0.8 9 4.8 9-0.2 4.2 6.3 4.8 1.2 3 2.3 2 5.5 0.1 6 0.9 1.3 3 2 3-3.5 3-1.7 1.2 1.9-0.2 6 8 11.1 3 1.4 12-0.6 2.8 3.1 0.2 6-6 0.9-2.6 2.1-1 3 0.6 2.7 3 1.7 6-0.4 6 3.2 3-0.3 3 1.6 2.6 3.5 5.5 3 1.2 3-1.8 6 3.3 6 0.4 3-1.5 3-6.7 3.2-9-2.7-8.3-9.5-6.7-1.6-3 0.1-3 5.9-3 0.8-6-2.8-6 0.1-6 1.7-9-3.4-3-2.4-3 1.8-3-0.3-3-2.5-9-1.6-3 0.1-6 2.3-6-2-9 0.9-3 2.8-3-2.8-3-0.2-0.9 3.1 0.6 3-3.1 9-2.6 3.8-6.3 2.2 0.7 6-2.4 6 0 3-2.4 3-8.3 9-12.7 9-2.6 3-2 1-6-0.8-6 7.6-0.6 4.2-2.4 4.4-15 11.7-3 1.7-9-0.8-1.8 1-4.2 6.6-2.9 2.4-6.1 0.5-9 5.1-6 1-6 3.1-3 0.4-12 7-3-0.8-3.5-4.3-2.5-1.4-3-0.2-12 4.3-9 15.6-3 3.4-3 1.6-3 0.4-12-2.5-3 0.5-6 2.2-3 4.6-6 4.8-9-3.9-1.1 0.6-1.9 7.6-6 2.1-2.1 2.3 0.4 3-1.3 3-15 11-3.9-2-4.8-12-3.3-1-2.3 1-0.7 2.3-9-17-3-0.9-9 0.3 7.7 6.3 2.4 9 3.2 6 7.4 6 0.3 3-3 2.3-9-3.1-2.3-2.2-2.2-6-4.5-2.5-3 0.6-9 2.5-8.9 8.4-0.8 6 0.9 6-3.2 0.7-3.2-3.7-3-9 3.4-3 1.4-3-5.1-6-2.5-6.4-3-0.6-2.5-2 0.9-3 3.4-6 4.2-3 7.9 9 5.2 3 1.9 4 5.4-1-0.7-3-3.4-3-0.8-3 1.3-3-1.2-6 0.5-6-2.8-9 1.3-9-5.6-5.3-2.3-0.7 2.5-3-1.6-9 3.5-12-2.1-3-9-4.8-3-7.2-3.1-3-1.2-6-3.8-6-0.6-3 2.1-12 3.6-5.5 6-5.5 3-1.3 3 0.8 6-2.5 3.1-10 5.9-4.7 2.5-4.3 9.7-6 5.8-2.1 3-2.9 2.2-4 1.6-9-1-6 0.7-3 5.5-13.2 3-2.6 6 2.2 8.6-1.4-0.4-3 2-3 6.5-6-1.1-6 7.9-9 3.6-6 1-6 1.6-3 7.4-3 6.8-6 0.5-6 6.6-9 9.5-6 4.8-6 15.7-7 6.8-5 18-6zM923.5 653.3l-1.6 0.7-0.9 3 2.5 0.8 1.1-0.8 0.2-3-1.3-0.7zM968.5 677l-4.5 4-0.8 3 2.3 6.2 3 2.3 3 0.3 2.5-2.8-1.7-3 1.4-3-0.1-3-2.1-4-3 0zM1361.1 573l3.4-0.4 3.9 3.4-0.3 9-3.6 4.9-6-4.7-1.6-3.2 0-3 4.2-6zM901.3 651l1.2-0.8 4.9 0.8-1.9 0.5-6 6.1-0.8-3.6 2.6-3zM971.2 720l0.7 0-0.7 0z"/>
<path fill="#ff9b00" fill-rule="evenodd" d="M1081.8 432l4.9 0 7.8 6.9 6 2.4 3.4 5.7 5.6 5.5 3 10.5 9-2.2 6 1.3 6 3.9 3-1.6 4.5 3.6 4.5 1.2 6 16.8-3.8 12 1.4 3 7.9 9 3.5 13.8 3-0.3 3-3.6 3-0.2 3.7 2.3 1.5 3 0.4 6-2.1 6 0.8 6-5.4 9-4.9 5.3-3 2.1-6 0.1-1.1 1.5 0.1 6 2.4 6-1.1 3-3.3 1.9-7.4 1.1 1.4 3.7 0.2 5.3-3.2 6.3-6 1.6-6-4.1-3 1.4-1.1 3.8-4.9 1.7-6 4.6-3-0.1-3-2.1-3 1.6-3 4.6-3-0.4-3-2.5-2.8 1.6 0.9 3-2.3 3-4.8 3.7-3 0.5-6-2.2-3 1.1-6-1.5-5.7 7.4-6.3 5.1-6 0.1-9 3-6-0.7-9-3.4-6 1.8-9-0.7-3.7 3.8 1 3 4 3-1.3 1.9-3-0.7-9-8.6-6 0.8-12-2.6-6 4.4-1.8-1.2-4.2-7.6-3-1.2-2.6 2.8-0.4 3-6 0.7-2.5-3.7-1.8-9 3.6-3 1.4-6-3.7-4.6-6-3-8.6-10.4 2.9-9-1.3-12 1.4-12 5.9-6 8.5-6 3.2-4.7 9.8-7.3 5.2-8.9 6.7-6.1 9.3-21 15.1-18 16.9-12.5 6.8-2.5 5.2-9 1.2-12 1.8-1.3 15-0.1 4.9-4.6 4.1-1.7 9 0.2 8.3-1.5zM1100.5 473.5l-3 1.1-1.4 2.4 1.4 5.2 3 1.2 2.7-6.4-0.4-3-2.3-0.5zM1139.5 476.9l-1.3 3.1 1.3 3.2 3-1.2 1.7-2-0.6-3-4.1-0.1zM1076.5 599.4l-1.3 0.6 1.3 1.6 1.1-1.6-1.1-0.6zM1103.4 618l1.4 0-1.4 0z"/>
<path fill="#ff7b00" fill-rule="evenodd" d="M1056.9 483l4.6 0.2 6 7.9 3-1 6.3 1.9 8.1 15 0.5 9 3.1 4.1 10.2 7.9 2.3 3 0.4 3-0.9 1.3-8.9 1.7 2.9 0.6 5.1 5.4 0.3 3-2.4 1.7-6 1.5-2.8 2.8-6.2 2.2-3-0.6-1.5-1.6-1.8-6-2.7-2-3 0.4-2.7-1.4-0.9-3 3.6-3 3 1.2 3 4.8 3.1-3 0.7-6 5.2-0.8 3 2.6 1.8-1.8-1.8-2.8-3-0.8-3-3.2-3-0.5-3 2.8-12 2.7-2.2 1.8-0.9 3 0.1 7.1-1.9-1.1-0.4-3-2.1-3-4.5 0-3.1 2.9-4.2-2.9 0.4-6-1-3-6.3-9 3.4-9-1.3-3.6-3 0.5-0.5 3.1-2.5 2.8-3.3 0.2-3 3 1.4 3 0 6 2.5 9 3.1 3-2 9-1.6 3-3.1 1.7-6-2.2-3 0.2-3-7.4-3-1.9-3-8.4-0.3-6-2.8-3 0.3-3 6.1-6 3-9 2.4-3 6.3-2.4 6 2 3-0.3 3.1-5.3-0.1-4.5 6 0.6 3-0.9 6-5.4 4.4-1.8zM1038.8 540l1.8 0-1.8 0zM1049.1 546l0.4-2.6 4 5.6-1 1.3-4.3-1.3 0.9-3zM1016.2 552l3 0-2.7 0.8-0.3-0.8zM1018.6 558l0.9-2.2 4.7 5.2-1.7 1.6-6 0-2.2-1.6 2.2-0.5 2.1-2.5zM1073.4 558l3.1-0.8 0.1 0.8-3.1 1.5-0.1-1.5z"/></g>
<g fill="none" stroke="#fff" stroke-opacity=".55" stroke-width="1.3" stroke-dasharray="5 6"><circle cx="1079.5" cy="783.0" r="541.9"/><circle cx="1079.5" cy="783.0" r="485.8"/><circle cx="1079.5" cy="783.0" r="396.7"/><circle cx="1079.5" cy="783.0" r="280.5"/><circle cx="1079.5" cy="783.0" r="145.2"/><path d="M518.5 783L1640.5 783"/><path d="M593.7 502.5L1565.3 1063.5"/><path d="M799 297.2L1360 1268.8"/><path d="M1079.5 222L1079.5 1344"/><path d="M1360 297.2L799 1268.8"/><path d="M1565.3 502.5L593.7 1063.5"/></g>
<path fill="none" stroke="#000" stroke-width="2.6" stroke-linejoin="round" stroke-linecap="round" d="M1165.4 210l4.1 1.1 12 11.1 3 1.7 3-0.5 3 0.7 3 3.7 9 4 3-0.4 3-3.9 3-1.3 6-0.7 3-2.5 4.5-1 4.5-3.7 1.9 0.7 1.7 3 8.4 1.9 3 1.7 6 0.2 6 8.2 3 2.7 6 1.9 6.1 4.4-3.1 4-3-0.6-2.3 2.6-1.5 6 0.8 1.7 3 1.8 9-9.1 3-1 9 1.3 3-0.4 6 2.1 0.5 0.6-0.9 6 0.4 1.8 3.5 4.2 5 3 0 6 3.5 3.1 4.9-0.1-0.7-3-3.2-3-0.9-3 0.1-6 2.8-2.1 3.2 5.1 2.8 2.3 3 0.5 3.6-2.8-0.1-3 2.5-2.6 6 1.8 9.3 0.8 1.1 3 4.6 2.2 4 3.8-0.6 3-3.5 3 0.1 7.3 0.1-1.3 8.9-4.1 1.6 1.1-1.4 3 5.8 7 3-0.7 3-2.9 3 0.5 3 2 3 0.6 3-4.6 8-4.9 1-0.2 6 2.4 1.3 0.8 1.1 3 0.1 3 1.9 6 1.6 2.3 6 3.1 2.5 6.6 2.6 3 3.9 1 6-1.3 4.3 3.3 1.7 3 9 1.1 4.7 1.9 1.7 6 6 9-0.4 2.8-0.7 0.2 2.8 3 6 3 2.8 3 4.1 1.9 3-2.8 3-1.3 3 0.5 2.1 1.7 2.8 6-4.9 5.1-6 3.2-0.6 0.7 0.5 3 3.1 2.8 3 0.4 6-1.5 6 8.5 2.7 1.8 3.3 0.3 6 4 3 0.9 6 3.4 1.2 6.4-0.6 3 5.4 3.8 1.4 5.2 4.9 9 5.7 3.5 3-0.4 1.9-3.1 4.1-2 3-4-3-3 1.3-3 1.7-1.1 2.8 1.1 3.1 3-0.2 3-7.5 9-1.8 6 2 3-1.9 3 0.3 3 3.2 4.5 3 0.6 6-1.3 3 1.4 6 6.1 1.5 0.7 1.5 2.3 3-1.5 3 2.1 3-1.7 3.3 1.8-3.3 3.3-4.1-0.3-4.9-2.3-1.9 5.3 1.7 6 3.1 6 1.8 6 7.3 4.4 4.7 10.6 5.4 6 0.7 3 6.9 9 3.3 9.2 6 4.1 0.2 1.7-2.4 3 0.4 3 2.2 3 2.6 6.9 1.8 2.1 0.8 3-0.4 3 1.5 3 2.3 3.7 3.2-0.7 5.8 4.2 1.2 1.8 0.5 3-2 6 0.5 3 2.9 6 2.6 3 6.3 5.1 3 1.5 3-4.4 3-0.1 1.5 0.9 1.9 6 2.6 3 2.1 6 2.1 3 3.1 9 1.7 2.3 1.5 0.7 0.7 3-0.7 3 1.5 3M1403.5 340.8l-1 4.2 0.9 3 3.1 1.2 1.5-1.2 0-3-1.5-2.7-3-1.5M1493.5 472.9l-1.2 1.1 1.2 2 3 1.7 1.6-3.7-1.6-1.6-3 0.5M506.5 593.4l3 1.2 9-8.2 0.6-1.4-0.4-6 1.4-3 3.1-3 5.7-15 4.6-3.4 7.9-8.6 1.3-3-1.3-6 0.2-3 2.6-3 7.7-6 2.7-6-1.3-6 2.6-12 3-3 1-3-2.4-6.4 3-3.4 4.4-2.2 1.6-3 2.4 3 1 0 0.7-3-0.9-6 0.4-6 2.4-1.6 0.6 1.6 2.4 1.6 3.2-1.6-0.2-3.3-4.5-5.7-4.6-3-0.2-3 3.3-0.9 1.6-2.1 1.4-5.7 3 0 3-4 0.6-2.3-0.6-1.5-3 0.5-3 6.8-3 0.3-1.7-6.1 1.2-3 5.8-6-0.2-3-2.1-6 2-3 0.4-6 3.6-1.9 0.7-1.1-0.6-3 3.7-6 6.4-3 1.7-3 0.5-3 2.9-3 1.9-6 3.8-1.3 6-0.2 3-1.3 3 0.6 3 2.5 2.1-0.3 6.9-12 6-3.5 6 2.6 1.3-2.1 0.4-3-2.9-3 1.2-0.9 3 0 6-2.4 3-2.1 3 1.6 3-1.6 3-5.3 9-2.8 5-4.5 4-1 6 3.1 2.3-2.1 1-3 2.7-1.4 6-1.1 3 0.5 6-1.8 6 1.4 0.7-0.6 0.3-3 2.5-3 8.5-9.3 9-7.7 6-2.6 6-0.1 3-0.8 4.3-3.5 7.7-2.9 3-0.2 4.7-2.9 10.3-2.4 3-1.7 3-3.6 2.2-1.3 6.8 1 3-0.8 12-6.5 9-2.4 6-6.1 9-1.7 9-4.6 6-0.6 6.2-2.3M905.5 243.4l9-2.3 12-5 18-1.9 15-5.1 12-2.3 6-0.2 12-4.9 15-1.8 6-2 12 0.7 9 4.3 3 0.9 3-0.4 9-4.3 9-1 6-4.5 11.9-3.6M1007.2 237l6.3-0.5 3 0.9 21 0.9 12-1.6 18 1.8 3 2.7 6 0.5 3 2.5 9 2.7 9 1.2 6-2.2 15 2.2 12-1.7 12 2.3 3 2.6 6 3.3 3.3 6.4 2.7 1.9 3-0.4 6 1.4 6-2.9 6-1.1 3 0.6 6 4.7 12 5 6 0 3-0.9 6 0.2 6-1.1 9 0.5 6 4.3 6 1.3 15 6.5 6 4.8 6 3.2 11.4 2 6.6 2.9 4.2 3.1 10.8 3 3 2.2 2.7 3.8 6.3 5.6 3 4.7 6 2.7 8.7 8 1.1 6-0.8 3.3-3 3.1-6-1.7-3.9 1.3-5.1 4.6-3 0.4-1.5 4 2.5 6 8 1.8 12 6.9 1.5 6.3 7.5 14.4 9 4 9 1.5 2.3 4.1 0.3 3 3.4 2.6 3 4.2 3 1 3-0.6 3 1.4 3 2.7 1.2 3.7 0 6 4 3 1.1 3-0.8 3 1.9 6 4.6 4 4.8 8 4.2 4.2 9 12.3 15 15.1 3 4.5 6 6.4 3 4.9 3 7.5 11.2 11.1 5 12 2.5 3 8.3 5.7 5 6.3 4 3 3 3.5 9 4 6 3.9 3 0.5 9 11.8 0.5 3.3 3.3 9 3.1 3 5.1 3.2 5 8.8 3.2 3 0.8 6 5.3 6 1.2 6 7.4 6 5 12 7 9-0.7 3 1.5 3 3.3 1.6 6.4 7.4 3.9 6 0.9 6 3.1 3 0.5 3-1.5 6 3.4 9 3.9 3 5.5 6 0.8 3 0 12 1.3 12-0.8 6 7 15 1.4 6-1.9 9 1.2 6-5.1 1.3-2.2 1.7-3.8 4.2-1.7 4.8-0.1 9 2.8 6-7.6 15-0.1 3 1.9 6-1.9 3 0.9 12-2.2 6 2 1.2 0.7 1.8-0.2 3-3.5 5-3 0.9-3-3.1-1.7 3.2-7.7 6 1.3 3 1.5 9-0.4 3-1.6 3-2.9 3 0 3 2 6-2.5 6.6-6 10.7-1 3.7 0.7 3-0.8 3-2 3-0.2 9-2.6 6-1 6 2.8 6-1.9 0.8-3.4 5.2 3.2 6-2.6 15-3 3 0.2 3-1.1 3-5.3 1.7-2 1.3-2.3 3-0.2 6-2.8 3-1.7 3.6-1.1 8.4 1.1 3-0.3 3-2.7 4.5-0.7 4.5-3.3 6-2.7 12-8.3 8.3-9 6.7-2.4 3-1.3 24-2.8 6-2.5 3.9-8.4 8.1-7.7 12-5.9 6-2 5.5-4.4 6.5-1.6 4.4-6 0.2-6.4 4.4-2.6 4.3-3 2.6-2.6 5.1-6.4 6.9-3 5.5-4.9 5.6-4 9-6.1 6.6-3.7 2.4-2.3 7.1-3 4.6-3 0.9-3 3.8-6 1.3-6 7.6-12.9 10.7-2.9 3-2.2 3.8-6.6 2.2 2.3 18-1.7 4.8-3 2.6-6 2.1-6 4.5-6-0.1-3 0.8-5.3 6.3-6.8 6-14.9 6.1-12 3.4-4 2.5-2 3.2-3 2-15 3.1-18 5.3-6-1.7-3 0.3-9 6-9 3.4-6 0.2-9 3.1-12 1.4-9 4.7-18 5.3-6 1.1-9-0.3-9 1.1M1115.5 1329.9l-9 2.5-9-1-15 3.4-12-0.8-6-2-12 0.4-12-2.1-15 0.8-12-4.3-9 0.8-6-1.6-9-0.1-9-3.6-3-0.6-6 0.4-15-3.4-6-2.9-24-5.6-12.9-5.2-11.1-5.7-9-0.6-3-3-9-5.4-3-0.8-3 1.2-3-0.3-9-7.8-15-2.4-6.6-5.2-11.4-12.3-12-2.7-9-10.3-3-1.7-3-0.4-7.7-8.6-10.3-3.8-9-6.5-4.8-4.7-4.2-6.7-3-1.2-9-7.2-3 0.2-3-0.9-4.5-8.2-7.5-5.5-3-4.1-13.7-5.4-7.3-6.2-17.9-8.8-6.1-5.7-1.7-3.3-8.1-9-2.2-2-3-1.2-3-4.4-3-0.8-12.8-9.6-13.5-3-3.7-4.2-2.7-4.8-3.3-3.3-3.2-5.7-9-12-3-3-3.5-6-2.3-1.5-5-7.5-4-8.2-4.3-3.8-4.2-6-3.5-7.2-3-9.5-4.1-7.3 0.2-3-1.7-6-6.4-9-3-7-3.7-5-3.2-12 0.2-9-6.2-15-6.7-9-1.5-6 1.5-9-2.1-6 3.7-5.7 6 1.1 2.1-1.4 1-3 5.7-6-0.5-3-2-3 0.6-3 3.3-3 3.8-9 1.6-6 5.4-4.1 6-2.4 3.3-5.5 0.5-3 1.6-3-1.2-3-2.6-3 1-3-0.2-3 0.6-1.1 3 1.1 2.6-6-0.3-3 2.5-6 0.5-6 2.2-3 0.9-3 3.3-18 4-6 2.6-6-1.8-6 1.2-12-1.2-6 0.8-3-2.3-3.4-1.5-5.6 0.7-6-4-15-1.4-3-2.8-0.9-3 1.5-0.7-6.6-2.3-1.6-6-1.7-1.6-2.7 0.2-3 2.3-6 0.5-6-1.8-6 1.9-3 3.2-12-2.9-6 1.3-3-1.6-6-1.9-3-0.7-9 0.6-3 2.4-3 2.2-6 0.4-6-1.3-6 1.3-3 2.8-3-0.6-3-2.9-6-0.4-3-9.2-3-0.9-9 0.7-3.5 5.5-2.5 0.4-3-1.9-9 0.1-3 4-9 6.9-9.5 0.7-2.5-1.2-12-2-3-0.6-3 3.1-0.9 4.6-5.1 3.6-12-1.1-6 0.6-3 1.5-3 4.5-3 2.7-3 0.3-3-1-6 2.3-3.2 3 1.8 9 0.7 3 1.3 3-2 7.5-7.6 2.3-6 4.2-6 1-3.9 4-8.1 8-11.5 3-1 3-2.9 3.4-5.6 9.2-12 3.1-9 6.2-12 0.3-6 1.8-2.3 3-1.6 3-3.2 3-6.1 3-4 6-1.9 3.4-1.9 5.6-6.3 6-4.4 3-0.4 6-4.5 6-0.6 7.1-7.8 13.9-18.4 9-3.9 6-3.7 6.1-7 4-3 16.9-17.2 8.8-6.8 9.2-1.9 3-4.2 4.7-2.9 9.7-9 9.6-4 12-12.3 21-11.5 3.1-2.2 2.9-3.8 12-7.8 9-1.7 3-1.8 9-3.1 4.3-2.8 10.7-5 6-1.7 9-0.7 12-3.2 6-0.2 9-2.5 9-1.5 15-0.6 8.7-2.6M1601.3 771l4.8 6 0.7 3-2.3 3.8-6 2.8-3-0.2-0.3-0.4 3.3-3.3 0.6-2.7-0.4-3 2.6-6M555.9 921l1.6-2.3 3 2.2 1 3.1-1 2.9-6-0.4-0.7-2.5 2.1-3M967.7 270l6.8-2 3 1.3 6 6.9 10.1-3.2 1.9-1.7 3.5 7.7-0.4 3-1.7 3 0 3 5.8 6 4.8 2.4 3-0.6 6-3.7 3 0.5 2.6 1.4 0.4 4.4 3 4.2 6 2.2 6.5-1.8 2.5-2.9 3-0.8 3-2.3 1.2-3 1.8-1.2 6 0.7 12 5.6 6 1.6 3.1 2.3-0.3 3-5.8 1.6-1 1.4 4 2.6 9 0.7 3-3 3-1.3 21 3 6 3 6 1.4 3 3 3 1 15-0.4 6 2.4 4.6-3.4 4.4-1.4 9 0.6 6 2.3 3 0 3 1.5 3 3.8 9 4.8 3 4.2 3 1.7 9 1.6 6 2.8 6.8 2.1 2.2 0.4 6-1.4 3 1.5 3 2.8M1289.5 367.3l6 2.3 6 3.7 6 0 4.9 1.7 7.1 4.8 10.4 10.2 4.9 3 5.3 9 4.6 12 10.8 14 6 13.1 2.4 2.9 27.2 18 1.4 3-0.4 3-3 3 0.1 3 2.3 3.5 7.4 5.5 5.5 9 5.1 4.7 2.9 4.3 5.2 12 0.7 6 2 6 15.3 18 3.6 6 3.7 3 5.9 9 2.7 1.8 6 1.9 2.8 2.3 3.2 5.3 9.2 9.7 2.9 6 10.2 9 4.1 6 9.6 4.2 4.4 4.8 2.3 6 0.5 6 2.8 6 0 6 5.8 6 6.6 15-0.4 12 1.8 6 3.2 3.2 1.5 5.8-0.3 6 0.7 3 6.8 9 1.4 3 1.5 9-0.1 3 1.8 3 0.2 6 2.1 6-0.2 3-1.3 3 0.3 3 1.4 3-0.7 6 1.1 6-1.1 6 2 15-0.9 6 2.1 18-0.9 6-4.1 9M1520.5 873l-4 12-1.1 6-4.1 9-2.8 8.7-4.3 6.3-0.7 12-1 2.4-4.8 6.6-3.9 9-3.3 3-3 6.7-2.2 8.3-2.9 6-5.4 3-1.5 3.2-1.9 5.8-0.5 9 0.7 3-1 6-3.3 11.7-2.8 6.3-0.4 3-2.8 3.5-4.6 8.5-0.4 9 0.8 6-2.3 6 0.8 9-6.3 1.8-9 5.3-1.2 1.9 1.7 3 0.3 3-1.1 3 1.4 6-1.1 4-3 3.4-3 1.1-3-1-3 0.2-1.4 1.3-3.9 9-0.1 6-1 3-2.1 3-3.5 3.8-6 2.6-8.9 5.6-2.9 3-0.9 3 1.4 9-0.8 6-0.8 3-5.1 6.2-3 2.6-6 2.9-9 7.9-6 11.5-12 9.9-3 5.5-3 3.1-12 0.5-3 0.9-2.4 3-2 6-4.6 6.9-6 3.3-9 0.1-2.7 1.7-5 6-1.3 3-5.5 6-2.8 6-6.7 7.6-9 4.2-12-1.7-3 0.1-3 1.2-9 8.7-6 3-9.4 6.9-8.6 7.8-9 6.3-15 0-6 0.9-3-0.1-6-2-6 0.1-6 2.9-12 8.9-9 3.4-6 4.4-9 1.6-3 1.8M1109.5 1314.4l-10.3 2.6-16.7 2.7-9-1.1-12 2.5-15 0.1-15-2.8-9-2.7-18-0.5-24-4.6-20.7-5.6-21.3-10.8-15-11.7-9-5-3-1.4-6-0.7-18-10.6-3-1-6 0.5-9.5-4.3-7.6-6-3.8-6-6-6-9.1-1.6-4.3-4.4-3.2-6-6.8-3-3.5-6-9-6-1.7-3 1.3-3 3.2-2.8 3-0.7 3 1.8 3 0 3-1.1 6-6.6 1.2 0.4 1.9 3 2.4-6 0.4-3-1.6-3-1.1-6-3.8-6-2.4-1.3-3 1.3-1.4 3-3 3 1.4 2.7 3-0.8 0.8 1.1 0.2 3-1 1.3-2.7-1.3-0.3-1.6-0.4 1.6-3 3-5.6 1.1-3 2.1-6 1.7-0.5 1.1 0.8 6-3.3-0.3-2.8-2.7-1.6-3-1-6 1.2-6 8-6 0.4-3-1.2-2.3-3 1.3-3-1.8-0.9-3.2-2.1-3-3.6-3 4.4-3-0.5-3-3.3-0.8-9 2.3-2.4-1.5-0.6-3.7-12-1.7-2.8-3.6 2.9-9-3.1-3-6 0.8-6 3.8-3 0.4-6-2.9-3-3.4-5.7-1.7-0.2-3-2.2-3-0.6-3-3.3-2-6 0.3-6 2.3-6 0-3 2-3 0.7-6.7-3.3-8.3-6.8-10.7-5.2-3.6-9 0.2-6-2.3-3-3-9 1.2-6-0.5-3-4.9-6-0.4-3.1-3.8-5.9-0.7-6-2.1-6-5.4-7-3-0.8-6 0.8-5.9-5-4.4-9-4.8-6-2.9-9-6.2-3-3.2-12 0.4-3.6-3.5-5.4-0.5-3 1-1.6 4.8-1.4 1.2-2.9-1-3.1 1.3-6-0.3-6M625.8 909l-0.4-3 1.9-18-0.2-9 3-6 2.1-9-0.8-9 1.2-12-1.4-3 1.2-6 3.1-3.3 5.2-14.7 0.6-3-1.7-6-0.3-6 0.7-3 5-9 0.1-3-1.1-3 1-6-3.2-18 0.1-6-1.6-12-3.6-6-2.8-9 2.4-9-1.2-6 1.4-15-0.2-9-3.1-9-0.2-3-3.5-8.5-6-5.1-1.5-4.4 6.3-27 1.9-12-0.1-6 1.5-12 2.6-15 1.4-3 0.5-6 4.2-9 2.5-3 5-9 1.1-12 1.6-5 3-3.3 5.3-3.7 3.7-4.2 8.8-16.8 3.2-7.6 27-25.5 9-3.9 6-0.7 2.4-1.3 1-3 2.6-2 3-0.2 4.1-3.8 4.9-1.5 3-6.2 1.4-1.3 1.6-4.5 1.7-1.5 7.3 0.7 4.7-3.7 1.3-3M801.6 414l1.9 4.5 3.5-1.5-2.4-3 0.1-3M797.5 395.3l8.9-8.3 3.1-5.1 6-2.2 2.3-1.7 0.7-6 2.1-6 6.9-7.8 2.4-1.2 2.9-3 0.6-3 3.1-6.4 21-9.5 1.8-2.1 1.2-4.2 6.4-4.8 0-3 1.2-3 4.4-5.2 3-1.7 3-0.1 3 3.5 3 0.1 0.5-5.6 5.5-3.7 3-3.5 3 1.8 9 0.2 1.2-0.8 1.8-3.4 17.9-2.6 2.7-6 9.4-10.6 3-2.3 3-0.2 2.8 4.1-0.1 3 1.6 0-1.1-3 2.8-5.3 3-1.6 1.1 0.9 0.3 3-0.5 6-3.6 3 0.4 3-2.3 9-4.4 2.4-3-0.3-1.2 0.9 0.4 3 0.8 0.7 6 1 3 1.8 3-2.2 3 0.5 1.2 1.2 0.1 3 1.7 2.4 3-0.1 3.4-2.3-3.5-3 0.1-3 3-3.5 3-1.3 3 0.2 6 2.4 0.9-0.8-1.4-3-5.5-7.9-3 4.1-3 1.8-3.2-1-1-3 1.2-3-1.3-3 4.3-4 2.5-5-0.3-3-1.5-3 1.5-3M947.5 320.7l-5 9.3-7 5.3-3.1 0.7-3.4 6-5.5 1.4-3-1.3-6 2.5-3 0.2 0 0.5 6 5.6 3 0.6 3 1.9 3 0.4 6-3.3 6-0.7 6.6-1.8 2.4-4.2 3-1.9 2.2-2.9 0.9-3-1.6-15-1.5-1.6-3 1.3M818.5 412.3l-1.5 1.7-0.7 3 2.2 2.9 1.3-2.9-0.2-3-1.1-1.7M1070 336l3.5-1.5 12 0.6 9-1.5 6 2.3 12 2.8 6 0.2 9-1.2 6 1.1 9 2.6 4.9 3.6M1172.3 351l6.2 0.2 6 1.3 15 6.2 21 5.9 6 0.4 9 2.8 3 1.1 21 12.7 3 0.2 9-2.8 3 0.2 1.7 1.8 0.5 3-0.5 9 1.3 3.8 3 1.7 18 4.1 9 3.5 12 8.9 9 1.6 3 2 12.6 16.4 5.4 13.7 11.2 10.3 6.9 15 1.2 6 1.5 3 13.3 9 7.5 9 4.9 9 2.1 6 9 15 7.4 18 10.3 21 8 12 9.7 10.2 6.2 10.8 4.9 6 5.9 9 4.3 9 10.7 12 1.8 3 0 9 1.1 12 4.5 6 5.7 12 6.2 6 3.9 6 3.2 9 0.5 6 1.4 3 0.9 6 3.3 6-0.1 3-1.8 3-2.8 12-2.4 6-0.4 9-1.7 3 0 3 2.4 3 2.8 6 0.3 3-0.8 2.7-3 2.1-1.9 4.2 1.9 3.9 3 0.2 3-1.7 3.6-5.4 5.4-1.7 6.2 1.7 2.8 2.8 0.6 3.2-0.8 9 0.4 6-1.1 6-2.1 5.3-7.9 3.7-4 9-0.5 6 1.3 3 1 9-4.9 8.9-9 7.2-0.9 1.9 0 3 2.7 3 0.9 3-2.2 6-6.5 4.7-6.8 1.3-0.2 6-2 3.9-6 1.6 1.1 3.5-1.2 6-8.4 9-9.6 6-2.9 9 0 9-3.8 15 0.8 3-0.5 3-2 6-2.5 3-0.2 6-1.8 9 3.6 9-0.6 6-11 18-0.9 6 0.8 12-5.9 8.1-4 3.9-2 1.4-6 1.6-2.3 6-2 9-0.7 9-1.7 6-2.5 3-2.8 1.4-6 1.4-3.7 3.2-0.9 3 0.4 9-0.9 6-3.2 6-11.2 12-3.6 6-0.9 6-4.6 9-1.4 2.3-4.3 3.7-1.4 3-6.3 15 1.9 9-1.2 3-18.7 8.7-18 2.1-3.7 1.2-14.3 13.1-6 2.4-9 5-2.7 3.5-4.5 3-4.8 6-6 4.5-3 0.8-6-0.4-6 3.2-6 1.8-6 4.5-3 0-4.7 3.6-10.3 4.4-6-1-9 1.8-6 4.8-9 2.3-12 6-6 0.1-9 2.3-6.3 0.3-2.7 1.5-3-0.3-12 6.8-1.5 4-4.5 1.9-3 0.2-6 3.1-6-3.8-3 0.9-6.2 3.7M1109.5 1283.7l-3-0.6-3 0.6-3 3.2-15 5.7-3-0.1-6-4.6-9 4.4-3-0.3-3 1.3-3-0.6-3-2.9-3-0.2-9 1-6-0.8-27 4.1-6-2.3-12 1.5-6-1.4-9-9-3-1.2-3 0.8-3-0.7-6-4.7-4.8-1.9-7.2-0.9-6.3-2.1-3.5-3 0.4-6-1-3-2.1-3-2.5-2.5-9 1.9-2.5-5.4 1.1-3 1.4-1.1 3 2 3 0.1 1.7-1 1.5-3 2.8-0.9 3 1.1 3-1.2 4.7-5 0.4-6-1-3-2.7-3 0.7-6-2.3-6-8.8-6-7.1-6-7.9-3.3-3-0.5-3-0.1-6 1.3-2.3-0.4-4.6-3-1.7-3-0.4-6-2.6-3-6.4-0.9-6-3.4-6-5.6-3-4.6-3-1.1-3-3.1-3-5.5-6-4.1-6-2.4-3-2.6-6-0.9-12-8.5-2.6-2.3-1.2-3-5.2-3.4-3-3.8-3.1-1.8-2.9-4.8-6-3.7-5.7-6.5-4.1-6-5.2-3-9-1.6-3-1.3-4-3.1-8.3-3-14.7-12.6-9.8-11.4-8.2-4.3-3 0.4-17.5 9.9-1.1 0-4.1-3-1.3-3.3-6-1.6-9-7.1 0.3-3 5.2-6-0.9-9-1.6-3.3-9-7.6-3-1.2-6-0.2-5.6-2.7-6.4-1.1-10.9-7.9-1.6-3 1.1-9-0.9-9 0.4-12-2.5-6-3.1-15-3.3-9-3.6-18-1.8-15 1.5-9-1.3-6-1.3-18 0.5-3 10.8-21 6.7-6 3.6-6 2.7-9.9 3-5.7 7.8-8.4 4.9-3 1-9-1.7-4.2-3-3.1-0.4-1.7 6.3-3 3.1 0.5 1.8-3.5-1.1-3 0-3 1.6-3 0.5-6-2.5-9 0.4-12 2.3-2.3 3 0 0.6-0.7-0.6-0.6-6 0.2-2.9-2.6-0.7-3 1.3-3-0.4-6-5.8-9-0.2-3 1.9-6-1.8-6-3.4-3-6-7.6-3 0-3-1.7-4.3-5.7-1.6-18 0.6-3 8.3-15.2 3-1.8 3 0.1 0.7-1.1-2.2-3-1.5-5.4-6-1.9-3-3.5-2.5-1.2-6.5-0.6-2.3-2.4 0.2-3 2.2-6 3.5-3 1.7-3-2.5-12 1.8-15 2.1-3 1.7-6 1.8-3 1.6-9 2.1-6 8.8-9 1.3-2.3 0.5-3.7 2.8-3 0.5-6 1.7-3 0.5-6 2-3 3.6-3 5.1-6 5.6-9 4.5-3 12.2 5.3 3 0.4 10-5.7 5-6.4 3 1.5 1.3 1.9 1.1 9-2.5 6-0.4 3 1.5 6 2 3.2 3 2.8 1 3-4.7 6 3.4 3 6.3 2.6 3-5.9 3-1.3 6 0 6-2.5 1.9-1.9 0.8-3 3.3-3 12-1.7 7.7-7.3-0.3-3 1.6-2.8 4.4-0.2 1.6-6 3-2.2 12-1.4 3-3.4 6-4.4 3-1.1 3 0.8 3-0.4 6-3.2 5.2-5.7 3.8-2.2 9.1-0.8 2.7-3 3.7-9 7.4-12 2.3-6 3.4-3 4.4-7 9.4-5 3.1-6 5.5-14.8 3-4.3 3-2.9 9.5-5 6.1-9 2.9-6 7.8-6 8-12 4.7-5.5 10.9-9.5 13.1-9 9-8.7 3-2 9-2.5 3 0 24-8.9 15-1.3 18-5.3 23.5-4.3M1475.5 879.4l-1.8 2.6 1.8 2 3.4-2-0.4-0.9-3-1.7M1042.9 357l6.6-1.8 6 1.2 9-0.4 9 1.6 6 3.7 2.9-1.3 1.1-3 8-1.8 18 4.6M1168.8 366l12.7 6.5 6 1.7 18 10.3 3 1 9 0.6 6-1.1 18 2.7 3 1.5 6 6.8 9 3.5 9 6.9 21 7.2 6 2.7 3.8 3.7 5.2 9 5.9 6 3.1 2 6 1.1 6-1.2 3 0.5 3 1 3 2.6 3 5 4.1 10 2.3 3 5.6 4.8 5.1 7.2 3.9 3.8 1 2.2 1.5 12 3.5 6.1 6 6.3 7.9 14.6 1.2 6 3.3 6 5.6 9.7 4.8 5.3 12.3 18 3.7 9 9.2 13.3 6 6.5 4.4 10.2 4.9 6 2.9 6 4.1 6 7.1 15 10.1 15 2.5 6.4 2.9 14.6 4.5 12 1.8 15 4.3 9 2 15 1.1 3-0.4 3 2 6-2.3 12-0.5 21-2.7 6 1.4 18-2.1 6.8-6 5.1-9-1.9-6-0.2-6 4.6-6 1.2-6-1.9-3 2.5-1.3-4.2-4.7-2.1-9 1.7-4.8 3.4-0.5 3 1.9 3 0.7 3-6.3 1.4-3 1.5-3-0.7-9-4.9-9 1.5-3 1.7-3 0.5-16.9-10-4.1-6.6-5.2-2.4 7-6 0.5-3-4.2-6 0.1-3 0.9-6 5.2-12M1358.5 753.9l-6.5-0.9 2.6-3-2.1-2.4-1.2-3.6-1.8-1.5-6-2.3-3-5.6-3-3.4-9 2.3-2.7-1.5-0.7-3-2.6-3.2-6-0.3-6-1.7-3 0.5-3-1-3-4.3-6 1.9-3.4 2.1 0.3 3 2.5 3 0.6 18-3 3.5-3-2.4-3-1.1-3-0.8-2.4 0.8 5.9 9-3 6 1.6 3-0.8 6 5.5 12 0.8 6 2.4 3-0.3 12-1.4 6 3.7 9.6 3 3 9 3.8 1.7 1.6 13.9 18 1.3 3 7.1 5.2 3 8.4 3.3 4.4 2.7 6.4 2 2.6 4 1.5 6-1.4 3 1.4 6.1 4.5 2.9 4.6 3.3 1.4 1.5 6-5 6 1.5 3 3.2 3-1.5 1.7-3-0.6-0.9 1.9 1.9 3 0 6 2.8 3 0.9 3-1.1 3 1 3 4.6 3-0.2 3.1 3 2.8 3-0.4 6-2.6 6 2.5 3 0 3-2.6 3 0.4 6 4.9 3.3 0.9 2.7 2.9 1.6 3.1-0.4 3-7.2 4.2-2 1.8-0.9 3 0.1 3 5.1 6 1.5 3 0 6-1.9 3-1.9 1.2-6.9 1.8-0.2 3 4 6 2 6 0.3 3-4 6 0.7 6 2.7 6-4.5 12-3.7 3-2.7 6 1.3 18-0.4 3-11.4 12-1.9 6-0.3 6-1.8 3-3.2 3.2-6 2.3-3 0.2-6-3.5-3 0.5-3 2.3-2.1 4 0.8 9-0.7 3-4 9.1-3 0.2-3 2-5.6 6.7-5.4 3-3.3 3 0.1 3 2.3 3-3.1 1.5-3 3.2-3 0.5-3-4.9-3-0.6-3 1.1-2.5 5.2 0 6-2.3 3 0.2 3-4.4 3.4-6.3 2.6-2.7 6.1-3 0.3-3 2.5-9-2.8-9 3.4-3 0-6-1.8-4.4-4.7 0.3-6 1.9-6-0.7-3-6.6-3 0.6-3-0.5-6 1.5-3-1.2-3-2.9-1.5-3-0.2-6 6.4-3 0.2-6 3.1-3-2-6-10-3 1.3-6 0.3-12 6.6-3-0.1-3 4.4-6-2.5-3 0.2-4.8 5.8-1.2 2.8-6-0.6-3-0.6-0.5-1.6-6.9-6 1.4-1.7 3-0.6 3-2.4 3-0.2 3 1 2.6-2.1-0.2-3-3.3-3 0.9-1.2 3-0.8 3 0.8 1.2 1.2-0.9 6 2.1 3 0.6 2.4 3 0.5 2.7-8.9-2.7-6.6-3-1.4-3 0-6-2.8-2.6-4.2-6.4-4.5-3-0.4-6 4.7-6-0.9-6 1.5-3.1 2.6 3.6 3 0.5 3-4 5.9-3-1.5-3-4.6-9.1-2.8 3.1-1 1.1-2 0-3-1.1-0.7-3 1.8-3-0.7-4.6-3.4-3.5-6-9.9-6.4-6.3 0.4-5.7 5-6 2-3 0.1-12-5.4-6 1.4-6-1.1-2.7-2-0.7-6-2.6-3.9-4 0.9-5 2.9-3 0-2.2-2.9-4.4-3-0.7-3 1.3-7.7 3 2 3.2-0.3-3.1-3-3.1-0.9-4.1-8.1 0-6-2.7-9 2.9-6-0.3-3-1.8-2.3-3 3-1.9 5.3-1.1 0.5-6-1.3-1.2 0.8-0.1 6 0.8 3-0.5 3-3.2 6 1.2 1.6 4.7 1.4-2.7 6 1 3.4 2.5 2.6-0.4 6 0.9 3-0.7 3-11.8 15-3.6 6-1.9 1.2-9 0.1-3-2.5-6 0.6-3-0.8-2.3 1.4-1.9 6-3.9 3-0.5 3 2.6 3.8 3-0.1 3-2.4 3 1.3 1.3 6.4-1.2 9-9.1 6.8-3 0.7-1.5 1.5 1.2 3-2.7 2-9 3.3-3-3.8-12-4.6-2.8-2.9-0.2-3.1-6 4.9-3 0.9-6 0.8-1.3-0.5-1.7-1.1-3-4.4-3 0.6-9 5.2-3-0.2-6-4.4-6-6.5-5.7-4.2-3.3-3.8-9-3.4-15-7.8M821.5 1087.3l-2.1-1.3-3.9-5-9.5-4-3.1-3-2.1-12-2.5-3-0.8-3.1-3.7 0.1-3.7 9-0.4 3-1.2 1.5-3 0.4-3-0.8-6.5-4.1-1.6-3 0.1-3-1-3-13.5-6-8.7-6-1.8-2.6-6-2-9-6.5-3-1.3-6 0-3-1.6-3-2.6-6-3-3-2.9-12-20.8-3-3.4-3.3-1.3-2.1-3-3.4-6-2.2-6-2.3-3-0.6-3-4.8-6-3.1-6-3.7-24 0.7-6-1.8-6 6.5-9-1.8-3-5.1-1-1.7-2 0.5-3 4.2-2.3 3 2.5 1.3 2.8 0.1 3 1.6 0.4 3-2.8 0.9-3.6 1.9-3 0.4-6 5.8-1.4 3-2.9 12-4.7 3.4-6 6.6-6 2-3.2 6-0.3 3-1.1 6 0.7 6-0.5 3-1.1 3-4.2 9-1.3 1.3-1 1.7-4.1 3-1.1 3 0.4 0.8-1.2-2-3 1.2-2.6 3-1.4 1.6-2-1.4-3 1.2-3 0-3-1.4-3-3-2-3 2.2-3 0.4-1.4-0.6-1.1-3 2.5-4.4-1.1-4.6 1.6-3 0.1-9-2.5-3-0.4-3-1.5-3 0.8-1 3 2.2 3-0.1 3.5-4.1-2.2-3-1.3-6.3-3-1-3.4 1.3-6.6-9 1.6-6-2.3-6-0.7-6 0.5-6 3.4-6 0-3-1.7-6 2.2-3-0.2-3-6.7-12-0.1-3 5-7.5 3-1.4 3 4.7 3 1.6 3-0.7 2.2-2.7-0.6-3-4.7-6 0.8-3-0.5-6 2.6-3-5.8-3-1.2-3 1.2-2.5 3-2.1 0.6-1.4-0.6-1-3 2.3-1.7-1.3-4.3-1.2-6 0.6-0.8-2.4 1.3-3 0.4-6 2.1-2 6 0.5 4-1.5 1-3-2-0.3-3.7-2.7-1.9-3 0.8-6 1.8-5.1 3-3.2 9 9.6 6 2.7 3-0.2 8-6.8-5-8.2-4.3-3.8 1.3-1.2 6 0.2 3-2 1 3-0.1 6 2.1 2.7 5.9 0.3 0.1 1.1 3 1.1 1.1-2.2 1.9-1 0.7-2 0.4-6 2.3-3-0.4-2-3-2.9-0.9 1.9-2.1 1.2-9 2.4-3-0.7-0.2-2.9-2-3-0.3-6 2.5-2.3 9-4.7 1.4-5-4-6 1.3-6-1.7-8.7-6.1-3.3-1-3-0.1-6 1.2-1.6 3-1.5 15-1 3-2.3 18-8.6 9-5.7 2.9-3.3 4.7-9 4.4-5.5 4.5-9.5 4.4-6 15.2-15 6.2-9 2.7-2.4 9-0.1 9 2.5 3-2.2 4.6-6.8 4.4-10.6 6-8.6 3-7.8 12-20.2 6.6-6.8 1.7-3 8.9-9 4.6-6 2.3-6 2.6-3 6.3-4.9 3-4.2 9-7.2 4-4.7 11-8.9 12-7.5 11.1-4.6 6.9-4 12-2.1 9-6.2 8.4-2.7M758.5 671l-1.5 1 1.5 5.6 3-0.4 0.2-2.2-3.2-4M761.5 694.6l-2.3 1.4 0 3 2.8 0 2.4-3-2.9-1.4M1391.5 746.6l-1.2 0.4M1406.5 788l6-0.7 2.4-7.3M1410.9 768l4.6-2.4 0-1.5-6-0.2-3-2.7-3-6.3-3-2.1-3 0-3-6.3-3 0.1M1422.5 810l3.6 0 6 9 4.4 0.9 1.5 2.1-1.3 3-3.2 1.7-3-4-6 0.2-1.1-0.9-1.9-3 0.1-3-0.8-3 1.7-3M1447.7 813l3.8-0.1 9-2.4 0.6 2.5-1.2 3-3.2 3-1.5 3-1.2 3 0 3-2.5 1.1-3-2.9-3.8-7.2 0.8-4.2 2.2-1.8M1016.5 884.9l-6 3.7-6-0.3-3.7 2.7-1.7 3 0.4 3 2 1.1 6-0.5 3 1.5 6.7 6.9-1.2 3 3.3 3-5.8 8.6-3.1 0.4-2.9-2.6-1.6-0.4-1.4-3.1-0.9 3.1-5.1 1.4-3-1.1-1.4-3.3 0.1-3 1.3-2.1 3-2.3 4-1.6-4-3.6-6-0.1-3 1.3-4.4 5.4 1.4 3-0.7 6-2.3 1.9-3.3 1.1-0.4 3 1.5 3-0.8 0.9-3-2.1-6-0.2-6 3.8-3 0.1-3-3.8-3-0.3-4.5 4.6-1.8 6 3.3-0.8 6-4.3 3-0.8 6 1.2 2.6 1.7 2.6 6 0.8 0.5 3 0.4 6-1.7 1.5 0.8-0.4 3 2.1 6-1.1 9-4.9 3-0.9 3 4.5 9 3.9 3 3.2 6 0.1 3-2 1.8-1.6 4.2 4.6 6.5 1.2 5.5-0.2 3-4 6.7-2.9 11.3 2.9 6 3 0.6 3-4 6 1.5 3 2.3 3 1.1 3 7.1 3 0 0.9-2.6 2.1-0.7 0.9 0.7-0.9 2.5-6 1.3-3 3.6 0.5 7.6 2.2 3 3.3-2.4 2.8-3.6 1.1-3 3-3 4.7-3 1.5-3-0.8-3 5.2-6-2.2-6-2.2-3 1.5-3-0.9-3-4.7-5.5-3.5-6.5 0.5-3.9 3-5.6M998.5 984l-3.5-3 1.8-3-7.9-9 0.5-3 3.1-3.8 3-0.5 1.5 4.3 1.5 0.9M1009.9 960l0.6-1.2 6-2.7 1.3-2.1 4.7-3.4 9-2.7 1.4-2.9-1.3-9-2.5-9 0.5-3-2.7-6-0.5-6-3.1-6 2.8-6-0.5-3-3-3-6.1-9.1M1380.1 900l2.4-1.2 1.8 1.2 1 3-1.6 3-1.2 0.7-7.4-3.7 5-3M953.5 907.3l-11 7.7-1.9 3 3.9 2 3 2.9 3 0.8 3-2.9 3 1.6 3-1 1.2-3.4 1.8-2.5 4.4-3.5-10.4-5-3 0.3M776.5 1051.6l-3 4.4 3 1 3.7-1 0.7-3-1.4-1.8-3 0.4M992.5 1093.6l-1.6 10.4 1.6 4.1 1.4-10.1 1.6-3-3-1.4M1153.8 1140l3.7-2.3 2.2 2.3-1.8 3-3.4 0.4-0.7-3.4M1036.8 1233l3.7-2.6 3 0.8 6-0.2 6 2.1 6 5.9 3 1.6 2.3-1.6 3.2-6 3.5 0.4 6-0.9 5.3 3.5 3.7 0.3 1 5.7-0.4 3-3.4 6-3.2 1.8-15 0.2-3-0.6-3 1.6 3 1.2 1.2 1.8-5.6 3-1.6 0.4-6-1.4-3 0.3-3 1.6-3 0.3-6 2.4-1.5-0.6-1.5-2.1-1.7-3.9 0.6-6-3.1-6 1.9-3 1.8-6 2.8-3M1094.1 381l12.4-0.9 6 0.4 12 3 7.1 3.5 4.9 4 3 1 9 0.3 21 4.1 9 4.5 9 1.4 9 4.5 9 0.6 8.6 3.6 6.4 5.2 3 3.7 3 1.9 6 0.7 6-1.4 3 0.1 9 2.7 2.8 2.1 3.2 4.1 3 1.1 6 0.4 6.5-2.6 5.5 0 1.5 3-0.9 3-2.1 3 7.5 7.6 7.9 4.4 4.1 1.4 10 7.6 2 3.4 6 3.6 3 0.9 11 7.1 2.8 6 6.5 9 5.7 6 17 24 2.4 6 1.9 12 1.3 3 11 12 3.7 6 5.1 6 7 6 8.6 13.2 8.5 10.8 6.8 15 13.9 15 2.7 6 2.6 9-0.7 6 2.9 12-0.7 6.4-15 5.1-3 0.4-3-3.2-3-0.4-6 1.8-3 5-3 2.1-6 0.7-12-3.4-9-6.5-14.8-5-3.2-3.1-5.9-2.9-3-3-3.1-0.9-6-9.5-6 3.6-15-5.7-3 0.8-6.9-3.3-2.1-3.3-6-1.6-3-2.8-2.6 1.7-0.6 3-2.8 1.7-6-1.7-3 0.8-3-0.7-3-4.1-3 0.3-1.1 3.7 1 3-3.3 3-1.8 3-8.7 6-4.1 1.5-3 0.1-3-1.2-3 0.5-9 4.4-3-0.1-1.4 0.8-2.9 6 0.2 3-1.5 6-2.3 3-4.1 1-3-1.2-3-0.1-9 1.6-2.9 4.7-3.6 3-0.5 3 2.9 3-1.2 3-3.7 0.1-3 2.9-1.7 3 3.7 6 3.1 3 0.5 6-7.4 3-1.2 2 1.4 4-0.1 3-1.4 3 0.6 3-11.3 3-0.8 3 2.6 4.8 3 0.8 3-0.7 3 0.9 3 2.2 3-0.5 1.7 1.5-1.2 6 2.5 3 6 4.7 0.5 1.3-2.1 6 1.8 3 5.5 3 1 3 2.9 3 0.5 3-1.3 3-5.8 4.7-3 0.6-3-0.5-1.8 1.2-4.2 7.1-3 0.6-3-1.2-3.6-3.5-1.1-3 1-9 3.2-3 0.1-3-2.6-1.7-0.9-4.3-2.1-2.8-6 2.5-3-0.2-6-5.7-5.1-2.8-0.9-1.8-3-0.8-3-0.4-3 1.4-3-0.5-2.1 2.1 1.6 3 0.1 3-5.5 6 0.8 3-2.2 6 1.1 6-2.8 3 3 1.3 3.7 4.7 4 3 0.4 3-2 3-0.1 3.7-3.2 5.3 0.8 9-0.7 3 0.6 3 1.6 3 0.8 6 1.5 3-0.1 9 0.9 3 3.8 7.9 3.3 1.1-3.3 2.2-2.2 3.8-1.2 6 0.4 3 11.4 9 0.6 5.5 3 1.2-0.1 5.3-1.4 3-2.9 3 4.4 2.4 0.2 3.6-3.2 1.2-1.9 1.8 0.3 3 4.6 2.5 6 5.2 3-0.8 6.9-3.9-0.5-6 1.1-3-1-6-3.1-3 0.2-6 2.4-5 8.3-10-2.3-9 2.1-3-7.8-9 0-3 2.5-9 2.4-3 2.3-6 0.7-3-0.8-6 7.6-12.5 6.5-5.5-0.5-3.2 6-3 2.7 3.2-2.7 6.5-3.1-0.5 0.1 6.9 3 2.2 1.2 5.9 1.8 2.6 4.3 3.4 1.7 3 2.7 9-0.3 3 1.7 3 2.6 9-0.8 6 3.1 0.7 3 2.1 1.4 6.2 3.1 3 4 6-0.9 3-2.8 3 1.5 3 2.7 2.2 3.2 0.8 2.8 3.6 9-0.5 5-3.1-2-3 3-5.1 4.1 2.1 0.8 3-1.9 2.3-2 0.7-0.7 3 2.4 6-4.1 3 7.4 7.3 3-2.7 3.6 1.4 1.1 3-1.7 0.4-3-2.1-1.4 1.7-1.9 12 6.3-0.3 3 3.3-3 3.1-1.6 2.9 0.8 3-0.6 3 1.4 3.2 4.6 5.8 2.6 9-2.1 6-4.1 6 0.7 3 1.3 1.3 4.4 1.7 1.3 3-2.4 6-1.2 6-5.1 8.1-3 2.6-3-2.8-6-0.3-4.2 1.4-7.8 10-3 1.2-9 9.8-3 0.2-6 7.8-6 2.4-3 3.2-3 1.3-6-0.6-1.5 0.7-2.5 3-2 7.4-3 2-3-0.1-8.2 2.7-0.7 3-3.1 0.9-1.4 2.1 1.8 3-3.4 2.2-4.3-2.2-4.7-0.5-3 0.6-9-5.3-3 0.1-12-2.7-6-0.1-2 4.9-4 3.5-6 0-6 1.3-5.8-1.8-1.8-3 0.8-6 3.8-1.2 6 6.1 3-0.2 1.3-1.7-1.6-6 2.4-6 0.1-3-2.2-3 3-3 1.2-9 7.2-6 0.1-9-0.6-3 1.6-3-0.5-1.1-3-0.6-0.2-1.3 3.2-1.2 3-4.8 0-3-2.1-3-7.6-3-0.8-3-4.5-5.3-9 1.5-1.6-5.2 0.5-3-1.9-3 2.3-3 3.7 0-1.1 3 1.1 2.1 3 0.7 6-2.8 0.4 3 5.6 2 3-0.6 3.3-1.4 0.2-3 2.4-6-0.1-3-2.8-2.8-6.4-3.2-2.6-2.8-0.2-6.2-2.8-2.1-4.3-0.9-1.7-3.7-3-2.8-3 0.4-3-1-1.5-1.9-4.5-1.9-3.5-4.1 0.4-3 3.1-2.9 3-2 3.6-1.1 0.5-3-3.5-6 3.2-12-1.4-9 2.2-3 0.6-3-2.2-3.5-3 0-3.5-2.5 1-3-5.8-6 7.5-9 4-3-0.4-3-4.3-6-1.5-3.8-2.2-2.2-6.8-1.8-0.9-1.2-3.1-6 1.3-3-2.6-3 2.3-6-3.4-3 0.2-3-2.2-6 0.9-3 4.6-3 0.4-6 2-3 9.2-3 2-3-0.5-9-1.2-2.5-3-1.3-3-4.6-3-0.7-5.7 3.1-3.3 0.3-3 2.1-0.4 6.6-1.3 3-5.4 3-1.9 2.7-3 0.9-6-1.4-12-8.1-3-0.4-3.1 3.3 0.5 3-6.4 3.7-0.9 2.3 0.9 2.4 3.3 3.6-1 3-2.7 3-1.2 6 0.2 3 1.7 3-3.3 2.9-0.6 3.1 0.6 1.8 3-0.1 2.1 1.3 1 3-0.6 3 3.6 3 0.7 3-0.7 3-3.1 0.8-6-1.3-2.6-2.5 0.4-3-0.8-1.2-3-0.8-3 1.2-12 0.5-3-0.1-3-1.2-5.4-4.4-3.1-6-3.3-3-3.7-6-2.5-2-6-1.4-6 0.1-3 1.1-15 9.8-1 1.4-1.6 6-3.4 3.2-6-2-9 0.9-3-2.7-0.4-2.4 0.8-6-3.1-3-1.9-3 1.5-6-5.9-2.7-3 0.3-3 1.9-2.6-5.5-3.4-3.1-6.9 9.1-0.8 3 1.8 3 0.3 3-1.2 3-4.7 3 1.5 3-0.4 3-1.6 1.8-3.4-1.8 1.2-3-0.8-1.9-6 3-0.8-1.1 0.3-3-2.5-3.1-8.1 3.1-0.9 4-9-1.4-6 3.3-6 1.1-3 1.5-9 1.1-6-1.9-9-0.4-3 0.2-6 2.4-3-0.4-9.8-9.5-5.3-12 3.6-6 0.3-3 5.2-3.7 1.3-2.3 10.7-9.1 4.1-5.9-0.5-3-2.1-3-0.8-3 1.3-3-0.4-3-1.6-3 1.6-6-1.6-1.8-12-5.2-0.9-2-0.3-6-2.1-6-3.8-3-2.3-9 4.5-6 1.5-12 6.5-15 0.4-21 2.1-6 0.8-6 5.6-5.9 0.7-3.1 3.5-6 0.8-6 2.5-6 7.5-7.8 1.4-4.2 0.1-3-1.5-3.2-9-4.7-3-3-6-0.3-0.7-0.8-0.5-3 1.3-9 1.6-3 4.1-3 6-9 2.1-6 2-3 5.5-3 4.2-6 4.9-3 2.4-3 1.1-3-1.4-6 0.4-3 2-6 4-3.6 6.1-2.4 5.9-5.2 6-0.3 6.2-3.5 2.8-2.9 1.5-3.1 1.5-9.4 3-5.6 6-3.4 3.5 0.4 2.5 3.1 3 1.7 2.1-1.8 4-6 4.5-15 3.6-6 1.5-6 3.7-3 4.6-5.5 4.6-3.5 4.6-6 0.5-3 1.9-3 10.5-12 8.5-15 5.4-5.7 3-1.5 6-1.3 27-15.9 5.2-5.6 3.8-1.6 6-0.5 6-1.5 6 0.7 6-0.8 21-0.2 9 0.8 11.6-2.9M1109.5 692.7l-0.7 0.3 0.6 3 3.2 3 6.2 3 0.9-3-1.2-3.1-3-1.1-3 0.1-3-2.2M1163.5 692.3l-0.9 0.7-1.1 3 1.8 3-2.8 5.6-1.4 0.4 1.4 0.8 0.7 2.2-3.7 4-3-1.7-3-0.2-6 2.8-0.9-4.9-2.1-1.9-12-3.8-2.9 2.7-0.1 6.4-7.4 5.6-2.2 3-0.6 3 1.2 2.5 0.8-2.5 5.2-4.9 3 0.8 0 2.7-2.2 4.4-3.8 1.3-2.3 4.7-3.7-0.6-3.9 0.6-2.1 6.3-2.2-3.3 0.8-3-1.6-1.4-3.2 1.4-1.6 6 1.8 1.3 3 4.3 3 0.1 3 2.1 1.1 4.2-0.1 3-2.2 3-0.5 3-1.3 1.7-2.4 1.3-0.2 3 1.8 3 4.4 3 2.4 4.1 6-0.5 0.2-3.6 2.6-3 3.2-1.7 5-1.3 1-1.8 0.5-4.2-2.9-6 2.4-5.4 3-1.2 3 2.5 12-5.7 3 0.7 3-0.4 1.9-2.5-2.7-6 3.8-2.5 3-0.2 4.4 2.7 4.6 9.9 3 2 4.4-2.9-2.8-3-1.4-3 2.3-3-3.4-3 0.1-6-1.6-6 0.3-3 4-3 1.1-1.7 4.6-1.3-0.7-3-0.9-1-3 1.3-3.5-3.3-6.9-3-1.6-2.4-1.7-0.6 1.4-3-1.2-3-1.5-0.7M1175.5 693l-0.6 3 0.6 4.2 3-0.4 3-2.1 7.1-1.7-1-3-6.1-2.9-3 4-3-1.1M1154.5 700.7l-1.5 1.3-0.2 3 1.7 2 2.5-2-1-3-1.5-1.3M1129.1 735l1.4-1.8 9 1.3 3 3.5-0.1 3-2.9 2.1-3 0.2-7.4-8.3M1154.5 745.3l-1.7 4.7 1.7 1.7 3 0.7 0.9-2.4-3.8-3-0.1-1.7M1166.5 747.6l-1.9 2.4 1.9 2.4 3 0.1 2-2.5-2-1.9-3-0.5M1097.5 758.5l-3.7 3.5 0.4 3-1.3 3 1.6 3 3-0.4 2.8-2.6 0.8-3-3.6-6.5M1153.8 774l3.7-1.3 3 0.3 2.6 1 1.4 3-4 2.8-3 0.7-4-3.5 0.3-3M1169.4 789l3.1-1 3 0.3 3-2.1 3 0.7 1.4 2.1 0.6 3-2 2.7-3-0.2-6 1.4-3-1.1-1-2.8 0.9-3M1184.2 810l3.3-2.1 1.5 2.1-1.5 3.3-3-2.1-0.3-1.2M1056.1 813l2.4-0.9 4 3.9-7 0.4-0.8-0.4 1.4-3M1103.5 821.3l-3 0.7 3 5.2 2.2-2.2-1.2-3-1-0.7M1139.5 874.6l-1.4 1.4-0.1 3 1.5 2.1 3 1 3-0.5 0.9-2.6-3.9-5.4-3 1M1118 945l0.5-1.1 3-1.3 2.2 2.4-2.2 1.3-3-0.6-0.5-0.7M1287.8 972l1.7-1.4 3 2.3 0 2.9-3 2.2-3.6-3 1.9-3M1133.1 1005l1.4 0-0.8 3 0.6 3-0.8 0.5-0.8-0.5 0.4-6M1123.6 1020l0.9-1.1 3-0.3 5.8 4.4 1 3-6.8 4.3-3-0.1-4.4-4.2 0.2-3 3.3-3M1077.8 402l1.7-0.8 3 0.3 9 2.9 6-0.1 6 2.8 9 1.8 1.9 5.1 1.1 1.2 3 0.9M1175.5 443l3 7.1 6.9 2.9 17.1 4.1 6-2.9 3 0.2 3 1.8 3 0.7 3-0.4 6 4.7 6 1.7 2.7 5.1 3.3 1.7 6-1.4 6 0.8 9-2.1 5.4 1 1 3 0 3 5.6 10.1 12 0.2 3.2 4.7 4.9 3 3.5 6 7.4 3 2.9 3 0.5 3-0.8 6 3.7 6 1.3 6 3.4 1.5 3 3.2 6 2.4 5.4 4.9 1.7 3 0.4 6-1.5 2.7-3 1.2-3-1-3 0.4-4 2.7-2 3.7-4.8-0.7 0.2-3-1.4-2.9-4.9 2.9-1.1 2.2-4.3 0.8-7.7 4.1-5.8-1.1-1.5-3-0.1-3-1.6-1.7-2.9 4.7-3.1 1.7-3-1.3-3-3.9-9-1.3-3-1.9-3 0.6-6-1.4-6.7 1.5-1.6-3 0.8-3-2.1-3-0.3-3-2.1-0.7-1.4 3.7-1.6 1.8-2.6 1.2-6.4 1.1-6 4.8-9-1-4.9 7.1-0.2 3 2.1 2 3 0.2 1.6 3.8-1.6 3.1-3 0.5-3-1.6-2.6 1 0.3 9 1.1 3-0.7 3-1.1 1.2-3 0.1-2.6-1.3-0.2-3 1.4-3-1.6-1.3-5.1 4.3 2 6 0.1 4.2-3 1.9-9 12-6.8 2.9-2.2 5.6-3 0.2-6 2.4-3-0.3-2.3 4.1 0.4 3-1.5 3-8.6 4.3-12 2.8-9 6.7-3 1.2-3 4-3 1.7-9 2.6-4.2 3.7-16.8 3.4-6-1.2-6 0.6-3 2-3 5M1013.5 684.3l-6 3.7-3 3.3-12 5.6-6-2.6-4.3 1.7-0.9 3 0.6 3-4.4 5.1-6 4.7-1.8-0.8-1.4-3-2.8-1.1-6 1.4-3-1.2-3.1-11.1 0.7-3-0.6-2.9-3 2.1-4.4 0.8-1 3 2.4 2.9 3-0.2 1.1 0.3-1.1 0.5-3-0.2-3 1-3-1.9-3-5.6-4.6 3.2-1 3 4.7 3 3.9 1.2 1.5 1.8-1.2 6-1.5 3-0.7 6-1.1 1.2-3-2.2-3-0.7-3 0.4-3 2.1-1.5-0.8-0.3-3 4.1-3 6.7-2 0.5-1-2.2-3-4.2-3 0.3-3 2.1-3-2.5-1-8.3 4 1.2 3-0.1 6 0.8 3-2.6 2.9-9 3.1-6-3-3 1.8-1.5-1.8 0.3-3 1.2-1.1 2.6 1.1 0.4 2.6 3-4.7-0.7-3.9-2.4-3 2.3-3 0.8-3-2.8-3-0.4-3 3.2-9.1 5.9-2.9-0.6-3-2.1-3-1.3-6 7.2-6-0.1-3.3 3-5.7-6-2.5-3.4-3.5-0.9-3 1.3-5 1.2-1-2-6 0.8-6-6-7.9-2.1-4.1-0.9-0.7-1.9 0.7-4.1 4.1-3-1.5-1.2-2.6-0.4-3 2.6-3-0.1-6 1.8-9-2.6-6 0.4-3 2.3-3 3.2-1.9 6.2-1.1 2.6-3 6.4-12 1.5-6 1.5-3 2.6-3 3.2-1.1 6-4.6 3-3.9 9.2-5.4 2.8-2.9 3-5.8 3.7-3.3 0.6-3 3.4-6-0.5-3-2-3-0.7-3 0.9-3 3.6-2.5 9-0.9 9-10.7 3-0.7 5.4-3.2 1.6-3 0-6 1-3 2.4-3 4.6-8.7 4-3.3 2-3.8 6-2.1 5.1-3.1 0.7-3 11.3-12 5.4-9 4.5-4 3.7-2 0.4-3 2.1-3 5.8-5 3-0.3 3 1.3 6-0.4 3-1.4 15-3.3 4.3-2.9M1357.3 576l1.2-1.6 6 0.7 3 1.2 3.3 2.7 1.7 3-2 5.4-3 2.1-3 0.1-3-1.1-3.1-3.5-1.5-6 0.4-3M1373.1 594l3.4-1.3 0.9 1.3 0.7 3-1.6 4.4-3-3.1-0.4-4.3M917.5 677.2l-1.8 0.8-1.2 3 3 1 3 2.3 3 0.3 0.8-0.6-3.8-5.8-3-1M959.5 683.6l-3 5.4-2.9 1 8.1 3-0.5 3 1.3 1.2 1-1.2-0.5-3 1.5-6-2-4-3 0.6M968.5 688.7l-1.8 4.3 1.8 1.3 3 0.3 2.3-1.6-2.3-4-3-0.3M1064 474l3.5 1.8 3.5 4.2 2.5 4.9 3 3.1 1.1 4-0.8 3 5.7 7.1 1.3-1.1 4.7-1.6 1.9 1.6-1.9 6 2.9 6 3.1 0.8 1.5 2.2-0.1 3 1.6 4.2 4.5 1.8-3.6 3-1.8 3 0.4 3-0.7 3-7.8 0-1.5 3-4.5 3.3-3.6-0.3-2.4-1.5-0.6 1.5-2.4 1.8-9 3.1-6 3.6-6 1.2-6 4.2-3-0.1-5.5 4.2-3.5 5.1-3-2.7-3-1.1-3 0-3.5 4.7-2.5 2-3-3-3 4.2-3-1.5-3.8-4.7 2.2-6-1.4-1.6-9 3.1-3-0.2-2.5-1.3-0.7-3 6.2-4.3 9-2 6 5.2 3 6.8 3 0.1 3-1.1 3-5.6 3-1.9 3 0.5 1.2-0.7 0.1-3 1.7-1.2 3 0 6.2-1.8 0.6-6 1.7-3-0.4-3 0.7-6-2.7-6-3.8 0-1.5-3 2.2-7.4 3-1.4 3-3 0.9-3.2-3.9-1.1-3-2.2-3 1.5-1.6 1.8 0.3 3 1.3 1.8 3-3.4 2.9 1.6-5.9 4.1-24 2.2-1-0.3-1.2-3 1.1-6 5.9-9 4.2-3.3 9-0.3 3 0.9 6-8 6 1.1 3-4.2 12-6.8 2.5-0.4"/>
<g fill="none" stroke="#650000" stroke-linecap="butt"><path stroke-width="0.9" d="M1080.4 758L1067.6 780.5M760.1 572.3C756.3 576 744.5 586.8 737.1 594.5C729.8 602.3 720.2 613.7 716.1 618.5C711.9 623.4 712.7 622.7 712 623.5M840.2 929.8C845.1 930.9 860.1 933.9 869.8 936.7C879.6 939.6 892.8 944.7 898.6 946.7C904.3 948.8 903.3 948.6 904.2 949"/><path stroke-width="1.1" d="M659.9 466.9C662.7 462.5 670.8 448.8 676.7 440C682.6 431.3 688.7 422.6 695.3 414.4C702 406.2 712.2 395.5 716.5 390.8C720.8 386.1 720.2 387 720.9 386.2M1207.4 245.4L1228.9 249.9M735.2 508.4L740.6 517.3M631.2 711.1L638.4 725.4M663.5 750.5L656.3 777.4"/><path stroke-width="1.2" d="M1080 859.3C1084.4 861.8 1097.3 870.1 1106.5 874.1C1115.6 878 1125.2 881.7 1135 883C1144.8 884.3 1155.7 884 1165.3 881.8C1175 879.5 1184.6 875.1 1192.9 869.6C1201.2 864.2 1208.6 856.6 1215.1 849C1221.5 841.4 1227.5 830.8 1231.6 824C1235.8 817.1 1238.7 810.7 1240.2 808M1259.4 1260C1262.4 1255.9 1271.1 1243 1277.8 1235.5C1284.5 1228 1291.7 1221 1299.7 1214.9C1307.6 1208.7 1319.4 1202.2 1325.5 1198.4C1331.5 1194.7 1334.4 1193.4 1336.2 1192.4M1414.7 722.8C1412.2 727.3 1406 741.9 1399.5 749.5C1393 757.2 1384.5 764.1 1375.6 768.7C1366.7 773.3 1354.7 774.2 1346 777.2C1337.3 780.2 1327.2 785.3 1323.4 786.9M1093.2 713.2C1088.8 716.2 1074.5 724.1 1066.6 731C1058.6 737.9 1050.8 747.8 1045.7 754.4C1040.5 761.1 1037.2 768.1 1035.5 770.9M1006.7 1099.5C1010.2 1103.4 1020.7 1115 1027.6 1122.8C1034.5 1130.7 1040.8 1139.2 1047.9 1146.8C1055.1 1154.4 1062.3 1162 1070.3 1168.5C1078.4 1175 1092.1 1183.1 1096.4 1186M1142.8 1294.4L1148.2 1274.7M810.8 316.3C815.6 314.5 830 308.4 839.9 305.6C849.8 302.8 860 301 870.1 299.2C880.2 297.4 890.7 296.9 900.7 294.7C910.8 292.5 924.5 287.8 930.5 286C936.4 284.2 935.3 284.3 936.3 284M936.3 304.6L904 310.9M1080 237.3L1108.7 235.6M1167.9 277.7C1172.9 278.1 1190.1 279.4 1198.2 280C1206.2 280.6 1213.3 281.1 1216.3 281.3M1399.5 429.3C1402.3 434.1 1411.5 450.6 1416.3 458C1421 465.5 1426.2 471.4 1428.2 474.1M1593.2 673.4L1587.8 646.5M1598.6 842.2C1597.4 847.2 1594.3 862.4 1591.9 872.4C1589.4 882.4 1586.8 892.3 1584 902.2C1581.3 912.2 1576.7 926.9 1575.2 931.9M1535.8 1030.5L1521.4 1063"/><path stroke-width="1.3" d="M1304.2 1240.5C1305.7 1235.5 1308.7 1220 1312.9 1210.6C1317 1201.3 1323 1192.6 1329.3 1184.5C1335.6 1176.3 1344 1168.2 1350.5 1161.5C1356.9 1154.9 1365.3 1147.2 1368.3 1144.4M1259.4 556.2C1263.7 559.1 1276.8 567.5 1285.1 573.6C1293.4 579.6 1301.7 585.8 1309.3 592.7C1317 599.7 1324.7 608.1 1330.8 615.1C1336.9 622.1 1343.3 631.4 1345.9 634.7M1554.1 639.5C1551.6 634.9 1544.1 621.1 1539.1 612C1534 602.8 1529 593.6 1523.7 584.6C1518.4 575.5 1512.3 565.8 1507.3 557.8C1502.2 549.9 1495.5 540.5 1493.2 537M1522 652.3C1520.3 647.4 1515.6 632.5 1511.9 622.9C1508.1 613.3 1504.2 603.7 1499.5 594.6C1494.8 585.4 1486.9 573.2 1483.7 567.9C1480.6 562.6 1480.9 563.5 1480.4 562.7M987.5 1041.9C991.1 1045.4 1001.8 1055.9 1008.9 1063.1C1015.9 1070.2 1022.8 1077.5 1029.6 1084.8C1036.4 1092.2 1043 1099.8 1049.6 1107.4C1056.1 1115 1063.8 1124.2 1068.9 1130.4C1074.1 1136.6 1078.5 1142 1080.4 1144.4M737.7 905.7C734 909 719.6 916.8 715.4 925.2C711.2 933.5 710.8 946.2 712.5 955.7C714.2 965.3 719.1 975.6 725.7 982.3C732.3 989.1 743.9 993.5 752.3 996.5C760.7 999.5 772.1 999.6 776.1 1000.2M782.5 856.1L798.5 884.9M1255.8 1265.7C1257.4 1260.9 1261 1244.7 1265.5 1236.9C1269.9 1229.1 1279.8 1222 1282.7 1219.1M1307.8 1237C1309.3 1231.8 1313.7 1212.7 1316.7 1205.8C1319.6 1198.9 1324.2 1197.4 1325.7 1195.7"/><path stroke-width="1.4" d="M762.2 792C762 797.1 761.8 812.4 761.2 822.6C760.7 832.8 759.9 842.9 758.8 853.1C757.8 863.2 755.6 878.4 755 883.4M737 906.8C733.7 910.5 720.9 920.5 716.9 929.2C712.9 937.8 710.6 949.8 712.9 958.8C715.1 967.8 723.1 976.5 730.4 982.9C737.7 989.3 749.3 994.6 756.7 997.5C764.1 1000.3 771.7 999.6 774.7 1000M618.7 1068.4C620.8 1073.1 626.4 1087.9 631.5 1097C636.5 1106.1 642.3 1115.2 649.1 1123C655.9 1130.8 668.6 1140.3 672.5 1143.7M668.9 1080.9C673.6 1082.9 687.5 1088.9 697 1092.6C706.4 1096.2 715.9 1099.8 725.6 1103C735.2 1106.2 745.1 1108.5 754.8 1111.6C764.4 1114.7 775.9 1118.8 783.4 1121.7C790.9 1124.7 797.2 1128.1 800 1129.4M692.2 1167C696.4 1170.3 712.3 1182.9 717.3 1186.8C722.4 1190.7 721.8 1189.8 722.7 1190.4M1047.5 1211.9L1076.2 1222.6M1202 1292.6C1203.2 1287.6 1204 1271.2 1209.1 1262.9C1214.1 1254.5 1228.6 1245.8 1232.5 1242.4M961.4 294.7C966.4 293.5 981.1 289.2 991 287.1C1000.9 285 1014 283.1 1021.1 282C1028.1 280.8 1031.2 280.7 1033.2 280.4M1557.3 637.5C1554.5 633.3 1545.6 620.8 1540.2 612.2C1534.8 603.6 1529.7 594.8 1524.6 586C1519.6 577.1 1514.4 567.2 1509.7 559.3C1504.9 551.5 1498.5 542.3 1496.3 538.9M1577 783C1577.4 777.7 1578.4 759.9 1579 751.5C1579.6 743.1 1580.4 735.7 1580.6 732.6M1544.8 894.2L1528.6 915.7M688.6 529.9C684 532.5 666.5 542.1 661.1 545.4C655.8 548.7 657.1 548.9 656.3 549.6M1322.5 362.1C1326.7 364.8 1339.5 372.8 1347.9 378.3C1356.2 383.8 1364.6 389.4 1372.6 395.4C1380.7 401.3 1388.6 407.6 1396.2 414.1C1403.8 420.6 1411.2 427.5 1418.3 434.5C1425.4 441.6 1432.2 449 1438.9 456.4C1445.6 463.9 1454.7 474.6 1458.6 479.2C1462.5 483.8 1461.8 483 1462.5 483.8"/><path stroke-width="1.6" d="M634.8 836.8C631.3 840.6 619.6 850.9 613.9 859.3C608.3 867.6 603.9 879.3 601.1 886.9C598.3 894.5 597.8 902 597.1 905M800 1131.2C804.7 1133.6 818.8 1140.4 827.9 1145.6C837 1150.8 845.8 1156.6 854.5 1162.5C863.2 1168.3 871.9 1174.2 880.1 1180.7C888.4 1187.1 900.1 1197.7 904 1201.1M929.1 1202.9C932.4 1206.9 941.8 1219 948.4 1226.9C954.9 1234.7 961.2 1243 968.5 1250.1C975.8 1257.2 987.3 1265.7 992.1 1269.5C996.9 1273.3 996.4 1272.3 997.3 1272.9M1146.4 1310.5L1175.1 1323.1M1284.5 1269.3C1289.3 1267.8 1304 1264.2 1313.2 1260.3C1322.4 1256.5 1331.9 1250.7 1339.7 1246.2C1347.5 1241.7 1356.6 1235.5 1360 1233.4M916.6 294.7C921.5 293.3 936.4 289.1 946.3 286.3C956.3 283.6 966.2 280.8 976.2 278.3C986.2 275.8 996.2 273.4 1006.3 271.4C1016.4 269.5 1026.6 267.8 1036.9 266.6C1047.1 265.4 1060.5 264.6 1067.7 264C1074.8 263.5 1077.9 263.5 1080 263.4M1517.8 1072C1515.4 1076.5 1509.8 1091.7 1503.2 1099.2C1496.5 1106.7 1483.8 1113 1477.8 1117.1C1471.9 1121.2 1469.3 1122.8 1467.6 1124M1566.3 586.3C1568 591.1 1573.3 605.5 1576.6 615.1C1579.8 624.7 1583 634.4 1585.8 644.2C1588.6 654 1591 663.9 1593.1 673.8C1595.2 683.8 1597 693.8 1598.5 703.9C1600 714 1601.2 724.1 1602.2 734.2C1603.1 744.3 1603.8 754.5 1604.2 764.7C1604.5 774.8 1604.7 785.1 1604.4 795.2C1604.2 805.4 1603.7 815.6 1602.8 825.7C1601.9 835.9 1600.6 845.9 1599.1 856C1597.6 866.1 1595.1 880.1 1594.1 886.1C1593.1 892.2 1593.2 891.2 1593 892.2"/><path stroke-width="1.7" d="M1400.3 684.4C1399.3 689.5 1399.2 706.4 1394.6 715.1C1389.9 723.8 1381 731.8 1372.3 736.9C1363.6 741.9 1352.6 743.8 1342.3 745.2C1332.1 746.6 1315.9 745.2 1310.6 745.2M1368.3 405.7C1364.3 402.7 1352.3 393.5 1344.2 387.6C1336.1 381.7 1327.9 375.8 1319.6 370.2C1311.3 364.5 1303 358.7 1294.4 353.6C1285.7 348.6 1276.9 343.7 1267.7 339.6C1258.6 335.6 1245.1 331.2 1239.5 329.1C1233.8 327.1 1234.7 327.5 1233.7 327.2M955.5 364.1C951.5 367.2 939.3 376.3 931.6 382.8C923.8 389.3 916.3 396.1 909.1 403.1C901.9 410.2 895.1 417.8 888.2 425.2C881.4 432.7 874.9 440.4 868.1 447.9C861.3 455.5 854.5 462.9 847.7 470.4C840.9 477.9 834.2 485.4 827.4 493C820.7 500.5 814.1 508.3 807.2 515.6C800.2 522.9 789.3 533.5 785.7 537M1064.4 687.6C1060.3 690.8 1047.8 700.2 1039.8 706.9C1031.8 713.7 1023.3 720.3 1016.3 728C1009.3 735.7 1001.7 747 997.7 753.1C993.7 759.2 993.2 762.6 992.3 764.4M1083.6 320.8C1078.4 321.2 1062.8 321.8 1052.6 323.4C1042.4 324.9 1028.4 328.9 1022.3 330.3C1016.3 331.7 1017.3 331.7 1016.3 332M837 1086.7C841.7 1088.5 856 1093.8 865.6 1097.2C875.1 1100.6 884.7 1103.8 894.4 1107C904 1110.3 913.8 1113 923.4 1116.5C932.9 1120 942.7 1123.2 951.6 1127.9C960.5 1132.6 968.9 1138.5 976.8 1144.8C984.8 1151.1 991.5 1159 999.1 1165.7C1006.7 1172.4 1017.1 1180.6 1022.6 1185.1C1028.1 1189.5 1030.7 1191.2 1032.3 1192.4M894.6 1131.6C899.1 1134.5 913.6 1143.6 921.6 1149C929.6 1154.3 939.1 1161.1 942.7 1163.6M680 1083.5C684.7 1085.4 698.9 1091 708.3 1094.8C717.7 1098.6 727.1 1102.5 736.6 1106.3C746 1110 755.5 1113.7 764.9 1117.4C774.4 1121 784 1124.3 793.4 1128.2C802.8 1132 812.2 1136 821.3 1140.5C830.4 1145.1 839.3 1150.1 847.8 1155.5C856.4 1161 864.6 1167.1 872.5 1173.5C880.4 1179.8 890.1 1188.9 895.3 1193.7C900.6 1198.4 902.7 1200.6 904.2 1202M832.3 1084.5C836.8 1086.9 849.9 1095 859.2 1099.1C868.4 1103.1 878.2 1106.4 888 1109.1C897.8 1111.7 908.2 1112.4 918 1115C927.8 1117.6 937.6 1120.6 946.8 1124.8C956 1129 964.9 1134.3 973 1140.4C981.1 1146.4 987.9 1154.3 995.5 1161.1C1003.2 1167.8 1012.6 1175.5 1018.9 1180.7C1025.1 1185.9 1030.8 1190.2 1033.2 1192.1M1360 1228L1331.1 1237M620.4 503C622.8 498.3 629.7 484 634.5 474.7C639.4 465.3 644.6 454.9 649.4 446.7C654.3 438.6 661.2 429.2 663.5 425.7M800 303.7C804.6 301.7 818.2 294.3 827.7 291.5C837.3 288.8 847.3 288.5 857.2 287.2C867.1 285.8 877.3 285.2 887.1 283.5C897 281.8 906.6 278.6 916.5 276.9C926.4 275.3 940.5 274.3 946.4 273.7C952.4 273.1 951.5 273.3 952.5 273.2M873.5 273.2C878.6 272.6 893.8 270.8 903.9 269.3C914 267.9 924 266.3 934.1 264.6C944.1 262.9 954.1 260.7 964.2 259.2C974.3 257.7 984.4 256.5 994.5 255.6C1004.7 254.8 1014.9 254.5 1025.1 253.9C1035.3 253.3 1046.5 252.6 1055.6 251.9C1064.8 251.3 1075.9 250.2 1080 249.9M1080 323.4C1074.6 323.8 1058.3 324.4 1047.5 325.6C1036.7 326.8 1020.6 329.8 1015.2 330.6M1080 278.6C1085 276.7 1099.5 269.6 1109.7 267.1C1119.9 264.5 1130.8 263.8 1141.4 263.3C1152 262.8 1168 264.1 1173.3 264.3M1087.2 249.9C1092.6 249.9 1108.7 249.7 1119.5 250C1130.2 250.3 1146.4 251.4 1151.7 251.7M1516.1 1063C1515.4 1068.1 1514 1083.3 1511.8 1093.3C1509.6 1103.3 1507.2 1113.8 1502.9 1122.8C1498.5 1131.9 1492.5 1140.3 1485.7 1147.8C1478.9 1155.2 1470.3 1161.5 1462.1 1167.6C1453.9 1173.7 1445.3 1179.2 1436.5 1184.3C1427.7 1189.4 1418.5 1193.7 1409.3 1198.3C1400.2 1202.8 1390 1207.5 1381.8 1211.6C1373.6 1215.7 1363.6 1220.8 1360 1222.6M618.7 503C616.3 507.7 609.4 521.8 604.7 531C599.9 540.3 594.6 549.4 589.9 558.7C585.2 568 579.1 581.3 576.4 587C573.7 592.6 574.2 591.7 573.8 592.7M1300 330.9C1304.4 333.3 1317.9 340.3 1326.6 345.3C1335.4 350.2 1344.2 355.2 1352.7 360.6C1361.2 366 1369.6 371.7 1377.7 377.7C1385.8 383.7 1393.7 390 1401.4 396.6C1409.1 403.1 1417.2 410.7 1423.8 416.8C1430.5 423 1438.4 430.8 1441.3 433.6"/><path stroke-width="1.9" d="M1000.3 792C1001.8 797 1005.8 812 1009.3 821.8C1012.8 831.5 1016.5 841.4 1021.3 850.5C1026.1 859.7 1031.8 868.8 1038.3 876.8C1044.7 884.8 1053.2 892.6 1060.2 898.7C1067.1 904.9 1076.7 911.2 1080.1 913.7M667.1 944.4C667.8 949.5 668.9 965.1 671.5 975C674 984.9 677 995.7 682.5 1004C688.1 1012.2 696.3 1019.5 704.9 1024.7C713.5 1030 724.3 1032.2 734.1 1035.2C744 1038.2 754.1 1040.2 764.1 1042.7C774 1045.3 788 1048.9 794 1050.5C800 1052 799 1051.8 800 1052.1M738.8 818.9C736.6 823.6 730.4 838.2 725.5 847.5C720.6 856.8 715.3 865.9 709.4 874.6C703.5 883.3 693.8 894.4 690 899.5C686.2 904.6 687.3 904.1 686.8 905M703 1066.6C707.6 1068.7 721.4 1075 730.8 1079C740.1 1083.1 749.8 1086.4 758.9 1090.9C767.9 1095.4 778.3 1101.7 785.2 1106C792.1 1110.3 797.5 1115 800 1116.8M763.9 1228C759.3 1225.7 745.2 1219.3 736.2 1214.2C727.2 1209.1 714.5 1200.3 710.1 1197.5M893.3 1131.2C897.6 1133.8 910.8 1141.4 919.2 1147C927.6 1152.7 939.4 1162.2 943.5 1165.2M952.5 1186.8C955.9 1190.5 965.7 1201.9 972.8 1209.1C979.9 1216.2 986.8 1223.7 994.8 1229.7C1002.8 1235.7 1011.7 1241.1 1020.9 1245C1030 1249 1040 1251.8 1049.8 1253.5C1059.7 1255.1 1075 1254.7 1080 1254.9"/><path stroke-width="2.0" d="M1080 913.7C1084.9 915.1 1099.6 919.3 1109.4 922C1119.3 924.8 1129.2 928 1139.1 930.3C1149.1 932.7 1159.3 935.7 1169.3 936C1179.4 936.3 1190 935.1 1199.7 932.3C1209.4 929.5 1219 924.7 1227.6 919.2C1236.2 913.8 1244.2 906.9 1251.2 899.5C1258.1 892 1264.5 883.5 1269.3 874.6C1274.2 865.7 1278.1 851.8 1280.1 846C1282.2 840.3 1281.5 841.1 1281.8 840.1M1080 997C1084.2 999.9 1096.7 1008.9 1105.4 1014.3C1114.1 1019.7 1126.8 1026.4 1132.2 1029.4C1137.6 1032.4 1136.7 1031.8 1137.7 1032.3M1009.9 678C1006.6 681.9 995.7 693.3 990.1 701.7C984.4 710.1 979.7 718.9 976.3 728.3C972.8 737.7 970.7 752.3 969.3 758.3C968 764.3 968.5 763.4 968.3 764.4M1035.5 760C1036.2 765.1 1037.6 780.6 1039.7 790.7C1041.8 800.9 1043.9 811.7 1048.1 821C1052.4 830.3 1058.2 839.1 1065.1 846.5C1072.1 854 1085.9 862.5 1090 865.7M704.8 800.9C702 805.1 693.3 817.5 688 826C682.7 834.5 678.2 843.4 673 851.9C667.7 860.5 661.9 868.8 656.4 877.2C651 885.5 643.6 893 640.2 902.2C636.9 911.4 636.7 922.3 636.4 932.3C636.1 942.3 636.7 952.4 638.4 962.2C640 972 643 981.7 646.4 991.1C649.8 1000.5 653.5 1010.4 658.9 1018.7C664.4 1027 672.3 1033.4 679.1 1040.8C685.8 1048.2 696 1059.3 699.4 1063M800 1109.6C804.5 1112 818.3 1118.9 827.1 1124.1C835.9 1129.3 844.1 1135.5 852.7 1141.1C861.2 1146.7 869.9 1152.4 878.5 1157.8C887.1 1163.2 896.5 1167.2 904.2 1173.7C911.9 1180.2 920.5 1192.3 924.7 1196.9C928.8 1201.5 928.4 1200.4 929.1 1201.1M1106.9 1283.6C1111.3 1281 1124.4 1272.8 1133.4 1267.7C1142.3 1262.6 1152.3 1259.1 1160.6 1253.2C1168.9 1247.3 1178 1237.3 1183.1 1232.2C1188.2 1227.1 1189.9 1224.2 1191.2 1222.6M1360 1238.8C1356.2 1242.2 1345.2 1252.9 1337.1 1259.1C1328.9 1265.3 1320.2 1270.8 1311.3 1275.7C1302.3 1280.7 1293 1285.1 1283.4 1288.7C1273.9 1292.2 1263.9 1294.6 1254 1297.1C1244.1 1299.5 1232 1302.3 1224 1303.3C1215.9 1304.4 1208.6 1303.4 1205.6 1303.4M663.5 425.7C667 421.7 677.1 407.9 684.2 402C691.4 396 702.8 391.8 706.5 389.8M1051.1 353.9C1046.1 354.5 1030.8 354.9 1021.1 357.3C1011.5 359.8 1001.2 364.8 993.1 368.7C984.9 372.6 975.7 378.8 972.2 380.8M1535.8 512C1537.9 516.6 1544.3 530.3 1548.6 539.5C1553 548.6 1557.9 557.6 1561.7 566.9C1565.5 576.3 1568.8 585.8 1571.6 595.5C1574.4 605.3 1576.7 617.2 1578.5 625.1C1580.3 633 1581.8 639.9 1582.4 642.9M1539.4 1063C1537.1 1067.5 1530.2 1081 1525.7 1090C1521.3 1099.1 1517.3 1108.5 1512.6 1117.4C1508 1126.4 1503.4 1135.4 1497.8 1143.8C1492.3 1152.2 1485.9 1160.2 1479.2 1167.8C1472.5 1175.3 1465.2 1182.5 1457.7 1189.2C1450.1 1195.8 1442.1 1202.1 1433.8 1207.9C1425.6 1213.7 1417 1219 1408.3 1224.1C1399.6 1229.3 1389.7 1234.4 1381.7 1238.7C1373.6 1242.9 1363.6 1247.7 1360 1249.5M1550.1 1063C1548.3 1067.7 1542.9 1081.9 1539 1091.3C1535.1 1100.6 1531.1 1109.9 1526.5 1118.9C1521.8 1127.9 1516.9 1136.8 1511.3 1145.2C1505.7 1153.7 1499.5 1161.8 1492.9 1169.5C1486.4 1177.2 1479.3 1184.6 1471.9 1191.5C1464.5 1198.4 1456.7 1204.9 1448.6 1210.9C1440.5 1217 1431.9 1222.4 1423.3 1227.8C1414.8 1233.2 1405.9 1238.2 1397.1 1243.2C1388.3 1248.2 1376.8 1254.6 1370.6 1258C1364.4 1261.5 1361.8 1262.9 1360 1263.9"/><path stroke-width="2.1" d="M1544.4 1048.3C1542.1 1052.8 1535.5 1066.6 1530.6 1075.5C1525.7 1084.4 1520.8 1093.2 1515.3 1101.7C1509.7 1110.1 1503.7 1118.2 1497.2 1126C1490.8 1133.8 1483.8 1141.3 1476.7 1148.5C1469.5 1155.7 1462 1162.8 1454.4 1169.5C1446.7 1176.2 1438.8 1182.7 1430.7 1188.7C1422.5 1194.7 1414.1 1200.4 1405.4 1205.5C1396.7 1210.6 1387.6 1215.1 1378.4 1219.3C1369.2 1223.5 1357.8 1227.8 1350.2 1230.8C1342.7 1233.8 1335.9 1236.2 1333 1237.3M680 977.8C682.2 982.5 687.4 997.5 693.2 1005.8C699.1 1014.1 706.7 1021.9 715.1 1027.4C723.6 1032.9 734.2 1035.3 743.9 1038.6C753.6 1042 763.7 1044.4 773.5 1047.5C783.3 1050.5 796 1054.8 802.8 1057.1C809.7 1059.4 812.6 1060.4 814.5 1061.1M760.1 808C759.7 813.2 758.7 828.5 758 838.7C757.3 849 756.5 862.3 756 869.4C755.6 876.6 755.4 879.7 755.3 881.7M837 760C834.5 764.6 826.1 778 822.5 787.7C818.9 797.3 816.7 811.8 815.4 817.8C814.1 823.9 814.7 823 814.5 824.1"/><path stroke-width="2.2" d="M968.3 760C969.1 765 970.9 780.3 973.2 790.2C975.5 800 978.2 809.8 982 819.2C985.8 828.6 990.9 837.6 996.1 846.3C1001.3 855 1007.6 863.1 1013.4 871.4C1019.3 879.7 1025.5 887.7 1031.3 896.1C1037 904.6 1042 913.6 1047.7 922C1053.3 930.5 1058.7 939.1 1065.4 946.6C1072.1 954.1 1081.7 961.7 1087.9 966.9C1094.1 972.1 1100.3 976 1102.8 977.8M901 875.3C904.8 878.7 916.2 889 923.7 895.9C931.3 902.7 938.9 909.6 946.2 916.7C953.5 923.8 960.9 931 967.6 938.6C974.4 946.3 980.8 954.3 986.7 962.7C992.6 971 997.9 979.8 1002.8 988.7C1007.7 997.7 1014.1 1011.7 1016.3 1016.2M1580.7 945.9C1579 950.6 1574 964.9 1570.3 974.3C1566.7 983.6 1562.9 993 1558.8 1002.2C1554.7 1011.4 1550.2 1020.4 1545.5 1029.3C1540.7 1038.2 1535.7 1047 1530.5 1055.6C1525.3 1064.2 1519.8 1072.7 1514.1 1081C1508.4 1089.3 1502.5 1097.5 1496.3 1105.5C1490.2 1113.4 1483.8 1121.2 1477.2 1128.8C1470.5 1136.4 1463.7 1143.9 1456.7 1151.1C1449.6 1158.3 1442.4 1165.3 1434.9 1172.1C1427.5 1178.9 1419.8 1185.5 1412 1191.8C1404.2 1198.2 1396.2 1204.3 1388 1210.2C1379.9 1216.2 1371.6 1221.9 1363.1 1227.3C1354.6 1232.7 1345.9 1237.8 1337.1 1242.7C1328.2 1247.6 1317.4 1252.9 1310.2 1256.5C1303 1260.1 1296.6 1263.1 1293.9 1264.4"/><path stroke-width="2.3" d="M926.6 760C926.9 765.1 926.4 780.6 928 790.6C929.5 800.5 932 810.4 935.7 819.7C939.4 829.1 944.9 838.1 950.3 846.8C955.8 855.4 962.1 863.5 968.3 871.5C974.5 879.5 981.2 887.1 987.7 894.8C994.3 902.6 1000.9 910.2 1007.5 917.9C1014.1 925.6 1020.7 933.4 1027.4 941C1034 948.7 1040.5 956.6 1047.5 964C1054.4 971.4 1061.6 978.6 1069.1 985.3C1076.7 992 1087.4 999.8 1093 1004.2C1098.6 1008.6 1101.2 1010.2 1102.8 1011.4M1516.4 465.6C1519.2 469.8 1527.7 482.2 1533.2 490.7C1538.6 499.1 1544.1 507.6 1549.1 516.3C1554.1 525 1558.8 533.9 1563.3 542.9C1567.7 551.9 1571.9 561.1 1575.9 570.4C1579.8 579.6 1583.5 589 1587 598.4C1590.4 607.9 1593.6 617.4 1596.5 627.1C1599.4 636.7 1602 646.4 1604.4 656.2C1606.8 666 1608.9 675.8 1610.7 685.7C1612.5 695.6 1614 705.6 1615.3 715.5C1616.5 725.5 1617.5 735.5 1618.2 745.6C1618.9 755.6 1619.3 765.7 1619.5 775.7C1619.6 785.8 1619.4 795.9 1619 805.9C1618.6 816 1617.9 826 1616.9 836C1615.9 846 1614.6 856 1613.1 866C1611.5 875.9 1609.7 885.8 1607.6 895.6C1605.5 905.5 1603.1 915.3 1600.5 925C1597.9 934.7 1594.9 944.3 1591.8 953.8C1588.6 963.4 1585.1 972.9 1581.4 982.2C1577.7 991.5 1573.7 1000.8 1569.5 1009.9C1565.3 1019.1 1560.8 1028.1 1556.1 1036.9C1551.3 1045.8 1546.3 1054.6 1541.1 1063.2C1535.9 1071.8 1530.4 1080.2 1524.8 1088.5C1519.1 1096.8 1513.1 1105 1507 1112.9C1500.8 1120.9 1494.5 1128.7 1487.9 1136.3C1481.3 1143.9 1474.5 1151.3 1467.5 1158.6C1460.5 1165.8 1453.3 1172.8 1445.9 1179.6C1438.5 1186.5 1431 1193.1 1423.2 1199.5C1415.5 1205.9 1407.5 1212.2 1399.4 1218.1C1391.3 1224.1 1383 1229.7 1374.5 1235.2C1366.1 1240.6 1355.6 1246.7 1348.7 1250.8C1341.8 1254.9 1335.6 1258.3 1333 1259.8"/><path stroke-width="2.5" d="M1185.7 1260C1190.7 1259 1205.7 1256.3 1215.5 1253.8C1225.2 1251.4 1235 1248.8 1244.4 1245.4C1253.8 1241.9 1263 1237.7 1272.1 1233.2C1281.1 1228.7 1289.9 1223.5 1298.6 1218.3C1307.3 1213.1 1315.9 1207.6 1324.2 1201.8C1332.6 1196.1 1340.8 1190.2 1348.7 1183.8C1356.5 1177.5 1364.1 1170.9 1371.3 1163.9C1378.5 1156.9 1385.3 1149.4 1391.9 1141.8C1398.6 1134.2 1405 1126.3 1411.4 1118.5C1417.8 1110.6 1424.1 1102.8 1430.4 1094.8C1436.6 1086.8 1442.9 1078.9 1448.8 1070.8C1454.7 1062.6 1460.5 1054.4 1465.9 1045.9C1471.3 1037.4 1476.4 1028.6 1481.3 1019.8C1486.2 1011 1490.8 1001.9 1495.3 992.9C1499.8 983.9 1504.1 974.7 1508.4 965.6C1512.6 956.4 1516.7 947.2 1520.8 937.9C1524.8 928.7 1528.8 919.4 1532.7 910.1C1536.6 900.8 1540.4 891.5 1544.2 882.1C1547.9 872.8 1551.6 863.4 1555.2 853.9C1558.8 844.5 1562.3 835 1565.8 825.6C1569.3 816.1 1573.6 803.7 1576 797C1578.3 790.4 1579.3 787.5 1580 785.6M865.8 900.9C870.5 902.8 885 907.6 894 911.9C903.1 916.3 911.9 921.2 920.1 927C928.4 932.8 936 939.6 943.4 946.5C950.8 953.4 957.7 960.8 964.3 968.4C970.9 976 977 984 983.1 992.1C989.1 1000.1 994.8 1008.5 1000.6 1016.7C1006.5 1024.9 1012.4 1033.1 1018.3 1041.3C1024.1 1049.5 1029.9 1057.7 1035.7 1066C1041.5 1074.3 1047 1082.8 1053 1090.9C1058.9 1099 1065.1 1106.9 1071.6 1114.6C1078.2 1122.3 1088.1 1132.4 1092.2 1136.8C1096.3 1141.2 1095.7 1140.4 1096.4 1141.2M680 1041.9C683.5 1045.5 693.3 1057.5 701.1 1063.9C708.9 1070.2 717.7 1075.4 726.8 1079.9C735.9 1084.3 746 1087.2 755.6 1090.5C765.2 1093.8 775.1 1096.2 784.5 1099.8C793.9 1103.4 803.1 1107.7 812.1 1112.3C821.1 1116.9 829.8 1122.3 838.6 1127.4C847.4 1132.5 856.3 1137.4 864.8 1142.9C873.3 1148.3 881.8 1154 889.8 1160.2C897.7 1166.5 905.5 1173.2 912.6 1180.4C919.6 1187.7 926 1195.6 932.1 1203.7C938.1 1211.8 943.3 1220.6 948.8 1229.1C954.3 1237.6 961.8 1249.7 965 1254.9C968.3 1260 967.7 1259.1 968.3 1260M952.3 1186C955.9 1189.7 967 1200.6 974.3 1208.1C981.6 1215.5 988 1224.2 996 1230.6C1004.1 1237 1013.4 1242.1 1022.8 1246.4C1032.2 1250.7 1045.5 1254.3 1052.4 1256.5C1059.4 1258.8 1062.4 1259.4 1064.4 1260M739.3 760C739 765.1 739.2 780.6 737.8 790.7C736.5 800.8 733.7 810.7 731 820.6C728.3 830.5 725.6 840.8 721.6 850.2C717.6 859.6 712.8 868.5 707.1 877C701.5 885.5 692.1 895.3 687.6 900.9C683.1 906.5 681.3 908.9 680 910.5M1136.6 240C1141.6 240.7 1156.5 242.7 1166.4 244.3C1176.4 245.9 1186.3 247.5 1196.1 249.6C1206 251.7 1215.7 254.1 1225.4 256.8C1235.1 259.5 1244.7 262.5 1254.3 265.7C1263.8 269 1273.2 272.4 1282.6 276.2C1291.9 279.9 1301.1 283.9 1310.2 288.2C1319.4 292.4 1328.4 296.9 1337.2 301.7C1346.1 306.4 1354.8 311.4 1363.4 316.6C1372 321.9 1380.5 327.3 1388.8 333C1397 338.7 1405.2 344.7 1413.1 350.8C1421.1 356.9 1428.9 363.3 1436.5 369.9C1444.1 376.5 1451.6 383.3 1458.8 390.2C1466 397.2 1473.1 404.4 1479.9 411.8C1486.7 419.2 1493.4 426.7 1499.8 434.5C1506.2 442.2 1512.4 450.1 1518.4 458.2C1524.4 466.3 1530.2 474.6 1535.7 483C1541.2 491.4 1546.5 499.9 1551.6 508.6C1556.6 517.3 1561.4 526.2 1566 535.1C1570.5 544.1 1574.9 553.2 1578.9 562.4C1583 571.6 1586.8 580.9 1590.4 590.3C1593.9 599.7 1597.3 609.2 1600.3 618.8C1603.3 628.4 1606.1 638.1 1608.5 647.8C1610.9 657.6 1612.9 667.4 1614.9 677.3C1616.8 687.2 1619.3 702.1 1620.2 707M1172.1 258.1C1177 259.2 1191.7 262.2 1201.5 264.4C1211.2 266.7 1220.9 269.1 1230.6 271.9C1240.2 274.6 1249.7 277.7 1259.2 281.1C1268.6 284.5 1277.9 288.2 1287.2 292.1C1296.4 296 1305.5 300.2 1314.5 304.6C1323.5 309 1332.4 313.7 1341.1 318.6C1349.8 323.5 1358.4 328.7 1366.9 334.1C1375.3 339.5 1383.6 345.2 1391.7 351C1399.8 356.9 1407.8 363 1415.6 369.3C1423.4 375.6 1431 382.2 1438.4 388.9C1445.8 395.7 1453 402.6 1460 409.8C1467 416.9 1473.9 424.3 1480.5 431.8C1487.1 439.4 1493.5 447.1 1499.6 455C1505.8 462.9 1511.7 471 1517.4 479.2C1523.2 487.4 1528.6 495.9 1533.9 504.4C1539.1 512.9 1544.1 521.6 1548.9 530.4C1553.6 539.3 1558.2 548.2 1562.4 557.3C1566.7 566.4 1570.6 575.6 1574.3 584.9C1577.9 594.2 1581.5 604.7 1584.4 613.2C1587.3 621.7 1590.6 632.3 1591.9 636.1M1222.6 284.1C1227.3 285.7 1241.7 290.2 1251.2 293.6C1260.7 296.9 1270.2 300.3 1279.5 304.1C1288.8 307.9 1298 312 1307 316.4C1316.1 320.9 1325 325.6 1333.8 330.5C1342.5 335.5 1351.2 340.7 1359.6 346.1C1368.1 351.5 1376.4 357.2 1384.6 363.1C1392.7 369 1400.7 375.2 1408.4 381.6C1416.2 388 1423.8 394.6 1431.2 401.4C1438.7 408.2 1445.9 415.2 1452.9 422.4C1459.9 429.7 1466.7 437.1 1473.2 444.8C1479.7 452.5 1485.8 460.4 1491.9 468.4C1498 476.4 1506.8 488.7 1509.8 492.8M1576.5 540.6C1578.6 545.2 1584.8 558.8 1588.7 568.1C1592.6 577.3 1596.5 586.5 1599.9 595.9C1603.3 605.3 1606.5 614.8 1609.3 624.4C1612.2 634 1614.8 643.7 1617.1 653.5C1619.4 663.2 1621.5 673 1623.3 682.9C1625.2 692.7 1626.7 702.6 1628 712.5C1629.3 722.5 1630.3 732.4 1631 742.4C1631.7 752.4 1632.2 762.4 1632.4 772.4C1632.6 782.4 1632.5 792.5 1632.2 802.5C1631.8 812.5 1631.2 822.5 1630.3 832.5C1629.4 842.4 1628.2 852.4 1626.8 862.3C1625.3 872.2 1623.6 882.1 1621.7 891.9C1619.7 901.7 1617.5 911.5 1615 921.2C1612.5 930.9 1609.7 940.5 1606.7 950.1C1603.6 959.6 1600.4 969.1 1596.8 978.5C1593.3 987.8 1589.5 997.1 1585.4 1006.3C1581.4 1015.4 1577.1 1024.5 1572.5 1033.4C1568 1042.3 1563.3 1051.2 1558.3 1059.9C1553.3 1068.5 1548 1077.1 1542.5 1085.4C1537 1093.8 1531.2 1101.9 1525.2 1110C1519.3 1118 1510.5 1129 1506.8 1133.7C1503.2 1138.5 1503.7 1137.7 1503.1 1138.5"/><path stroke-width="2.6" d="M869 817.7C873.5 820 887.4 826.3 895.9 831.6C904.4 836.9 912.4 843 920.1 849.4C927.9 855.9 934.9 863.3 942.3 870.2C949.7 877.1 957.3 883.7 964.5 890.8C971.7 897.8 978.9 904.9 985.4 912.5C992 920.1 998.2 928.2 1003.9 936.5C1009.6 944.9 1014.7 953.6 1019.6 962.4C1024.5 971.2 1029 980.3 1033.3 989.4C1037.6 998.5 1041.7 1007.7 1045.6 1017C1049.4 1026.3 1052.6 1036 1056.3 1045.4C1060 1054.8 1063.2 1064.4 1068 1073.2C1072.7 1082.1 1080 1091.7 1084.7 1098.2C1089.5 1104.8 1094.5 1110 1096.4 1112.3"/><path stroke-width="3.1" d="M1016.3 1260C1021.2 1259.4 1036.1 1257.4 1046.1 1256.4C1056 1255.3 1065.9 1253.9 1076 1253.4C1086 1253 1096.1 1253.5 1106.1 1253.6C1116.1 1253.8 1126.2 1254.8 1136.2 1254.4C1146.1 1254 1156 1253.2 1165.8 1251.3C1175.5 1249.4 1185.1 1246.2 1194.6 1242.9C1204.1 1239.6 1213.5 1235.5 1222.7 1231.5C1232 1227.5 1241.2 1223.3 1250.2 1219C1259.2 1214.6 1268.2 1210.2 1276.9 1205.3C1285.6 1200.5 1294.2 1195.3 1302.5 1189.8C1310.8 1184.3 1319 1178.4 1326.9 1172.2C1334.8 1166.1 1342.5 1159.6 1350 1152.9C1357.4 1146.1 1364.6 1139.1 1371.6 1132C1378.6 1124.8 1385.3 1117.3 1391.8 1109.7C1398.3 1102.1 1404.6 1094.3 1410.6 1086.4C1416.7 1078.4 1422.5 1070.3 1428.3 1062C1434 1053.8 1439.6 1045.5 1445.1 1037.1C1450.6 1028.7 1456 1020.3 1461.2 1011.7C1466.3 1003.2 1471.4 994.5 1476.2 985.7C1480.9 976.9 1485.4 968 1489.8 959C1494.1 950 1498.2 940.8 1502.3 931.7C1506.4 922.5 1510.5 913.4 1514.5 904.2C1518.5 895 1522.4 885.8 1526.3 876.6C1530.2 867.4 1534 858.1 1537.8 848.8C1541.5 839.6 1545.4 829.3 1548.7 820.9C1551.9 812.5 1555.8 802.2 1557.3 798.4"/></g><path fill="#650000" d="M1047.8 1212.2 1053.4 1214.4 1059.1 1216.6 1064.8 1218.7 1070.6 1220.5 1076.5 1222 1082.4 1223.2 1088.4 1223.9 1094.4 1224.2 1100.5 1224 1106.6 1223.6 1112.7 1222.8 1118.8 1221.9 1124.8 1220.8 1130.9 1219.6 1136.9 1218.3 1142.9 1217 1148.9 1215.7 1154.8 1214.4 1160.8 1213.1 1166.7 1211.8 1172.5 1210.4 1178.4 1209 1184.2 1207.6 1190.1 1206.1 1195.8 1204.5 1201.6 1202.8 1207.4 1201.1 1213.1 1199.2 1218.8 1197.2 1224.5 1195.1 1230.1 1192.9 1235.7 1190.5 1241.3 1188.1 1246.8 1185.6 1252.3 1182.9 1257.7 1180.2 1263.1 1177.3 1268.4 1174.4 1273.6 1171.4 1278.8 1168.2 1283.9 1165 1289 1161.7 1294 1158.3 1299 1154.8 1303.9 1151.2 1308.7 1147.6 1313.5 1143.9 1318.2 1140.1 1322.9 1136.2 1327.5 1132.3 1332 1128.3 1336.5 1124.2 1341 1120.1 1345.4 1116 1349.8 1111.7 1354 1107.4 1358.2 1103 1362.4 1098.5 1366.4 1094 1370.3 1089.4 1374.1 1084.7 1377.8 1079.9 1381.4 1075 1384.9 1070 1388.2 1064.9 1391.4 1059.8 1394.5 1054.6 1397.6 1049.4 1400.6 1044.2 1403.7 1039 1406.8 1033.9 1410 1028.8 1413.2 1023.8 1416.7 1019 1420.3 1014.3 1424 1009.6 1427.9 1005 1431.8 1000.5 1435.8 995.9 1439.7 991.3 1443.4 986.5 1447 981.6 1450.4 976.6 1453.6 971.4 1456.6 966.1 1459.4 960.7 1462 955.2 1464.5 949.6 1466.9 944 1469.2 938.3 1471.4 932.7 1473.5 927 1475.6 921.3 1477.6 915.7 1479.7 910.1 1481.8 904.6 1483.9 899.1 1486.1 893.6 1488.4 888.1 1490.7 882.7 1493.3 877.3 1496 871.9 1498.8 866.5 1501.9 861.2 1505.2 855.9 1508.7 850.6 1512.4 845.2 1516.2 839.9 1520 834.6 1523.8 829.2 1527.4 823.8 1530.8 818.5 1533.9 813 1536.6 807.6 1538.8 802.1 1540.6 796.5 1541.7 790.9 1542.1 785.2 1541.7 779.5 1540.5 773.8 1538.7 768.1 1536.5 762.5 1533.9 756.8 1531 751.2 1528 745.6 1525 740 1522.1 734.4 1519.4 728.8 1517 723.2 1514.7 717.6 1512.7 711.9 1510.8 706.2 1508.9 700.5 1507.1 694.9 1505.4 689.2 1503.6 683.5 1501.8 677.8 1500 672.1 1498 666.5 1495.8 660.9 1493.5 655.3 1491.1 649.8 1488.6 644.3 1486 638.8 1483.2 633.4 1480.4 628 1477.5 622.6 1474.5 617.3 1471.5 612.1 1468.4 606.8 1465.2 601.6 1462 596.5 1458.8 591.4 1455.5 586.3 1452.2 581.3 1448.9 576.3 1445.5 571.3 1442 566.3 1438.6 561.4 1435.1 556.5 1431.6 551.6 1428 546.7 1424.4 541.9 1420.8 537.1 1417.2 532.2 1413.5 527.4 1409.9 522.7 1406.2 517.9 1402.5 513.1 1398.9 508.3 1395.2 503.6 1391.5 498.8 1387.7 494.1 1384 489.4 1380.3 484.7 1376.5 479.9 1372.8 475.2 1369 470.5 1365.2 465.8 1361.4 461.2 1357.6 456.5 1353.7 451.9 1349.8 447.3 1345.8 442.7 1341.8 438.2 1337.8 433.7 1333.7 429.3 1329.5 424.9 1325.3 420.6 1320.9 416.3 1316.6 412.2 1312.1 408 1307.6 404 1303 400 1298.4 396.1 1293.7 392.3 1289 388.5 1284.2 384.8 1279.3 381.2 1274.5 377.7 1269.5 374.2 1264.5 370.7 1259.5 367.4 1254.5 364.1 1249.4 360.8 1244.2 357.7 1239 354.5 1233.8 351.5 1228.5 348.5 1223.2 345.6 1217.9 342.7 1212.5 340 1207 337.3 1201.5 334.8 1196 332.3 1190.4 330 1184.7 327.8 1179 325.7 1173.3 323.8 1167.5 322 1161.6 320.3 1155.8 318.8 1149.9 317.3 1144 316 1138 314.9 1132 314 1126 313.1 1120.1 312.3 1114.1 311.6 1108.1 310.9 1102.1 310.2 1096.1 309.5 1096 310.3 1102 311.3 1107.9 312.3 1113.8 313.3 1119.7 314.4 1125.6 315.5 1131.5 316.8 1137.3 318.1 1143.2 319.6 1149 321 1154.8 322.6 1160.5 324.2 1166.3 325.9 1172 327.7 1177.6 329.7 1183.2 331.7 1188.8 333.9 1194.3 336.2 1199.8 338.6 1205.2 341.1 1210.6 343.7 1215.9 346.5 1221.2 349.3 1226.5 352.2 1231.7 355.1 1236.9 358.1 1242 361.2 1247.1 364.4 1252.2 367.6 1257.2 370.9 1262.2 374.2 1267.1 377.6 1272 381.1 1276.8 384.6 1281.6 388.2 1286.4 391.9 1291.1 395.6 1295.7 399.4 1300.3 403.2 1304.8 407.2 1309.3 411.2 1313.7 415.2 1318 419.3 1322.3 423.5 1326.5 427.8 1330.6 432.1 1334.7 436.5 1338.7 441 1342.7 445.5 1346.6 450 1350.5 454.6 1354.3 459.2 1358.2 463.8 1362 468.5 1365.7 473.2 1369.5 477.9 1373.3 482.6 1377 487.3 1380.7 492 1384.4 496.7 1388.2 501.4 1391.8 506.2 1395.5 510.9 1399.2 515.7 1402.9 520.4 1406.6 525.2 1410.2 530 1413.8 534.8 1417.5 539.6 1421.1 544.4 1424.6 549.2 1428.2 554.1 1431.7 558.9 1435.2 563.8 1438.6 568.7 1442 573.6 1445.4 578.6 1448.7 583.6 1452 588.6 1455.2 593.6 1458.5 598.7 1461.6 603.8 1464.8 609 1467.8 614.2 1470.9 619.4 1473.8 624.7 1476.7 630 1479.5 635.3 1482.2 640.6 1484.8 646 1487.3 651.5 1489.7 656.9 1491.9 662.4 1494 667.9 1496 673.5 1497.9 679.1 1499.6 684.7 1501.4 690.4 1503.1 696.1 1504.9 701.8 1506.8 707.5 1508.7 713.3 1510.8 719 1513.1 724.8 1515.6 730.5 1518.4 736.3 1521.4 741.9 1524.4 747.5 1527.4 753.1 1530.2 758.6 1532.7 764.1 1534.9 769.5 1536.6 774.8 1537.7 780 1538.1 785.2 1537.7 790.3 1536.7 795.5 1535.1 800.7 1533 805.9 1530.4 811.2 1527.4 816.4 1524.1 821.7 1520.6 827 1516.9 832.3 1513.1 837.7 1509.3 843 1505.6 848.4 1502 853.8 1498.6 859.2 1495.5 864.7 1492.6 870.2 1489.8 875.6 1487.3 881.1 1484.9 886.6 1482.6 892.1 1480.3 897.7 1478.2 903.2 1476.1 908.8 1474.1 914.4 1472 920 1469.9 925.7 1467.8 931.3 1465.6 936.9 1463.4 942.5 1461 948.1 1458.6 953.6 1456 959 1453.2 964.3 1450.3 969.5 1447.2 974.5 1443.9 979.4 1440.4 984.2 1436.7 988.9 1432.9 993.4 1429 998 1425 1002.6 1421.1 1007.2 1417.3 1011.9 1413.6 1016.7 1410.1 1021.7 1406.8 1026.7 1403.5 1031.9 1400.4 1037.1 1397.4 1042.3 1394.3 1047.5 1391.3 1052.7 1388.2 1057.8 1385 1062.9 1381.7 1067.9 1378.3 1072.8 1374.8 1077.6 1371.2 1082.3 1367.4 1086.9 1363.5 1091.5 1359.5 1096 1355.5 1100.4 1351.3 1104.7 1347.1 1109 1342.8 1113.2 1338.4 1117.4 1334 1121.4 1329.5 1125.5 1325 1129.4 1320.4 1133.3 1315.8 1137.1 1311.1 1140.9 1306.4 1144.6 1301.6 1148.2 1296.8 1151.7 1291.9 1155.2 1286.9 1158.5 1281.9 1161.8 1276.8 1165 1271.7 1168.1 1266.5 1171.1 1261.2 1174 1255.9 1176.8 1250.6 1179.5 1245.2 1182.1 1239.7 1184.6 1234.2 1187 1228.7 1189.3 1223.1 1191.5 1217.5 1193.6 1211.9 1195.6 1206.2 1197.4 1200.5 1199.2 1194.8 1200.8 1189.1 1202.4 1183.3 1203.9 1177.5 1205.4 1171.7 1206.7 1165.8 1208.1 1159.9 1209.4 1154 1210.7 1148.1 1212 1142.1 1213.3 1136.1 1214.6 1130.1 1215.9 1124.1 1217.1 1118.1 1218.2 1112.2 1219.1 1106.2 1219.8 1100.3 1220.2 1094.4 1220.4 1088.6 1220.4 1082.8 1220.1 1077 1219.3 1071.2 1218.1 1065.5 1216.7 1059.7 1214.9 1053.9 1213.1 1048.2 1211.1zM1180 336.5 1174 336.5 1168 336.4 1162 336.4 1156 336.4 1150 336.4 1144 336.5 1137.9 336.5 1131.9 336.6 1125.9 336.8 1119.9 337.1 1113.9 337.4 1107.9 337.8 1101.9 338.2 1095.9 338.7 1089.9 339.3 1083.9 339.9 1077.9 340.6 1071.9 341.4 1065.9 342.3 1059.9 343.3 1054 344.4 1048 345.6 1042.1 347 1036.3 348.4 1030.4 350.1 1024.7 351.9 1018.9 353.9 1013.3 356 1007.7 358.3 1002.2 360.8 996.7 363.5 991.4 366.4 986.1 369.4 980.9 372.6 975.8 375.9 970.9 379.4 966 383 961.3 386.8 956.6 390.7 952.1 394.6 947.6 398.7 943.2 402.8 938.9 407.1 934.6 411.3 930.4 415.6 926.2 419.9 922.1 424.3 917.9 428.7 913.8 433 909.7 437.5 905.7 441.9 901.6 446.3 897.6 450.8 893.6 455.3 889.6 459.8 885.7 464.3 881.7 468.9 877.8 473.4 873.9 478 870.1 482.7 866.3 487.3 862.5 492 858.8 496.8 855.2 501.6 851.6 506.4 848 511.3 844.5 516.2 841.1 521.1 837.7 526.1 834.3 531.1 831 536.1 827.8 541.2 824.6 546.3 821.4 551.4 818.3 556.5 815.2 561.7 812.2 566.9 809.2 572.1 806.2 577.3 803.2 582.5 800.3 587.8 797.3 593.1 794.5 598.4 791.7 603.7 789 609.2 786.5 614.6 784.1 620.2 782 625.9 780 631.6 778.2 637.3 776.4 643.1 774.6 648.8 772.8 654.5 771 660.2 769 665.9 766.9 671.4 764.6 676.9 762.2 682.4 759.7 687.9 757.2 693.4 754.7 698.9 752.4 704.4 750.1 710 748.1 715.7 746.2 721.4 744.6 727.2 743 733.1 741.7 739 740.5 744.9 739.4 750.8 738.3 756.7 737.2 762.7 736.2 768.6 735.1 774.5 734.1 780.4 734.8 780.5 736 774.7 737.3 768.8 738.6 762.9 739.9 757.1 741.2 751.2 742.6 745.4 744.1 739.6 745.6 733.8 747.2 728 748.9 722.3 750.8 716.6 752.8 711 755 705.5 757.4 700 759.9 694.6 762.4 689.1 764.9 683.6 767.3 678.1 769.7 672.5 771.8 666.9 773.8 661.2 775.7 655.5 777.5 649.7 779.3 643.9 781 638.2 782.9 632.5 784.8 626.9 786.9 621.3 789.2 615.9 791.7 610.4 794.4 605.1 797.1 599.8 800 594.5 802.9 589.3 805.8 584 808.8 578.8 811.8 573.6 814.8 568.4 817.8 563.2 820.9 558.1 824 553 827.1 547.9 830.3 542.8 833.6 537.8 836.8 532.8 840.2 527.8 843.6 522.8 847 517.9 850.5 513 854 508.2 857.6 503.4 861.3 498.7 865 493.9 868.7 489.3 872.5 484.6 876.3 480 880.2 475.4 884.1 470.9 888 466.4 892 461.9 896 457.4 900 452.9 904 448.5 908 444 912.1 439.6 916.2 435.2 920.3 430.8 924.4 426.5 928.5 422.2 932.7 417.9 936.9 413.6 941.2 409.3 945.4 405.1 949.8 401 954.2 397 958.7 393.1 963.3 389.2 967.9 385.5 972.7 381.9 977.6 378.5 982.6 375.2 987.7 372.1 992.8 369.1 998.1 366.2 1003.5 363.6 1008.9 361.1 1014.4 358.8 1019.9 356.6 1025.6 354.6 1031.3 352.8 1037 351.2 1042.8 349.7 1048.6 348.3 1054.5 347.1 1060.4 346 1066.3 345 1072.3 344.1 1078.2 343.2 1084.2 342.5 1090.2 341.8 1096.1 341.3 1102.1 340.7 1108.1 340.3 1114.1 339.9 1120 339.5 1126 339.2 1132 339 1138 338.7 1144 338.4 1150 338.1 1156 337.9 1162 337.7 1168 337.5 1174 337.3 1180 337.2zM1098.9 1141.6 1103.9 1145.2 1108.8 1148.7 1113.8 1152.2 1118.9 1155.5 1124 1158.7 1129.3 1161.8 1134.6 1164.6 1140.1 1167.2 1145.8 1169.3 1151.6 1171.1 1157.5 1172.7 1163.4 1173.9 1169.5 1174.8 1175.6 1175.5 1181.8 1175.9 1187.9 1176.1 1194.1 1176 1200.3 1175.7 1206.5 1175.2 1212.6 1174.5 1218.7 1173.6 1224.7 1172.5 1230.7 1171.2 1236.6 1169.7 1242.5 1168 1248.3 1166.1 1254 1164.1 1259.6 1161.8 1265.2 1159.4 1270.7 1156.8 1276.1 1153.9 1281.4 1151 1286.6 1147.8 1291.7 1144.5 1296.7 1141 1301.6 1137.4 1306.4 1133.6 1311 1129.7 1315.6 1125.6 1320 1121.5 1324.3 1117.2 1328.5 1112.8 1332.6 1108.3 1336.6 1103.8 1340.4 1099.1 1344.3 1094.5 1348 1089.7 1351.7 1085 1355.4 1080.2 1359 1075.4 1362.6 1070.6 1366.2 1065.7 1369.8 1060.9 1373.3 1056 1376.8 1051.1 1380.3 1046.1 1383.7 1041.2 1387.1 1036.2 1390.4 1031.1 1393.6 1026.1 1396.9 1021 1400 1015.8 1403.1 1010.7 1406.2 1005.5 1409.2 1000.3 1412.2 995 1415.1 989.7 1418 984.4 1420.9 979.1 1423.7 973.8 1426.4 968.5 1429.2 963.1 1431.9 957.7 1434.6 952.3 1437.2 946.9 1439.9 941.5 1442.5 936.1 1445.2 930.7 1447.8 925.3 1450.5 919.9 1453.1 914.6 1455.8 909.2 1458.4 903.8 1461 898.3 1463.7 892.9 1466.2 887.5 1468.8 882 1471.2 876.5 1473.7 871 1476 865.4 1478.3 859.8 1480.6 854.2 1482.7 848.5 1484.7 842.8 1486.6 837 1488.4 831.3 1490 825.4 1491.5 819.6 1492.9 813.7 1494.1 807.7 1495.2 801.8 1496.2 795.8 1497.1 789.9 1498 783.9 1499 777.9 1499.9 772 1500.7 765.9 1501.3 759.9 1501.8 753.8 1502 747.7 1501.8 741.6 1501.4 735.6 1500.7 729.5 1499.7 723.5 1498.6 717.5 1497.2 711.5 1495.7 705.6 1494.1 699.7 1492.4 693.8 1490.6 688 1488.7 682.2 1486.8 676.4 1484.9 670.6 1482.9 664.9 1480.8 659.2 1478.7 653.5 1476.5 647.9 1474.2 642.3 1471.8 636.8 1469.3 631.3 1466.7 625.8 1464 620.4 1461.2 615.1 1458.3 609.8 1455.3 604.6 1452.2 599.4 1449.1 594.2 1445.9 589 1442.7 583.9 1439.5 578.8 1436.2 573.7 1433 568.6 1429.7 563.6 1426.5 558.5 1423.2 553.4 1419.9 548.4 1416.6 543.4 1413.2 538.4 1409.8 533.4 1406.4 528.4 1402.9 523.5 1399.3 518.6 1395.7 513.8 1392 509 1388.3 504.3 1384.6 499.5 1380.8 494.9 1377 490.2 1373.1 485.6 1369.2 480.9 1365.3 476.3 1361.4 471.8 1357.4 467.2 1353.5 462.7 1349.5 458.2 1345.4 453.7 1341.3 449.2 1337.2 444.8 1333 440.5 1328.8 436.2 1324.5 431.9 1320.1 427.7 1315.6 423.6 1311.1 419.6 1306.5 415.6 1301.9 411.7 1297.2 407.9 1292.4 404.2 1287.5 400.6 1282.6 397 1277.6 393.5 1272.6 390.2 1267.5 386.9 1262.3 383.7 1257.1 380.6 1251.8 377.7 1246.4 374.8 1241 372.1 1235.5 369.5 1229.9 367 1224.3 364.6 1218.7 362.4 1212.9 360.3 1207.2 358.4 1201.3 356.6 1195.4 354.9 1189.5 353.3 1183.6 351.9 1177.6 350.6 1171.6 349.4 1165.5 348.4 1159.4 347.5 1153.3 346.7 1147.2 346.1 1141.1 345.6 1135 345.2 1128.8 344.9 1122.7 344.7 1116.5 344.7 1110.4 344.8 1104.2 345.1 1098.1 345.4 1092 345.9 1085.9 346.5 1079.8 347.2 1073.8 348.1 1067.8 349 1061.8 350.2 1055.8 351.4 1049.9 352.9 1044 354.5 1038.2 356.3 1032.5 358.2 1026.8 360.4 1021.2 362.8 1015.6 365.3 1010.2 368 1004.8 370.9 999.5 373.9 994.3 377.1 989.1 380.4 984.1 383.8 979.1 387.3 974.2 390.9 969.4 394.6 964.7 398.4 960 402.3 955.4 406.3 950.9 410.3 946.5 414.5 942.2 418.7 937.9 423 933.8 427.4 929.7 431.9 925.7 436.4 921.7 441 917.9 445.7 914.1 450.3 910.3 455.1 906.6 459.8 902.9 464.6 899.3 469.4 895.7 474.3 892.1 479.1 888.6 484 885.1 488.9 881.6 493.8 878.2 498.8 874.8 503.8 871.4 508.7 868.1 513.8 864.7 518.8 861.5 523.9 858.3 529 855.1 534.2 852 539.4 849 544.6 846.1 549.9 843.2 555.2 840.4 560.6 837.8 566 835.2 571.5 832.8 577.1 830.4 582.6 828 588.1 825.5 593.6 823.1 599.1 820.6 604.5 817.9 609.8 815.2 615.1 812.3 620.3 809.2 625.4 806 630.4 802.6 635.4 799.3 640.4 796 645.5 792.8 650.6 789.7 655.8 786.9 661.2 784.2 666.6 781.6 672.1 779.2 677.7 777 683.3 774.8 689 772.8 694.7 770.9 700.5 769 706.2 767.1 712 765.4 717.8 763.8 723.6 762.2 729.4 760.6 735.2 759.1 741 757.6 746.8 756.1 752.7 754.6 758.5 753.2 764.3 754.2 764.6 756 758.9 757.7 753.1 759.5 747.4 761.4 741.7 763.2 736 765 730.2 766.9 724.5 768.8 718.8 770.6 713.1 772.5 707.3 774.3 701.6 776.3 695.9 778.3 690.3 780.5 684.7 782.7 679.1 785.1 673.6 787.6 668.2 790.2 662.9 793.1 657.7 796.1 652.6 799.3 647.6 802.5 642.5 805.9 637.5 809.2 632.5 812.5 627.4 815.7 622.3 818.7 617 821.5 611.6 824.2 606.2 826.7 600.7 829.2 595.2 831.7 589.7 834.1 584.2 836.5 578.7 839 573.2 841.5 567.8 844.1 562.4 846.9 557.1 849.7 551.9 852.6 546.6 855.6 541.5 858.7 536.3 861.8 531.2 865 526.2 868.3 521.1 871.6 516.1 874.9 511.1 878.3 506.2 881.7 501.2 885.1 496.3 888.6 491.4 892.1 486.5 895.6 481.7 899.2 476.9 902.8 472.1 906.4 467.3 910.1 462.5 913.8 457.8 917.5 453.1 921.3 448.5 925.2 443.9 929.1 439.4 933 434.9 937.1 430.5 941.2 426.2 945.4 422 949.7 417.8 954.1 413.7 958.5 409.7 963 405.8 967.6 402 972.3 398.3 977 394.6 981.8 391.1 986.7 387.6 991.7 384.3 996.8 381.1 1001.9 378 1007.1 375.1 1012.4 372.3 1017.7 369.7 1023.1 367.2 1028.6 364.9 1034.1 362.8 1039.7 360.9 1045.4 359.2 1051.1 357.6 1056.9 356.2 1062.7 355 1068.6 353.9 1074.5 353 1080.5 352.1 1086.4 351.4 1092.4 350.9 1098.4 350.4 1104.5 350 1110.5 349.8 1116.6 349.7 1122.6 349.7 1128.6 349.9 1134.7 350.2 1140.7 350.5 1146.7 351.1 1152.8 351.7 1158.7 352.5 1164.7 353.3 1170.7 354.4 1176.6 355.5 1182.5 356.8 1188.3 358.2 1194.1 359.7 1199.9 361.4 1205.6 363.1 1211.3 365.1 1216.9 367.1 1222.5 369.3 1228 371.6 1233.4 374 1238.8 376.6 1244.1 379.3 1249.4 382.1 1254.6 385 1259.7 388 1264.8 391.1 1269.9 394.3 1274.8 397.7 1279.7 401.1 1284.6 404.6 1289.3 408.2 1294.1 411.8 1298.7 415.6 1303.3 419.4 1307.8 423.3 1312.3 427.3 1316.7 431.4 1321 435.5 1325.2 439.7 1329.4 444 1333.6 448.3 1337.7 452.6 1341.7 457 1345.7 461.5 1349.7 466 1353.7 470.5 1357.6 475 1361.5 479.6 1365.4 484.2 1369.3 488.8 1373.1 493.4 1376.9 498 1380.7 502.7 1384.4 507.4 1388.1 512.1 1391.7 516.8 1395.3 521.6 1398.8 526.4 1402.3 531.3 1405.7 536.2 1409.1 541.2 1412.4 546.1 1415.7 551.1 1419 556.2 1422.3 561.2 1425.5 566.3 1428.8 571.3 1432 576.4 1435.3 581.5 1438.5 586.6 1441.7 591.7 1444.8 596.8 1447.9 601.9 1451 607.1 1453.9 612.3 1456.8 617.5 1459.6 622.7 1462.2 628 1464.8 633.4 1467.2 638.8 1469.6 644.3 1471.8 649.8 1474 655.3 1476.1 660.9 1478.2 666.6 1480.1 672.2 1482.1 678 1483.9 683.7 1485.8 689.5 1487.6 695.3 1489.3 701.1 1490.9 706.9 1492.4 712.7 1493.8 718.5 1494.9 724.4 1495.9 730.2 1496.6 736 1497.1 741.9 1497.2 747.7 1497.1 753.6 1496.8 759.5 1496.2 765.4 1495.5 771.4 1494.7 777.3 1493.8 783.3 1492.9 789.3 1492.1 795.2 1491.1 801.1 1490.1 807 1489 812.9 1487.8 818.7 1486.4 824.5 1484.8 830.2 1483.1 835.9 1481.2 841.6 1479.3 847.3 1477.2 852.9 1475 858.5 1472.7 864 1470.4 869.6 1468 875 1465.5 880.5 1463 885.9 1460.4 891.4 1457.8 896.8 1455.2 902.2 1452.5 907.6 1449.9 913 1447.2 918.4 1444.6 923.8 1441.9 929.2 1439.3 934.6 1436.7 939.9 1434 945.3 1431.3 950.7 1428.7 956.1 1426 961.5 1423.2 966.8 1420.5 972.1 1417.7 977.4 1414.8 982.7 1412 988 1409.1 993.2 1406.1 998.5 1403.1 1003.7 1400 1008.8 1396.9 1014 1393.8 1019.1 1390.6 1024.1 1387.4 1029.2 1384.1 1034.2 1380.7 1039.1 1377.3 1044.1 1373.9 1049 1370.4 1053.9 1366.9 1058.7 1363.3 1063.6 1359.8 1068.4 1356.2 1073.2 1352.5 1078 1348.9 1082.8 1345.2 1087.5 1341.5 1092.2 1337.7 1096.9 1333.8 1101.4 1329.9 1105.9 1325.9 1110.3 1321.8 1114.7 1317.5 1118.9 1313.2 1123 1308.7 1127 1304.1 1130.8 1299.4 1134.5 1294.6 1138.1 1289.7 1141.5 1284.7 1144.8 1279.6 1147.9 1274.4 1150.8 1269.1 1153.5 1263.7 1156.1 1258.2 1158.5 1252.7 1160.7 1247.1 1162.7 1241.4 1164.6 1235.7 1166.2 1229.9 1167.7 1224 1168.9 1218.1 1170 1212.1 1170.9 1206.1 1171.6 1200.1 1172.1 1194 1172.4 1188 1172.5 1181.9 1172.3 1175.9 1171.9 1170 1171.2 1164.1 1170.3 1158.3 1169.1 1152.5 1167.7 1146.9 1165.9 1141.5 1163.8 1136 1161.6 1130.7 1159.1 1125.4 1156.4 1120.1 1153.5 1114.9 1150.5 1109.8 1147.3 1104.6 1144 1099.5 1140.7zM1079.6 1080.7 1083.6 1085.2 1087.5 1089.8 1091.5 1094.3 1095.6 1098.7 1099.8 1103.1 1104.1 1107.3 1108.6 1111.5 1113.2 1115.4 1118.1 1119.2 1123.1 1122.7 1128.3 1126 1133.6 1129 1139.1 1131.8 1144.7 1134.4 1150.4 1136.6 1156.2 1138.6 1162.1 1140.2 1168.1 1141.6 1174.1 1142.6 1180.2 1143.2 1186.3 1143.6 1192.5 1143.8 1198.6 1143.6 1204.7 1143.2 1210.8 1142.6 1216.8 1141.7 1222.8 1140.6 1228.8 1139.2 1234.7 1137.7 1240.5 1136 1246.3 1134 1252 1131.9 1257.6 1129.6 1263.2 1127.1 1268.7 1124.5 1274.1 1121.6 1279.4 1118.7 1284.6 1115.5 1289.7 1112.3 1294.8 1108.8 1299.7 1105.2 1304.5 1101.5 1309.1 1097.6 1313.7 1093.6 1318.1 1089.5 1322.5 1085.3 1326.7 1081 1330.9 1076.5 1334.9 1072 1338.9 1067.5 1342.8 1062.8 1346.6 1058.1 1350.4 1053.4 1354.1 1048.6 1357.8 1043.8 1361.4 1039 1365 1034.1 1368.5 1029.1 1371.9 1024.2 1375.3 1019.1 1378.5 1014.1 1381.7 1008.9 1384.8 1003.7 1387.7 998.5 1390.7 993.2 1393.5 987.9 1396.3 982.5 1399.1 977.2 1401.8 971.8 1404.5 966.5 1407.3 961.1 1410.1 955.8 1412.9 950.5 1415.8 945.2 1418.6 939.9 1421.5 934.6 1424.4 929.3 1427.2 924 1430 918.7 1432.8 913.3 1435.5 908 1438.2 902.6 1440.9 897.3 1443.5 891.9 1446.1 886.4 1448.6 881 1451.2 875.5 1453.7 870 1456.2 864.5 1458.6 859 1461.1 853.4 1463.6 847.7 1465.9 842.1 1468.3 836.4 1470.5 830.6 1472.6 824.9 1474.5 819 1476.2 813.2 1477.8 807.3 1479.1 801.3 1480.1 795.4 1480.8 789.3 1481.2 783.3 1481.3 777.2 1481 771.1 1480.5 765 1479.7 758.9 1478.8 752.8 1477.8 746.8 1476.7 740.9 1475.5 734.9 1474.2 729 1472.9 723.1 1471.5 717.3 1470 711.4 1468.5 705.6 1466.9 699.7 1465.2 693.9 1463.6 688.1 1461.8 682.3 1460 676.6 1458.1 670.8 1456.1 665.1 1454.1 659.4 1452 653.7 1449.8 648.1 1447.4 642.5 1445 636.9 1442.5 631.4 1439.9 625.9 1437.3 620.5 1434.5 615.1 1431.6 609.7 1428.7 604.4 1425.7 599.2 1422.7 593.9 1419.6 588.7 1416.5 583.6 1413.3 578.4 1410.1 573.3 1406.9 568.2 1403.6 563.2 1400.3 558.1 1396.9 553.1 1393.5 548.1 1390.1 543.2 1386.6 538.2 1383.1 533.3 1379.5 528.4 1375.9 523.6 1372.3 518.8 1368.6 514 1364.9 509.2 1361.2 504.5 1357.4 499.8 1353.5 495.1 1349.6 490.5 1345.6 485.9 1341.6 481.4 1337.5 476.9 1333.4 472.5 1329.2 468.1 1324.9 463.8 1320.6 459.6 1316.2 455.4 1311.8 451.2 1307.3 447.2 1302.8 443.2 1298.1 439.3 1293.5 435.4 1288.7 431.6 1283.9 427.9 1279.1 424.3 1274.2 420.8 1269.2 417.4 1264.1 414 1259 410.7 1253.9 407.5 1248.6 404.5 1243.3 401.5 1238 398.6 1232.5 395.8 1227 393.1 1221.4 390.4 1215.8 388 1210.1 385.6 1204.4 383.3 1198.6 381.1 1192.8 379.1 1186.9 377.1 1180.9 375.3 1175 373.6 1169 372 1163 370.6 1156.9 369.2 1150.8 368 1144.7 367 1138.6 366 1132.5 365.2 1126.3 364.6 1120.2 364.1 1114 363.7 1107.9 363.5 1101.7 363.4 1095.6 363.5 1089.4 363.7 1083.3 364.1 1077.2 364.6 1071.1 365.3 1065 366.2 1058.9 367.2 1052.9 368.4 1046.9 369.8 1041 371.3 1035.1 373.1 1029.4 375.1 1023.7 377.3 1018 379.7 1012.5 382.3 1007.2 385.2 1001.9 388.3 996.7 391.5 991.7 395 986.7 398.6 981.9 402.3 977.1 406.2 972.5 410.2 967.9 414.2 963.4 418.4 959 422.6 954.7 426.9 950.5 431.3 946.3 435.7 942.2 440.1 938.2 444.6 934.2 449.2 930.4 453.9 926.6 458.6 922.9 463.4 919.2 468.2 915.7 473.1 912.2 478 908.8 483 905.4 488 902.1 493.1 898.9 498.3 895.8 503.4 892.7 508.6 889.6 513.8 886.6 519.1 883.7 524.4 880.7 529.7 877.9 535 875.1 540.3 872.3 545.7 869.6 551.1 867 556.5 864.4 562 861.8 567.5 859.4 573 857 578.5 854.6 584.1 852.4 589.7 850.1 595.3 848 600.9 845.8 606.5 843.7 612.2 841.6 617.8 839.5 623.4 837.3 629.1 835.2 634.7 833.1 640.3 830.9 645.9 828.7 651.5 826.5 657.1 824.3 662.7 822 668.2 819.8 673.8 817.5 679.4 815.2 684.9 812.9 690.5 810.6 696.1 808.3 701.6 806.1 707.2 803.8 712.8 801.6 718.4 799.6 724.1 797.7 729.8 795.8 735.5 793.9 741.3 792.1 747 790.3 752.7 788.5 758.5 786.7 764.3 787.9 764.6 790 759 792.1 753.4 794.2 747.8 796.4 742.1 798.6 736.6 800.9 731 803.2 725.5 805.5 719.9 807.7 714.4 810 708.8 812.2 703.2 814.5 697.7 816.8 692.1 819.1 686.5 821.4 681 823.7 675.4 826 669.8 828.3 664.3 830.5 658.7 832.8 653.1 835 647.5 837.2 641.9 839.3 636.3 841.5 630.6 843.6 625 845.7 619.4 847.8 613.7 850 608.1 852.1 602.5 854.3 596.9 856.5 591.4 858.8 585.8 861.1 580.3 863.5 574.8 866 569.4 868.5 563.9 871.1 558.5 873.7 553.1 876.4 547.8 879.2 542.5 882 537.2 884.8 531.9 887.7 526.6 890.7 521.4 893.7 516.2 896.7 511 899.8 505.9 902.9 500.7 906.1 495.7 909.4 490.6 912.7 485.7 916.1 480.7 919.5 475.9 923.1 471 926.7 466.3 930.3 461.6 934.1 456.9 937.9 452.4 941.8 447.9 945.8 443.4 949.9 439 954 434.7 958.2 430.4 962.5 426.2 966.8 422 971.3 417.9 975.8 413.9 980.3 410 985 406.2 989.7 402.6 994.6 399.1 999.5 395.7 1004.5 392.6 1009.6 389.6 1014.8 386.8 1020.1 384.3 1025.6 382 1031.1 379.9 1036.7 378 1042.4 376.3 1048.2 374.8 1054 373.4 1059.9 372.3 1065.8 371.3 1071.7 370.4 1077.7 369.7 1083.7 369.2 1089.7 368.9 1095.7 368.6 1101.7 368.6 1107.7 368.7 1113.8 368.9 1119.8 369.2 1125.8 369.7 1131.9 370.4 1137.9 371.2 1143.9 372.1 1149.9 373.1 1155.8 374.3 1161.8 375.6 1167.7 377.1 1173.6 378.6 1179.5 380.3 1185.3 382.1 1191.1 384 1196.8 386 1202.5 388.1 1208.2 390.4 1213.8 392.7 1219.3 395.2 1224.8 397.7 1230.2 400.4 1235.5 403.2 1240.8 406 1246 409 1251.2 412 1256.3 415.1 1261.3 418.4 1266.3 421.7 1271.2 425.1 1276 428.5 1280.8 432.1 1285.5 435.7 1290.2 439.5 1294.8 443.3 1299.4 447.1 1303.9 451.1 1308.3 455.1 1312.7 459.2 1317 463.3 1321.3 467.5 1325.5 471.8 1329.6 476.1 1333.7 480.5 1337.7 484.9 1341.7 489.4 1345.6 493.9 1349.5 498.5 1353.3 503.1 1357.1 507.7 1360.8 512.4 1364.5 517.1 1368.2 521.9 1371.8 526.7 1375.3 531.5 1378.9 536.4 1382.3 541.2 1385.8 546.1 1389.2 551.1 1392.6 556 1395.9 561 1399.2 566 1402.5 571 1405.7 576.1 1408.9 581.2 1412.1 586.3 1415.2 591.4 1418.2 596.6 1421.2 601.8 1424.2 607 1427.1 612.2 1429.9 617.5 1432.6 622.8 1435.3 628.2 1437.8 633.6 1440.3 639 1442.7 644.5 1444.9 650 1447.1 655.6 1449.2 661.2 1451.2 666.8 1453.2 672.5 1455 678.2 1456.8 683.9 1458.6 689.6 1460.3 695.4 1461.9 701.1 1463.5 706.9 1465 712.7 1466.5 718.5 1467.9 724.3 1469.3 730.1 1470.6 736 1471.8 741.8 1473 747.7 1474.1 753.6 1475 759.6 1475.8 765.5 1476.4 771.4 1476.7 777.3 1476.8 783.1 1476.5 789 1475.9 794.8 1475 800.6 1473.8 806.4 1472.4 812.1 1470.8 817.9 1468.9 823.6 1466.9 829.3 1464.8 835 1462.5 840.7 1460.2 846.3 1457.8 851.9 1455.4 857.5 1453 863.1 1450.5 868.6 1448 874.1 1445.5 879.5 1443 885 1440.4 890.4 1437.8 895.8 1435.2 901.1 1432.5 906.5 1429.8 911.8 1427 917.1 1424.2 922.4 1421.4 927.7 1418.5 933 1415.6 938.3 1412.8 943.6 1409.9 948.9 1407.1 954.2 1404.3 959.6 1401.5 964.9 1398.8 970.3 1396 975.6 1393.3 981 1390.5 986.3 1387.7 991.6 1384.8 996.8 1381.8 1002 1378.8 1007.2 1375.7 1012.2 1372.4 1017.3 1369.1 1022.3 1365.7 1027.2 1362.2 1032.1 1358.7 1036.9 1355.1 1041.8 1351.5 1046.5 1347.8 1051.3 1344 1056 1340.2 1060.7 1336.3 1065.3 1332.4 1069.8 1328.4 1074.2 1324.3 1078.6 1320.1 1082.9 1315.8 1087.1 1311.4 1091.1 1306.9 1095.1 1302.3 1098.9 1297.6 1102.5 1292.8 1106 1287.9 1109.4 1282.8 1112.7 1277.7 1115.7 1272.5 1118.7 1267.2 1121.4 1261.8 1124 1256.3 1126.5 1250.8 1128.7 1245.1 1130.8 1239.5 1132.7 1233.8 1134.4 1228 1135.9 1222.2 1137.2 1216.3 1138.3 1210.4 1139.2 1204.4 1139.8 1198.4 1140.2 1192.5 1140.4 1186.5 1140.2 1180.5 1139.9 1174.6 1139.2 1168.7 1138.2 1162.9 1136.9 1157.2 1135.4 1151.6 1133.5 1146 1131.3 1140.6 1128.8 1135.3 1126 1130.1 1123 1125 1119.8 1120.1 1116.4 1115.3 1112.8 1110.6 1109.1 1106 1105.3 1101.6 1101.3 1097.2 1097.1 1092.9 1092.9 1088.7 1088.7 1084.5 1084.3 1080.4 1080zM1079.7 1035.8 1084.1 1039.9 1088.6 1044 1093.1 1048 1097.7 1051.9 1102.4 1055.7 1107.2 1059.3 1112.2 1062.8 1117.4 1066.1 1122.7 1069.1 1128.2 1071.8 1133.9 1074.2 1139.6 1076.4 1145.4 1078.3 1151.3 1080 1157.3 1081.3 1163.3 1082.3 1169.3 1083.1 1175.4 1083.5 1181.5 1083.7 1187.6 1083.6 1193.7 1083.3 1199.7 1082.8 1205.8 1082.1 1211.9 1081.3 1217.9 1080.3 1223.9 1079.1 1229.8 1077.8 1235.7 1076.3 1241.5 1074.6 1247.3 1072.6 1253 1070.5 1258.5 1068.1 1264 1065.5 1269.4 1062.6 1274.6 1059.5 1279.7 1056.3 1284.8 1052.9 1289.7 1049.3 1294.6 1045.6 1299.3 1041.7 1303.9 1037.7 1308.4 1033.7 1312.9 1029.5 1317.2 1025.2 1321.4 1020.8 1325.5 1016.3 1329.4 1011.7 1333.2 1006.9 1336.8 1002.1 1340.2 997.1 1343.5 992.1 1346.6 986.9 1349.6 981.6 1352.5 976.3 1355.2 970.9 1357.9 965.5 1360.5 960 1363.1 954.5 1365.6 949 1368.1 943.5 1370.5 938 1373 932.5 1375.5 927 1378 921.5 1380.5 916 1383 910.6 1385.6 905.2 1388.2 899.8 1390.8 894.5 1393.5 889.2 1396.3 883.9 1399.1 878.7 1402.1 873.5 1405.2 868.4 1408.5 863.4 1411.9 858.4 1415.4 853.5 1419.2 848.6 1423.1 843.8 1427.2 839 1431.3 834.3 1435.5 829.5 1439.6 824.8 1443.7 820 1447.6 815.2 1451.3 810.3 1454.7 805.3 1457.8 800.2 1460.6 795 1462.9 789.6 1464.7 784.1 1466 778.5 1466.7 772.7 1467 766.8 1466.8 760.9 1466.3 754.8 1465.3 748.8 1464.1 742.6 1462.6 736.5 1460.9 730.4 1459 724.2 1457 718.1 1454.9 712 1452.8 706 1450.7 700 1448.6 694.1 1446.5 688.3 1444.5 682.5 1442.4 676.8 1440.4 671.1 1438.3 665.5 1436.2 659.9 1434.1 654.3 1431.9 648.8 1429.7 643.3 1427.4 637.8 1425 632.3 1422.5 626.9 1420 621.4 1417.3 616 1414.6 610.6 1411.8 605.3 1409 599.9 1406 594.6 1403 589.3 1400 584.1 1396.8 578.9 1393.7 573.7 1390.4 568.6 1387.1 563.5 1383.8 558.5 1380.4 553.5 1376.9 548.5 1373.4 543.6 1369.8 538.7 1366.2 533.9 1362.5 529.1 1358.7 524.4 1354.9 519.7 1351 515.1 1347.1 510.5 1343.1 506 1339 501.5 1334.9 497 1330.8 492.6 1326.5 488.3 1322.3 484 1317.9 479.8 1313.5 475.6 1309.1 471.5 1304.6 467.4 1300 463.4 1295.4 459.5 1290.8 455.6 1286 451.8 1281.2 448.1 1276.4 444.5 1271.5 440.9 1266.5 437.5 1261.5 434.1 1256.4 430.9 1251.3 427.7 1246.1 424.7 1240.8 421.7 1235.4 418.9 1230 416.1 1224.6 413.5 1219 410.9 1213.4 408.5 1207.7 406.1 1201.9 403.9 1196.1 401.8 1190.2 399.8 1184.2 397.9 1178.2 396.1 1172.2 394.5 1166.1 393 1160 391.6 1153.8 390.4 1147.6 389.4 1141.5 388.5 1135.3 387.8 1129.1 387.2 1122.9 386.9 1116.7 386.7 1110.5 386.7 1104.3 386.9 1098.2 387.3 1092.1 387.9 1086 388.7 1080 389.7 1074.1 391 1068.1 392.5 1062.3 394.2 1056.5 396.2 1050.8 398.4 1045.2 400.8 1039.7 403.4 1034.2 406.1 1028.8 409.1 1023.6 412.2 1018.4 415.4 1013.3 418.8 1008.3 422.3 1003.3 425.8 998.5 429.5 993.8 433.3 989.1 437.2 984.5 441.2 980 445.3 975.6 449.5 971.3 453.7 967.1 458.1 962.9 462.5 958.9 467 954.9 471.5 951 476.2 947.2 480.9 943.4 485.6 939.7 490.4 936.1 495.3 932.6 500.2 929.1 505.2 925.8 510.2 922.5 515.3 919.2 520.4 916 525.5 912.9 530.7 909.9 535.9 906.9 541.2 903.9 546.4 901 551.8 898.2 557.1 895.4 562.5 892.7 567.9 890 573.3 887.4 578.7 884.9 584.2 882.4 589.7 879.9 595.2 877.5 600.8 875.2 606.4 873 612 870.9 617.6 868.8 623.3 866.8 629 864.9 634.7 863.1 640.5 861.3 646.3 859.5 652 857.9 657.8 856.3 663.7 854.7 669.5 853.1 675.3 851.6 681.2 850.1 687 848.7 692.9 847.3 698.7 845.9 704.6 844.6 710.5 843.3 716.4 842.3 722.4 841.4 728.4 840.6 734.4 839.9 740.4 839.2 746.4 838.7 752.4 838.3 758.4 837.9 764.4 839.2 764.5 839.9 758.5 840.7 752.6 841.5 746.6 842.5 740.7 843.6 734.8 844.8 729 846 723.1 847.4 717.3 848.6 711.4 850 705.6 851.3 699.7 852.7 693.9 854.2 688 855.7 682.2 857.2 676.4 858.7 670.6 860.3 664.8 862 659 863.6 653.2 865.3 647.5 867.1 641.8 869 636.1 870.9 630.4 872.9 624.8 874.9 619.1 877 613.6 879.3 608 881.5 602.5 883.9 597 886.3 591.5 888.8 586 891.4 580.6 894 575.2 896.6 569.8 899.3 564.5 902.1 559.1 904.9 553.8 907.8 548.6 910.7 543.3 913.7 538.1 916.7 533 919.8 527.9 923 522.8 926.2 517.7 929.5 512.7 932.9 507.8 936.3 502.8 939.8 498 943.4 493.2 947 488.4 950.7 483.7 954.5 479.1 958.4 474.5 962.3 470 966.3 465.6 970.4 461.3 974.6 457 978.8 452.8 983.2 448.7 987.6 444.7 992.1 440.8 996.7 436.9 1001.4 433.2 1006.1 429.6 1011 426.1 1015.9 422.7 1020.9 419.4 1026 416.2 1031.2 413.2 1036.4 410.3 1041.8 407.6 1047.1 405.1 1052.6 402.8 1058.1 400.7 1063.7 398.8 1069.4 397.1 1075.1 395.7 1080.9 394.5 1086.8 393.4 1092.7 392.7 1098.6 392.1 1104.6 391.7 1110.6 391.5 1116.6 391.5 1122.6 391.7 1128.7 392 1134.8 392.6 1140.8 393.3 1146.9 394.1 1153 395.2 1159 396.3 1165 397.7 1171 399.1 1176.9 400.7 1182.8 402.5 1188.7 404.3 1194.5 406.3 1200.2 408.4 1205.9 410.6 1211.5 412.9 1217 415.3 1222.5 417.8 1227.9 420.4 1233.2 423.1 1238.5 425.9 1243.7 428.8 1248.8 431.9 1253.9 435 1258.9 438.2 1263.8 441.5 1268.7 444.9 1273.6 448.4 1278.3 451.9 1283.1 455.6 1287.7 459.3 1292.3 463.2 1296.9 467.1 1301.4 471 1305.9 475 1310.3 479.1 1314.6 483.3 1318.9 487.4 1323.1 491.7 1327.3 496 1331.4 500.3 1335.5 504.7 1339.5 509.2 1343.5 513.7 1347.4 518.2 1351.2 522.8 1355 527.4 1358.7 532.1 1362.3 536.8 1366 541.6 1369.5 546.4 1373 551.3 1376.4 556.2 1379.8 561.1 1383.1 566.1 1386.4 571.2 1389.6 576.2 1392.7 581.4 1395.8 586.5 1398.9 591.7 1401.8 597 1404.8 602.2 1407.6 607.5 1410.4 612.8 1413 618.2 1415.7 623.5 1418.2 628.9 1420.6 634.3 1423 639.7 1425.3 645.1 1427.5 650.6 1429.6 656.1 1431.7 661.6 1433.8 667.1 1435.9 672.7 1438 678.4 1440 684.1 1442.1 689.8 1444.2 695.7 1446.3 701.6 1448.5 707.5 1450.6 713.5 1452.7 719.5 1454.8 725.6 1456.7 731.6 1458.4 737.6 1459.9 743.6 1461.1 749.5 1462.1 755.4 1462.7 761.2 1462.9 766.8 1462.7 772.4 1462.1 777.8 1461 783.1 1459.3 788.3 1457.2 793.4 1454.6 798.4 1451.7 803.3 1448.4 808.2 1444.8 813 1441 817.8 1437 822.6 1433 827.4 1428.8 832.1 1424.7 836.9 1420.6 841.8 1416.7 846.6 1412.9 851.6 1409.3 856.6 1405.9 861.7 1402.6 866.8 1399.5 872 1396.5 877.2 1393.6 882.5 1390.8 887.8 1388.1 893.1 1385.5 898.5 1382.8 903.9 1380.3 909.3 1377.7 914.8 1375.2 920.2 1372.7 925.7 1370.3 931.2 1367.8 936.8 1365.3 942.3 1362.9 947.8 1360.4 953.3 1357.8 958.8 1355.2 964.2 1352.6 969.6 1349.8 974.9 1347 980.2 1344 985.4 1340.9 990.5 1337.7 995.5 1334.3 1000.3 1330.8 1005.1 1327.1 1009.8 1323.2 1014.3 1319.2 1018.7 1315.1 1023.1 1310.8 1027.3 1306.4 1031.4 1301.9 1035.5 1297.4 1039.4 1292.7 1043.2 1287.9 1046.9 1283.1 1050.4 1278.1 1053.8 1273 1057 1267.9 1060 1262.6 1062.8 1257.3 1065.4 1251.8 1067.7 1246.3 1069.8 1240.6 1071.7 1234.9 1073.4 1229.1 1074.9 1223.3 1076.2 1217.4 1077.3 1211.4 1078.3 1205.4 1079.1 1199.5 1079.8 1193.5 1080.3 1187.5 1080.6 1181.5 1080.7 1175.5 1080.5 1169.6 1080.1 1163.7 1079.4 1157.8 1078.4 1152 1077.1 1146.3 1075.5 1140.6 1073.6 1135 1071.4 1129.5 1069 1124.1 1066.4 1118.9 1063.5 1113.7 1060.5 1108.6 1057.3 1103.7 1053.9 1098.9 1050.4 1094.2 1046.7 1089.5 1042.9 1084.9 1039 1080.3 1035.1zM1185.7 1027.8 1191.7 1028.1 1197.8 1028.2 1203.8 1028.3 1209.9 1028.2 1215.9 1027.9 1221.9 1027.3 1227.9 1026.4 1233.8 1025.1 1239.7 1023.5 1245.5 1021.5 1251.2 1019.3 1256.8 1016.8 1262.2 1014 1267.6 1011 1272.8 1007.8 1277.9 1004.3 1282.8 1000.7 1287.6 996.8 1292.1 992.8 1296.5 988.5 1300.6 984.1 1304.5 979.5 1308.2 974.7 1311.6 969.7 1314.9 964.6 1317.9 959.4 1320.9 954.1 1323.7 948.7 1326.4 943.3 1329 937.8 1331.7 932.4 1334.3 926.9 1337 921.5 1339.6 916.1 1342.3 910.8 1345 905.4 1347.7 900 1350.4 894.7 1353.1 889.3 1355.8 884 1358.4 878.6 1361.1 873.3 1363.8 868 1366.7 862.7 1369.6 857.5 1372.7 852.3 1375.9 847.2 1379.3 842.1 1382.9 837.1 1386.7 832.1 1390.5 827.2 1394.4 822.2 1398.3 817.3 1402.3 812.4 1406.1 807.4 1410 802.4 1413.7 797.4 1417.2 792.4 1420.6 787.3 1423.7 782.1 1426.6 776.9 1429.2 771.5 1431.5 766 1433.4 760.5 1434.8 754.8 1435.9 749 1436.5 743 1436.6 737 1436.3 730.9 1435.7 724.8 1434.9 718.7 1433.8 712.6 1432.6 706.5 1431.3 700.4 1429.9 694.4 1428.5 688.5 1426.9 682.6 1425.4 676.8 1423.7 671 1422 665.2 1420.1 659.5 1418.2 653.8 1416.2 648.2 1414.1 642.5 1411.8 636.9 1409.5 631.4 1407 625.8 1404.4 620.3 1401.8 614.9 1399 609.5 1396.1 604.2 1393.1 598.9 1390.1 593.6 1386.9 588.5 1383.6 583.4 1380.3 578.3 1376.8 573.3 1373.3 568.4 1369.7 563.6 1366.1 558.7 1362.4 554 1358.6 549.2 1354.8 544.6 1351 539.9 1347.1 535.3 1343.2 530.7 1339.3 526.1 1335.3 521.6 1331.3 517.1 1327.3 512.6 1323.1 508.2 1319 503.8 1314.7 499.5 1310.4 495.2 1306.1 491.1 1301.6 486.9 1297.1 482.9 1292.5 478.9 1287.9 475 1283.1 471.2 1278.3 467.5 1273.4 464 1268.5 460.5 1263.5 457.1 1258.4 453.8 1253.2 450.7 1248 447.7 1242.7 444.8 1237.3 442 1231.9 439.4 1226.4 436.8 1220.9 434.3 1215.2 431.9 1209.6 429.6 1203.8 427.4 1198 425.3 1192.2 423.3 1186.3 421.4 1180.3 419.6 1174.4 417.9 1168.3 416.4 1162.3 415 1156.2 413.7 1150.1 412.6 1144 411.7 1137.9 410.9 1131.8 410.3 1125.6 409.8 1119.5 409.6 1113.4 409.6 1107.3 409.7 1101.2 410.1 1095.2 410.7 1089.1 411.5 1083.2 412.6 1077.2 413.9 1071.3 415.5 1065.5 417.2 1059.7 419.2 1054 421.5 1048.4 423.9 1042.9 426.5 1037.4 429.3 1032.1 432.3 1026.9 435.4 1021.7 438.7 1016.7 442.1 1011.8 445.7 1007 449.5 1002.3 453.3 997.7 457.3 993.2 461.4 988.8 465.6 984.5 469.9 980.3 474.3 976.2 478.8 972.2 483.3 968.3 488 964.5 492.8 960.9 497.6 957.3 502.5 953.9 507.5 950.6 512.6 947.4 517.8 944.3 523 941.3 528.2 938.5 533.6 935.7 538.9 933 544.3 930.4 549.8 927.8 555.2 925.2 560.6 922.7 566.1 920.1 571.5 917.5 576.9 914.8 582.2 912 587.5 909.2 592.8 906.3 598.1 903.3 603.3 900.3 608.6 897.4 613.8 894.5 619.1 891.7 624.5 889.1 629.9 886.5 635.4 884.2 641 882 646.6 879.9 652.3 878 658 876.3 663.8 874.6 669.6 873 675.5 871.5 681.4 870.1 687.3 868.7 693.2 867.4 699 866 704.9 864.7 710.8 863.4 716.7 862.4 722.6 861.3 728.6 860.4 734.5 859.5 740.5 858.6 746.4 857.9 752.4 857.2 758.4 856.6 764.4 857.7 764.5 858.6 758.6 859.6 752.7 860.7 746.8 861.8 740.9 863 735 864.3 729.2 865.7 723.3 867.1 717.5 868.4 711.6 869.7 705.8 871 699.9 872.4 694 873.8 688.1 875.2 682.3 876.7 676.5 878.2 670.7 879.9 664.9 881.7 659.2 883.5 653.5 885.5 647.9 887.7 642.4 890 636.9 892.5 631.6 895.2 626.2 897.9 621 900.8 615.7 903.7 610.5 906.7 605.2 909.6 600 912.6 594.7 915.5 589.4 918.2 584 921 578.6 923.6 573.2 926.2 567.7 928.8 562.3 931.4 556.9 934 551.5 936.6 546.1 939.3 540.7 942 535.4 944.8 530.1 947.7 525 950.8 519.8 953.9 514.8 957.2 509.8 960.6 504.8 964.1 500 967.7 495.2 971.4 490.6 975.3 486 979.2 481.4 983.2 477 987.4 472.7 991.6 468.5 995.9 464.3 1000.4 460.3 1004.9 456.4 1009.5 452.7 1014.3 449 1019.1 445.5 1024 442.1 1029 438.9 1034.2 435.9 1039.4 433 1044.7 430.2 1050.1 427.7 1055.6 425.3 1061.2 423.2 1066.8 421.2 1072.5 419.5 1078.2 418 1084 416.7 1089.8 415.7 1095.7 414.9 1101.6 414.3 1107.5 413.9 1113.4 413.7 1119.4 413.8 1125.4 414 1131.4 414.4 1137.4 415 1143.4 415.8 1149.4 416.8 1155.4 417.8 1161.4 419.1 1167.3 420.5 1173.3 422 1179.2 423.6 1185 425.4 1190.9 427.3 1196.6 429.3 1202.4 431.4 1208 433.5 1213.6 435.8 1219.2 438.2 1224.7 440.6 1230.1 443.1 1235.4 445.8 1240.7 448.5 1245.9 451.4 1251.1 454.3 1256.2 457.4 1261.2 460.6 1266.1 463.9 1271 467.4 1275.8 470.9 1280.5 474.5 1285.2 478.3 1289.8 482.1 1294.3 486 1298.8 490 1303.2 494.1 1307.5 498.3 1311.8 502.5 1316 506.7 1320.1 511.1 1324.2 515.4 1328.2 519.9 1332.2 524.3 1336.1 528.9 1340 533.4 1343.9 538 1347.8 542.6 1351.6 547.2 1355.4 551.9 1359.1 556.6 1362.8 561.3 1366.4 566.1 1369.9 570.9 1373.4 575.8 1376.8 580.7 1380.1 585.6 1383.3 590.7 1386.5 595.8 1389.5 601 1392.4 606.2 1395.3 611.5 1398 616.8 1400.6 622.2 1403.2 627.6 1405.6 633 1407.9 638.5 1410.1 644.1 1412.3 649.6 1414.3 655.2 1416.2 660.8 1418 666.5 1419.7 672.2 1421.3 677.9 1422.9 683.7 1424.4 689.5 1425.8 695.4 1427.2 701.4 1428.5 707.3 1429.7 713.3 1430.8 719.3 1431.6 725.3 1432.2 731.2 1432.5 737.1 1432.4 742.8 1431.9 748.5 1431 754 1429.6 759.4 1427.9 764.7 1425.7 770 1423.3 775.2 1420.5 780.3 1417.5 785.4 1414.3 790.4 1410.9 795.4 1407.3 800.4 1403.5 805.4 1399.7 810.4 1395.9 815.4 1392 820.3 1388.1 825.3 1384.3 830.3 1380.6 835.4 1377 840.5 1373.6 845.6 1370.3 850.9 1367.2 856.1 1364.3 861.4 1361.5 866.7 1358.7 872.1 1356.1 877.5 1353.4 882.8 1350.8 888.2 1348.1 893.5 1345.4 898.9 1342.7 904.2 1340 909.6 1337.3 915 1334.6 920.4 1332 925.8 1329.3 931.3 1326.7 936.7 1324 942.1 1321.3 947.5 1318.6 952.9 1315.7 958.1 1312.7 963.3 1309.5 968.3 1306.1 973.1 1302.5 977.8 1298.7 982.4 1294.6 986.7 1290.4 990.9 1285.9 994.8 1281.2 998.6 1276.4 1002.2 1271.4 1005.6 1266.3 1008.8 1261 1011.7 1255.7 1014.4 1250.2 1016.9 1244.6 1019.1 1238.9 1021 1233.2 1022.6 1227.4 1024.1 1221.6 1025.2 1215.7 1026 1209.8 1026.5 1203.8 1026.8 1197.8 1027 1191.8 1027.1 1185.7 1027.1zM1079.9 962.1 1085.6 964.2 1091.2 966.2 1096.9 968.2 1102.6 970.2 1108.2 972.2 1113.9 974.2 1119.6 976.2 1125.3 978.2 1131 980 1136.8 981.9 1142.5 983.6 1148.3 985.3 1154.1 987 1160 988.5 1165.9 989.8 1171.8 991.1 1177.8 992.1 1183.9 993 1189.9 993.6 1196.1 994 1202.2 994.1 1208.3 993.9 1214.4 993.4 1220.4 992.6 1226.4 991.3 1232.3 989.7 1238 987.8 1243.7 985.5 1249.3 982.9 1254.7 980 1259.9 976.8 1265 973.4 1269.9 969.8 1274.7 965.9 1279.2 961.9 1283.6 957.7 1287.8 953.3 1291.9 948.7 1295.7 944 1299.4 939.2 1303 934.3 1306.3 929.2 1309.6 924.1 1312.6 918.8 1315.5 913.5 1318.2 908.1 1320.8 902.6 1323.2 897.1 1325.5 891.5 1327.6 885.8 1329.6 880.2 1331.6 874.4 1333.5 868.7 1335.3 863 1337.2 857.2 1339 851.5 1340.9 845.8 1342.9 840.1 1345.1 834.5 1347.5 829.1 1350.2 823.8 1353.2 818.6 1356.6 813.6 1360.3 808.8 1364.3 804 1368.4 799.4 1372.7 794.8 1377.1 790.2 1381.4 785.6 1385.6 781 1389.6 776.3 1393.4 771.6 1396.9 766.7 1399.9 761.6 1402.5 756.4 1404.5 750.9 1405.9 745.2 1406.6 739.3 1406.8 733.3 1406.5 727.1 1405.9 720.9 1404.9 714.7 1403.8 708.5 1402.5 702.3 1401.1 696.2 1399.7 690.2 1398.3 684.2 1396.8 678.3 1395.2 672.5 1393.5 666.7 1391.7 661 1389.7 655.4 1387.7 649.8 1385.4 644.2 1383 638.7 1380.4 633.2 1377.7 627.8 1374.8 622.5 1371.8 617.2 1368.7 612 1365.5 606.8 1362.2 601.7 1358.9 596.6 1355.4 591.6 1351.9 586.7 1348.3 581.8 1344.7 577 1341 572.2 1337.2 567.5 1333.4 562.8 1329.5 558.2 1325.6 553.6 1321.6 549.1 1317.5 544.6 1313.4 540.2 1309.2 535.8 1304.9 531.4 1300.6 527.2 1296.2 523 1291.7 518.9 1287.2 514.9 1282.6 511 1277.9 507.2 1273.1 503.6 1268.2 500 1263.3 496.7 1258.3 493.4 1253.2 490.3 1248 487.2 1242.8 484.2 1237.5 481.3 1232.1 478.4 1226.6 475.5 1221.1 472.7 1215.4 469.9 1209.8 467.1 1204 464.4 1198.2 461.7 1192.3 459.1 1186.4 456.5 1180.5 454.1 1174.5 451.7 1168.5 449.6 1162.4 447.5 1156.4 445.6 1150.3 443.9 1144.2 442.4 1138.2 441.1 1132.1 440 1126 439.1 1120 438.5 1114 438.2 1108 438.2 1102 438.5 1096.1 439.1 1090.2 440 1084.4 441.3 1078.7 442.9 1073 444.9 1067.4 447.3 1061.9 449.9 1056.5 452.8 1051.2 456 1046.1 459.3 1041 462.9 1036 466.5 1031.2 470.3 1026.4 474.2 1021.8 478.3 1017.4 482.5 1013.1 486.8 1009 491.3 1005.1 495.9 1001.4 500.7 997.9 505.6 994.6 510.7 991.5 515.9 988.6 521.2 985.8 526.6 983.2 532.1 980.7 537.6 978.3 543.2 975.9 548.8 973.6 554.5 971.4 560.1 969.2 565.8 967 571.4 964.9 577.1 963 582.8 961.1 588.6 959.5 594.4 957.9 600.3 956.6 606.2 955.5 612.1 954.5 618.1 953.6 624 952.7 630 951.8 635.9 950.8 641.8 949.7 647.7 948.4 653.5 947 659.3 945.4 665.1 943.8 670.9 942.1 676.7 940.3 682.4 938.5 688.1 936.7 693.9 934.9 699.6 933 705.4 931.2 711.2 929.5 717 927.9 722.8 926.5 728.7 925.1 734.6 923.9 740.5 922.9 746.4 922.1 752.4 921.4 758.4 920.7 764.4 921.6 764.5 922.5 758.6 923.5 752.6 924.6 746.7 925.9 740.9 927.3 735.1 928.9 729.3 930.6 723.6 932.4 717.8 934.2 712.1 936 706.3 937.8 700.6 939.7 694.8 941.5 689.1 943.3 683.3 945.1 677.6 946.8 671.8 948.4 666 950 660.1 951.4 654.3 952.8 648.4 953.9 642.4 955 636.5 955.9 630.5 956.8 624.5 957.7 618.6 958.7 612.7 959.8 606.8 961.1 601 962.5 595.3 964.2 589.5 966 583.9 968 578.2 970 572.6 972.2 566.9 974.4 561.3 976.7 555.7 978.9 550.1 981.3 544.5 983.7 539 986.2 533.5 988.8 528.1 991.5 522.7 994.3 517.5 997.4 512.4 1000.6 507.5 1004 502.7 1007.7 498 1011.5 493.5 1015.5 489.1 1019.7 484.9 1024.1 480.8 1028.6 476.8 1033.2 472.9 1038 469.2 1042.9 465.6 1047.9 462.1 1053 458.8 1058.2 455.7 1063.5 452.9 1068.8 450.3 1074.2 448.1 1079.7 446.1 1085.2 444.5 1090.9 443.3 1096.5 442.4 1102.3 441.8 1108 441.6 1113.9 441.6 1119.7 441.9 1125.6 442.5 1131.6 443.3 1137.5 444.4 1143.5 445.7 1149.4 447.2 1155.4 448.9 1161.4 450.7 1167.4 452.8 1173.3 454.9 1179.2 457.2 1185.1 459.6 1191 462.2 1196.8 464.8 1202.6 467.5 1208.3 470.2 1213.9 473 1219.5 475.8 1225 478.6 1230.5 481.4 1235.8 484.3 1241.1 487.2 1246.3 490.1 1251.4 493.2 1256.5 496.3 1261.4 499.5 1266.3 502.8 1271.1 506.3 1275.8 509.9 1280.4 513.6 1285 517.4 1289.5 521.4 1293.9 525.5 1298.2 529.6 1302.5 533.8 1306.7 538.1 1310.9 542.5 1315 546.9 1319 551.4 1323 555.9 1326.9 560.4 1330.8 565 1334.6 569.6 1338.3 574.3 1342 579.1 1345.6 583.8 1349.1 588.7 1352.6 593.6 1356 598.5 1359.4 603.5 1362.7 608.6 1365.8 613.7 1368.9 618.9 1371.8 624.1 1374.7 629.4 1377.4 634.7 1379.9 640.1 1382.3 645.5 1384.5 651 1386.5 656.5 1388.5 662.1 1390.2 667.7 1391.9 673.4 1393.5 679.2 1395 685 1396.4 691 1397.8 696.9 1399.1 703 1400.4 709.1 1401.6 715.3 1402.5 721.4 1403.2 727.4 1403.5 733.3 1403.3 739.1 1402.7 744.6 1401.4 750 1399.6 755.1 1397.2 760.1 1394.3 765 1391 769.8 1387.3 774.4 1383.4 779.1 1379.3 783.7 1375 788.3 1370.7 792.9 1366.4 797.5 1362.2 802.3 1358.2 807.1 1354.4 812.1 1351 817.2 1347.9 822.6 1345.2 828 1342.8 833.6 1340.6 839.3 1338.6 845 1336.7 850.7 1334.9 856.5 1333 862.2 1331.2 868 1329.3 873.7 1327.4 879.4 1325.3 885 1323.2 890.6 1321 896.1 1318.6 901.6 1316.1 907.1 1313.4 912.4 1310.5 917.7 1307.5 922.8 1304.3 927.9 1301 932.9 1297.5 937.8 1293.8 942.5 1290 947.2 1286.1 951.6 1281.9 956 1277.6 960.1 1273.1 964.1 1268.5 967.9 1263.6 971.4 1258.7 974.8 1253.5 977.9 1248.2 980.7 1242.8 983.3 1237.2 985.5 1231.6 987.5 1225.8 989 1220 990.2 1214.1 991 1208.1 991.5 1202.2 991.7 1196.2 991.6 1190.1 991.2 1184.1 990.6 1178.2 989.7 1172.3 988.7 1166.4 987.5 1160.5 986.1 1154.7 984.6 1149 983 1143.2 981.3 1137.5 979.6 1131.7 977.7 1126 975.9 1120.3 974.1 1114.5 972.3 1108.8 970.5 1103.1 968.7 1097.3 966.9 1091.6 965.1 1085.8 963.3 1080.1 961.5zM1384.6 742 1384.6 735.9 1384.6 729.8 1384.4 723.8 1384.1 717.7 1383.7 711.6 1383 705.6 1382.1 699.6 1380.8 693.7 1379.1 687.8 1377.2 682 1375.1 676.3 1372.7 670.6 1370.1 665.1 1367.3 659.6 1364.4 654.2 1361.3 648.9 1358.2 643.7 1354.9 638.6 1351.6 633.5 1348.2 628.5 1344.7 623.6 1341.2 618.6 1337.7 613.7 1334.2 608.8 1330.7 603.9 1327.1 599 1323.5 594.1 1319.8 589.3 1316.1 584.5 1312.3 579.8 1308.4 575.1 1304.4 570.5 1300.3 566.1 1296 561.7 1291.7 557.4 1287.3 553.2 1282.8 549.1 1278.2 545.1 1273.6 541.2 1268.9 537.3 1264.1 533.6 1259.3 529.9 1254.5 526.3 1249.6 522.7 1244.7 519.3 1239.7 515.9 1234.7 512.6 1229.6 509.4 1224.4 506.2 1219.1 503.2 1213.7 500.2 1208.2 497.3 1202.6 494.5 1196.9 491.8 1191.1 489.2 1185.2 486.7 1179.3 484.4 1173.3 482.3 1167.2 480.4 1161.1 478.7 1154.9 477.2 1148.8 476 1142.6 475 1136.4 474.3 1130.3 473.9 1124.1 473.8 1118 474.1 1112 474.8 1106 475.8 1100 477.2 1094.2 479 1088.4 481.2 1082.8 483.9 1077.4 486.9 1072.3 490.4 1067.5 494.3 1063 498.5 1059 503.2 1055.4 508.1 1052.1 513.3 1049.2 518.7 1046.6 524.4 1044.4 530.1 1042.3 536 1040.5 541.9 1039 547.8 1037.6 553.7 1036.3 559.6 1035.2 565.6 1034.2 571.5 1033.2 577.5 1032.3 583.5 1031.3 589.4 1030.4 595.4 1029.5 601.4 1028.5 607.3 1027.7 613.3 1027 619.4 1026.4 625.4 1025.8 631.4 1025.3 637.4 1024.9 643.5 1024.5 649.5 1024.1 655.5 1024.5 655.6 1025.1 649.5 1025.6 643.5 1026.2 637.5 1026.8 631.5 1027.5 625.5 1028.3 619.5 1029.1 613.5 1030.1 607.6 1031 601.6 1032 595.6 1032.9 589.7 1033.9 583.7 1034.8 577.8 1035.8 571.8 1036.9 565.9 1038 560 1039.3 554.1 1040.7 548.2 1042.3 542.4 1044.1 536.5 1046.1 530.8 1048.4 525.1 1050.9 519.6 1053.8 514.3 1057 509.2 1060.6 504.4 1064.5 499.9 1068.8 495.8 1073.5 492.1 1078.5 488.7 1083.8 485.8 1089.2 483.2 1094.9 481 1100.6 479.3 1106.4 477.9 1112.3 476.9 1118.2 476.3 1124.2 476.1 1130.2 476.2 1136.2 476.6 1142.3 477.2 1148.4 478.2 1154.4 479.4 1160.5 480.9 1166.5 482.6 1172.5 484.5 1178.5 486.6 1184.3 488.9 1190.2 491.3 1195.9 493.9 1201.6 496.6 1207.1 499.4 1212.6 502.3 1217.9 505.2 1223.1 508.3 1228.3 511.4 1233.4 514.6 1238.4 517.9 1243.3 521.3 1248.2 524.7 1253.1 528.2 1257.9 531.8 1262.6 535.5 1267.3 539.2 1272 543.1 1276.6 547 1281.1 551 1285.6 555.1 1290 559.2 1294.2 563.5 1298.4 567.8 1302.5 572.3 1306.5 576.8 1310.3 581.4 1314.1 586.1 1317.8 590.8 1321.4 595.7 1325 600.5 1328.6 605.4 1332.1 610.3 1335.6 615.2 1339.1 620.1 1342.6 625.1 1346 630 1349.4 635 1352.8 640 1356 645.1 1359.2 650.2 1362.2 655.5 1365.1 660.8 1367.8 666.2 1370.4 671.7 1372.8 677.2 1374.9 682.8 1376.8 688.5 1378.5 694.3 1379.9 700.1 1381.1 705.9 1382 711.8 1382.6 717.8 1383.1 723.8 1383.5 729.9 1383.7 735.9 1384 742z"/><path fill="#650000" d="M1366.6 1091.1L1361.8 1107.3L1350.9 1097.4zM1492.9 659L1505.8 671.3L1491.2 676.7zM1129.1 314.8L1146.3 310.3L1143.1 325.6zM897.6 453.1L902 438.1L912.1 447.3zM773.8 656.5L771.6 641.4L784.2 645.3zM1336.7 1101L1332.2 1116.9L1321.4 1107.3zM1252.8 380.9L1272.2 382.5L1263.4 397.3zM855.3 537.7L857.2 519.7L870.6 528.1zM1375 1016.6L1372.7 1032.5L1361.1 1024.7zM1436 623.5L1451.6 636.1L1435.6 643.5zM1152.8 370.9L1172.2 366.3L1168.2 383.5zM829.6 655.2L828.1 636.8L843.2 642.7zM1336.6 1000.1L1333.4 1014.9L1323 1006.9zM1215 411.6L1234.1 411.3L1226.9 426.5zM1311.3 968.2L1308.8 982.3L1298.7 975zM1212 432.7L1229.7 431.9L1223.5 446.3zM931 552.9L931.1 535.5L944.7 542.3zM1280.1 511L1295.6 515.1L1286.4 525.7zM970 568L968.9 552.2L981.7 557.3zM1145.4 932L1132.6 934.4L1135.5 923.6zM1302.8 570.5L1315.9 576.3L1306.5 584.4zM1023.9 661.5L1019.6 650.2L1029.8 651zM1083.6 1253.1L1070.1 1260.5L1069.4 1247.1zM1432.6 1055.8L1430.2 1071L1419.2 1063.4zM1408.1 1122.5L1404.7 1136.2L1395.3 1128.4zM1116.3 1020.8L1103.3 1019.6L1108.9 1010zM1476.4 1148.9L1480.6 1136.3L1488.8 1144.2zM1383.5 1217.1L1391.7 1206.6L1396.7 1216.9zM1349.3 639.4L1339.1 633.8L1347 628zM1318.5 789.5L1325.2 780.4L1329.8 788.9zM1334.3 380.4L1346.5 382.7L1340.3 391.3zM1511 563.5L1520.7 569.8L1512.4 575zM1502.5 600.4L1511.3 608L1502.3 612zM864 452.5L867.5 440.6L875.4 447.7zM1040.4 325.5L1050.5 318.2L1052.4 328.7zM1045.8 815.3L1037.1 805.6L1047.8 802.4zM1060.2 898.9L1047.9 895.4L1055.1 887.1zM1038.3 906.8L1026.8 899.8L1036.5 893.5zM1056.3 973.4L1043.5 968.5L1052.1 960.3zM943 870.9L929.4 866.5L938 857.5zM1014.3 952.7L1002.2 945L1012.7 938.5zM1048.3 1023.6L1037.6 1014L1049.1 1009.2zM1060.7 1101.4L1048.2 1094.8L1058 1087.5zM957.1 1130.7L944.7 1130.4L949.5 1120.9zM932 1156L919.7 1154.1L925.7 1145.3zM726.5 1033.2L713.2 1033.1L718.2 1022.8zM815.9 1137.8L803.5 1138L807.9 1128.4zM908.9 1176.7L895.4 1172.7L903.6 1163.6zM713.7 867.7L713.8 853.6L724.8 859zM656.3 877.6L658.8 864.7L667.8 871.4zM734.3 1035.3L721.6 1037.4L724.7 1026.8zM602.6 880.9L602.1 868.7L611.7 872.7zM713.5 869.9L714.9 857.1L724.2 862.9zM710 1197.4L722.7 1199.4L716.5 1208.5zM716.8 1186.6L705.3 1184.5L711 1176.3zM946.9 1124.7L934.5 1125.3L938.6 1115.5zM908.7 1178.5L896.5 1173.7L904.7 1166zM934.3 1157.8L921.7 1155.3L928.2 1146.5zM1062.2 1254.8L1050.1 1259.2L1051.1 1248.2zM1150.3 1259.3L1142.2 1269.5L1137.2 1259.5zM1174.8 1323.1L1162.7 1324.2L1166.3 1314.4zM1205.2 1303.4L1217.1 1298.1L1216.9 1309.3zM881.4 284.9L871 291.7L869.6 281.2zM990.8 287.1L981.6 294.5L979.2 284.8zM1041.3 326.3L1051.9 319.8L1053.1 330.3zM904.9 310.7L914.1 304L916 313.4zM1099.8 249.8L1088.6 255.2L1088.5 244.6zM1516 570.1L1525.5 577L1516.7 581.8zM1579.9 631.5L1571.9 621.2L1582.8 618.7zM1530.9 1079.6L1531.3 1066.5L1541.3 1071.6zM1423.4 1214.9L1430.1 1203.7L1436.4 1213zM1471.7 1191.8L1476.2 1179.6L1484 1187.6zM1488.4 1110.2L1494.7 1099.7L1500.5 1108.3zM671.6 537.4L678.9 528.2L683.3 537.1zM1488.7 421.4L1475.6 416.1L1484.6 407.9zM1596.9 608.2L1586.9 598.3L1598.4 594.2zM1443.6 393.6L1430 389.6L1438.2 380.5zM1390.2 367.2L1376.3 364.7L1383.5 354.8zM1625.6 695.7L1617.4 684.2L1629.4 682.1zM1622.7 887L1618.9 873.4L1630.9 875.5zM1618.4 818.7L1613.1 806.1L1624.9 806.7zM1502.8 1118.3L1505.7 1104.9L1515.1 1112.1zM1434.5 1172.6L1439.4 1160L1447.3 1168.5z"/><circle cx="1079.5" cy="783.0" r="560.2" fill="none" stroke="#650000" stroke-width="2.2" stroke-dasharray="46 4 18 3 60 5 30 3"/>
<path fill="none" stroke="#000" stroke-width="2" stroke-linejoin="round" stroke-linecap="round" d="M1029.2 233.8 1032.9 233.7 1036.5 233.9 1040 233.1 1043.6 232.9 1047.2 232 1050.9 233.5 1054.4 231.9 1058 231.8 1061.6 231.1 1065.2 231.1 1065.3 235.6 1061.8 235.6 1058.2 236.3 1054.6 236.4 1051.1 238 1047.5 236.5 1043.9 237.4 1040.4 237.6 1036.8 238.4 1033.2 238.2 1029.6 238.2zM1113.5 233.6 1117.1 234.6 1120.6 236.2 1124.3 236.2 1127.9 237.1 1131.3 239.1 1134.9 240.2 1138.4 241 1141.9 242.5 1145.5 243 1149.1 243.5M1175 241.7 1179.4 242.7 1183.9 243.1 1188.5 243.1 1192.9 244.1 1192.4 246.7 1188 245.6 1183.4 245.6 1178.9 245.3 1174.6 244.2zM1214 246.9 1217.4 248.5 1220.6 251 1224.1 251.8 1227.8 252.3 1231.2 254 1235 253.8 1238.8 254.2 1242.5 254.7 1241.1 259.1 1237.4 258.6 1233.7 258.2 1229.9 258.4 1226.6 256.8 1222.9 256.3 1219.4 255.4 1216.3 253 1212.9 251.4zM1283.8 268.9 1287.6 270.1 1291.2 271.8 1295.2 272.7 1298.7 274.6 1302.3 276.2 1306.1 277.5 1309.4 279.9M1362.7 310.4 1367.4 312.7 1371.8 315.5 1376.5 317.8M1410.5 335.9 1413.2 338.1 1415.4 340.9 1418.8 342.1 1420.9 345.1 1423.9 346.8 1427.3 348 1429.1 351.3 1431.6 353.7 1433.5 356.8 1436.3 358.9 1439.8 360.1 1443.6 360.9 1445.2 364.4 1447.5 367.1 1450.4 368.9M1490 407.3 1490.9 408.6 1491.4 410.1 1492.7 411 1493.9 411.9 1494.8 413.1 1495.7 414.3 1495.8 416.2 1496.4 417.6 1498.2 418 1499.1 419.3 1499.1 421.2 1501 421.6 1502.3 422.4 1504.7 422.3 1505.7 423.4 1506.4 424.8M1056.8 225.3 1060.9 225.9 1065 226 1069.2 226.3 1073.3 226 1077.4 225 1081.5 225 1081.5 228.5 1077.4 228.5 1073.3 229.5 1069.2 229.7 1065.1 229.5 1061 229.4 1056.9 228.8zM1144.4 228.9 1148.3 229.9 1152.2 229.9 1156.2 230 1160.2 229.9 1164.1 230.4M1181.7 235.4 1185.3 237.1 1189 238.3 1192.8 239.2 1196.6 239.8 1200.3 240.9 1203.7 243.4 1207.4 244.4 1211.2 245.1 1215.2 245.1 1214.2 249 1210.3 249 1206.5 248.3 1202.8 247.4 1199.4 244.8 1195.8 243.7 1191.9 243.1 1188.2 242.3 1184.5 241 1180.9 239.3zM1257.6 259 1262.2 258.6 1265.9 260.6 1269.9 261.7 1273.9 262.8 1278 263.8 1282.1 264.8M1305.6 272.8 1308.6 274.9 1311.9 276.3 1315 278.1 1318.5 279.2 1322.1 280.1 1325.4 281.4 1328.8 282.7 1332 284.3 1335 286.3 1338.2 288 1341.1 290.1 1344.5 291.5 1347.7 293.2 1351.1 294.5 1353.6 297.3 1357.1 298.4M1387.2 318 1389.9 320.4 1392.4 323.2 1394.9 325.8 1398.5 326.9 1401.4 328.9 1403.7 331.8 1406.6 333.9 1408.6 337.2 1412.5 338 1414.5 341.2 1417.6 343.1M1460.7 383.4 1463.8 386.1 1467.3 388.3 1470.4 391.1 1473.5 393.8 1476.3 396.8 1473.6 399.4 1470.9 396.4 1467.8 393.7 1464.8 390.9 1461.3 388.7 1458.2 386.1zM1024.1 231.6 1027.6 230.4 1031.3 230.5 1034.8 229.6 1038.4 229.7 1042 229.6 1045.6 229.3 1049.3 231.2 1052.9 230.8 1056.6 231.6 1060.2 232.1 1063.8 233.3 1067.4 234.5 1071 235.3 1074.5 234.5 1078.1 233 1081.7 233 1081.6 235.7 1078.1 235.6 1074.5 237.2 1071 238 1067.4 237.2 1063.9 235.9 1060.3 234.7 1056.7 234.2 1053.1 233.4 1049.5 233.8 1045.8 231.9 1042.2 232.2 1038.6 232.4 1035 232.2 1031.5 233.2 1027.9 233 1024.4 234.2zM1103.9 233.3 1107.8 233.2 1111.7 232.9 1115.5 233.9 1119.3 235.5 1123.2 236 1127 236.5 1130.8 237.2 1134.8 236.7M1154.2 230.3 1157.9 229.8 1161.5 230.7 1165.2 230.6 1168.7 231.2 1172.3 231.8 1175.9 232.4 1179.5 233 1183 233.7 1186.6 234.4 1190.1 235.1 1193.7 235.8 1192.8 239.9 1189.3 239.2 1185.8 238.5 1182.2 237.8 1178.7 237.2 1175.2 236.5 1171.6 235.9 1168.1 235.3 1164.5 234.8 1160.9 234.9 1157.4 234 1153.7 234.4zM1228.9 255.1 1232.2 257.1 1235.9 257.7 1239.4 259.1 1242.5 261.9 1245.8 263.6 1249.5 264.5 1253.2 265.1 1256.8 266.2 1260.3 267.4 1259.1 270.7 1255.6 269.5 1252.1 268.4 1248.4 267.8 1244.8 266.9 1241.4 265.2 1238.4 262.4 1234.9 261 1231.2 260.5 1227.9 258.4zM1301.4 280.3 1304.4 282.7 1307.5 284.8 1311.4 285.1 1314.8 286.4 1318 288.2 1321.5 289.5 1324.6 291.5 1328 293 1331 295.2 1334.4 296.6M1381 318 1383.9 320.4 1387.1 322.3 1389.6 325.2 1392.9 327 1397.8 326.5 1400.2 329.6 1403.4 331.5 1406.3 333.9 1409.4 335.9M1429.1 347.9 1432.1 351.1 1435.6 353.8 1439.8 355.6 1443.2 358.5M1447.9 368 1450.4 371.1 1453.4 373.6 1457.9 374.5 1461.6 376.3 1462.7 380.9 1465.4 383.7 1467.7 387 1470.9 389.3M1532.6 473.4 1534.9 476.2 1537.8 478.5 1540.2 481.2 1541.9 484.4 1544.8 486.7 1546.8 489.7 1548.6 492.7 1549.9 496.2 1551.3 499.5 1552.7 502.8 1552.3 507.2 1554.9 509.8 1557.1 512.6 1558.6 515.8M1576.5 535.2 1579.3 539.8 1582.9 543.9 1586.6 548.1 1583.7 549.4 1579.9 545.3 1576.3 541.2 1573.6 536.7zM1599.9 590 1601.2 593.8 1602.7 597.5 1602.8 601.7 1604.5 605.3 1605.4 609.3 1606.9 612.9 1608.5 616.6M1514.1 446.6 1515.8 449.7 1519.2 451.5 1521.2 454.3 1524 456.6 1526.3 459.2 1527.9 462.4 1529.4 465.6 1531.5 468.4 1533.7 471.1 1536.1 473.7 1537.1 477.2 1538.6 480.4 1540.4 483.4 1537.1 485.5 1535.3 482.6 1533.8 479.4 1532.8 475.9 1530.4 473.4 1528.3 470.6 1526.2 467.9 1524.7 464.7 1523.1 461.5 1520.8 458.9 1518 456.7 1516 453.9 1512.7 452.1 1511 449zM1558.4 516.1 1560.3 519 1563.2 521.4 1565.1 524.3 1567.1 527.2 1569 530.1 1570 533.5 1572 536.3 1573.3 539.5 1574.2 543 1575.7 546.1 1577 549.3 1579.1 552.2 1580.5 555.3 1576.3 557.2 1574.9 554.1 1572.8 551.3 1571.5 548.1 1570.1 545 1569.2 541.6 1567.9 538.4 1565.9 535.5 1564.9 532.2 1563 529.3 1561.1 526.4 1559.2 523.6 1556.3 521.2 1554.4 518.4zM1601.6 591.7 1602.3 594.8 1603.1 597.8 1605 600.4 1606.1 603.3 1605.8 606.7 1606.7 609.7 1606.5 613 1607.6 615.9 1607.5 619.2 1607.3 622.5 1608.3 625.4 1609.1 628.3 1608.5 631.7 1610 634.5 1612.7 636.9 1612.2 640.3M1536.5 470.7 1538.9 473.5 1540.4 477 1542.2 480.2 1543.1 484 1544.8 487.3 1547.5 490 1548.1 493.9 1549.7 497.2 1551.7 500.3 1554.4 503 1557.3 505.6 1558.8 509 1560 512.5 1557.5 513.9 1556.3 510.4 1554.8 507 1551.9 504.5 1549.2 501.8 1547.2 498.8 1545.6 495.4 1545 491.5 1542.4 488.8 1540.6 485.6 1539.8 481.8 1538 478.6 1536.5 475.1 1534.1 472.3zM1575.8 530 1577.4 533.5 1579.6 536.7 1579.7 540.8 1581.3 544.3 1582.1 548.1 1585.6 550.6 1587.8 553.8 1589.5 557.3M1593.1 572.4 1595.1 575.8 1597.2 579.1 1597.3 583.2 1599.4 586.5 1601.9 589.7 1603.5 593.3 1604.7 596.9 1600.3 598.5 1599.1 594.9 1597.6 591.3 1595.1 588.2 1592.9 584.9 1592.8 580.8 1590.8 577.5 1588.8 574.2zM1625.8 680.4 1624.6 684.2 1625.2 687.7 1624.9 691.3 1625.7 694.7 1625.2 698.4 1626.7 701.7 1626.6 705.2 1627.3 708.7 1627.3 712.2 1627.4 715.7 1628.9 719.1 1629.5 722.5 1629.5 726 1628.7 729.6 1630.1 733 1631.1 736.5 1627.3 736.8 1626.3 733.4 1624.9 730 1625.7 726.4 1625.7 722.9 1625.1 719.5 1623.6 716.2 1623.5 712.7 1623.6 709.2 1622.8 705.8 1622.9 702.2 1621.5 698.9 1622 695.3 1621.1 691.9 1621.4 688.4 1620.9 684.9 1622.1 681.1zM1632.4 780.5 1632.7 784.2 1632 787.9 1632.6 791.6 1633.3 795.4 1633.3 799.1 1634.2 802.8 1633.7 806.5 1633.5 810.3 1633.7 814 1633.5 817.7 1633.9 821.5 1632.5 825.1M1628.6 870.7 1628.6 874.3 1629.1 878 1629.4 881.7 1629.1 885.3 1627.5 888.6 1626.1 892 1625 895.4 1623.4 898.7 1623.7 902.4 1623 905.9 1622.2 909.4 1621.8 913 1620.2 916.2 1618.5 919.5 1616.8 922.7 1616.4 926.3 1611.7 925.1 1612.2 921.5 1613.8 918.3 1615.5 915.1 1617.1 911.9 1617.5 908.3 1618.3 904.9 1619 901.4 1618.7 897.7 1620.3 894.4 1621.4 891 1622.7 887.7 1624.3 884.4 1624.7 880.9 1624.3 877.2 1623.8 873.5 1623.8 870zM1609.9 955.7 1608.3 956.6 1607.4 957.7 1607.8 959.3 1608.4 960.9 1608.8 962.5 1608.4 963.8 1607.8 965.1 1607.5 966.4 1607.1 967.7 1606.6 969 1606.2 970.3 1605.7 971.6 1605.3 972.9 1604.8 974.2 1602.4 973.3 1602.9 972 1603.3 970.8 1603.8 969.5 1604.2 968.2 1604.7 966.9 1605.1 965.6 1605.4 964.2 1606 963 1606.4 961.7 1605.9 960.1 1605.4 958.5 1605 956.9 1605.9 955.8 1607.4 954.9zM1617.5 674.3 1617.5 677.9 1618.3 681.4 1618.1 685.1 1617.6 688.8 1617.9 692.4 1618.5 695.9 1619.1 699.5 1619.6 703 1620.1 706.5 1620.6 710.1 1621.1 713.6 1621.5 717.1 1622.2 720.7 1619.1 721 1618.4 717.5 1617.9 714 1617.5 710.5 1617 707 1616.5 703.5 1616 699.9 1615.4 696.4 1614.8 692.9 1614.5 689.4 1615 685.7 1615.2 682 1614.4 678.5 1614.4 674.9zM1631.9 747.2 1632.6 750.8 1631 754.6 1631.9 758.2 1633.4 761.9 1632.9 765.6 1633.8 769.3 1632.3 773 1632.6 776.7 1629.6 776.7 1629.3 773 1630.8 769.3 1629.8 765.7 1630.4 762 1628.9 758.4 1628 754.7 1629.6 751 1628.9 747.4zM1634.1 799.3 1633.5 803.2 1634.1 807.2 1634 811.1 1633.5 815 1633.8 819 1635 823 1633.6 826.9 1633.8 830.9 1633.7 834.8 1630.1 834.5 1630.2 830.5 1630 826.6 1631.4 822.8 1630.2 818.8 1629.9 814.8 1630.4 810.9 1630.5 807 1629.9 803.1 1630.5 799.2zM1630.7 865.6 1630 869.2 1630.8 873.1 1630.4 876.8 1629.9 880.5 1629.3 884.2 1628.6 887.8 1627.9 891.5 1627.1 895.1 1626.4 898.8 1625.6 902.4 1624.8 906 1624 909.6M1615.5 925.5 1614.4 929.1 1613.3 932.6 1613.3 936.5 1611.1 939.7 1610 943.2 1608.7 946.7 1608.1 950.4 1607.3 954 1605.8 957.4 1604.8 961 1603.3 964.4M1583.9 1009.8 1581.9 1013.2 1580.5 1017 1579.9 1021.2 1576.5 1024 1573.4 1026.8M1561.8 1058.4 1559.7 1061.7 1555.8 1063.9 1552.1 1066.2 1550.9 1069.9 1549 1073.3M1536.2 1097.6 1533.6 1100.1 1530.8 1102.4 1529.4 1105.7 1526.5 1108 1525.1 1111.3 1522.1 1113.4 1520.6 1116.7 1518.5 1119.5 1516.1 1122 1513.3 1124.3 1511.3 1127.1 1507.8 1128.8 1505.4 1131.3 1502.9 1133.8 1501.2 1136.9 1498.1 1138.8M1478.3 1164.6 1475.7 1167.1 1472.5 1169.2 1470 1171.8 1466.9 1173.9 1464.1 1176.3 1462.5 1179.9 1460.1 1182.6 1457.5 1185.3 1455 1188 1452.3 1190.4 1450.1 1193.5 1447.9 1196.5 1444.9 1198.7 1442.2 1201.2 1439.2 1197.8 1441.9 1195.3 1444.9 1193.1 1447 1190.1 1449.2 1187.1 1451.9 1184.7 1454.4 1182 1456.9 1179.4 1459.3 1176.6 1460.9 1173.1 1463.7 1170.7 1466.7 1168.6 1469.3 1166 1472.4 1164 1475 1161.4zM1409.5 1225.7 1406.6 1228.5 1402.9 1230.2 1399.4 1232.2 1396.3 1234.7 1393 1236.9 1389.3 1238.6M1343.7 1272.1 1344.3 1273.9 1343.8 1273.6 1344.1 1274.9 1344 1275.5 1343.7 1275.6 1343.1 1275.2 1343 1275.7 1342.8 1276.1 1342.5 1276.2 1342.2 1276.4 1341.9 1276.6M1600.7 978.6 1600.9 982.9 1600 986.8 1597.3 990 1595.9 993.7 1594.3 997.3 1592.6 1000.9 1590.6 1004.3 1587.8 1007.4 1584.5 1005.9 1587.2 1002.9 1589.2 999.4 1590.9 995.9 1592.5 992.3 1593.9 988.6 1596.6 985.5 1597.4 981.6 1597.2 977.3zM1577.8 1018.3 1576.5 1021.8 1574.4 1024.9 1571.9 1027.9 1569.9 1031.1 1568.9 1034.8 1567.3 1038.2 1565.7 1041.6 1563.7 1044.8 1561.7 1048M1542.4 1088.2 1541.4 1091.9 1539.6 1095 1537.5 1098 1535.1 1100.7 1531.8 1102.8 1529.9 1105.9 1528.6 1109.4 1525.9 1111.8 1524.7 1115.5 1521.7 1117.7 1519 1120.2 1517.2 1123.3 1514.9 1126.2 1513.2 1129.4 1510.4 1131.8 1507.4 1134 1505 1132 1508 1129.9 1510.8 1127.5 1512.5 1124.3 1514.7 1121.5 1516.6 1118.3 1519.3 1115.9 1522.2 1113.6 1523.4 1110 1526.2 1107.6 1527.4 1104.1 1529.3 1101 1532.5 1098.9 1535 1096.3 1537 1093.3 1538.9 1090.2 1539.8 1086.5zM1486.5 1163.2 1482.6 1164.7 1481.6 1169 1478.4 1171.3 1474.9 1173.2 1473 1176.7 1471.1 1180.1 1467.6 1182 1464 1183.7 1460.6 1185.7M1442.7 1203.7 1438.4 1205.7 1434.6 1208.5 1430.3 1210.4 1427.9 1214.9M1410.6 1218.6 1407.8 1221 1404.2 1222.2 1400.5 1223.4 1397.2 1225 1394.1 1226.9 1391.4 1229.4 1388.8 1232 1385.9 1234.3 1382.4 1235.6 1379.7 1238.1 1377.1 1234.2 1379.8 1231.7 1383.3 1230.4 1386.1 1228.2 1388.7 1225.6 1391.4 1223.1 1394.5 1221.3 1397.8 1219.7 1401.4 1218.5 1405 1217.3 1407.8 1214.9zM1591.4 992.4 1590.4 996 1588.7 999.4 1588 1003.2 1586.9 1006.9 1585.7 1010.5 1583.7 1013.8 1582.2 1017.3 1580.7 1020.8 1578.6 1023.9 1576 1026.9M1560.9 1059.1 1560.9 1063.7 1559.1 1067.2 1557.9 1071.2 1556.3 1074.9 1554.1 1078.3 1552 1081.7 1549.9 1085.1M1511.9 1118.1 1510.6 1121.5 1508.2 1124.1 1504.8 1125.9 1502.5 1128.6 1499 1130.3 1496.1 1132.4 1493.8 1135.1 1490.9 1137.3 1489.4 1140.5 1486 1142.3 1483.9 1145.1 1481.9 1148 1480.5 1151.5 1478.8 1154.7 1476.5 1157.4 1474.7 1155.6 1476.9 1152.9 1478.7 1149.8 1480.1 1146.3 1482 1143.4 1484.2 1140.6 1487.5 1138.9 1489 1135.6 1491.9 1133.5 1494.1 1130.8 1497.1 1128.7 1500.5 1127 1502.8 1124.3 1506.2 1122.6 1508.6 1120 1509.9 1116.6zM1461.5 1176 1458.9 1178.3 1456.6 1180.8 1453.9 1183 1452.7 1186.8 1449.8 1188.7 1447.4 1191.2 1445 1193.7 1442.8 1196.4 1440.5 1199 1438.1 1201.5 1436.1 1204.4 1432.6 1205.6 1429.9 1207.9 1426.5 1209.2 1424 1211.5 1420.6 1212.9M1378.1 1244.2 1375.8 1247.2 1372.3 1248.4 1368.3 1248.7 1365.1 1250.3 1361.9 1251.9 1359.4 1254.7 1357.3 1258.2 1353.6 1258.9 1351.6 1262.7 1349.2 1265.7 1346.5 1268.1 1343.5 1270.1 1341.3 1273.7M1312.2 1283.2 1308.6 1285.1 1305 1287.1 1300.9 1287.9 1297.7 1290.6 1293.6 1291.4 1290.2 1293.7M1260.2 1310.2 1256.2 1309.4 1252.6 1309.6 1249.3 1310.7 1246.2 1312.3 1242.5 1312.1 1238.6 1311.3 1235.1 1311.6 1231.7 1312.4 1228.3 1312.8 1224.7 1313 1221.6 1314.7 1218.5 1316.4 1215.3 1317.9 1211.8 1317.9 1208.4 1318.8 1205 1319.5M1303.9 1289.6 1300.7 1291.8 1297.5 1294 1294.4 1296.5 1291.1 1298.6 1287.1 1299 1283.4 1300.1 1280.2 1302.3 1276.3 1303.1 1272.8 1304.5 1269.3 1306.1 1268.3 1303.5 1271.8 1301.8 1275.3 1300.4 1279.1 1299.7 1282.4 1297.5 1286 1296.4 1290 1296 1293.3 1293.9 1296.4 1291.4 1299.5 1289.2 1302.7 1287zM1241.9 1314.3 1238.3 1315.2 1235 1317.4 1231.5 1318.9 1227.7 1319.3 1224.4 1321.4 1220.7 1322.1 1217.2 1323.6 1213.3 1323.2 1209.6 1324.1 1205.8 1324.1M815.5 1264.5 811.2 1262 806.6 1260 802.8 1256.4 804.2 1254.1 807.9 1257.7 812.5 1259.7 816.8 1262.2zM768.2 1231.1 765.7 1228.2 762.3 1226.6 759.1 1224.8 755.9 1222.9 754 1219.3 752.5 1215.1 749.9 1212.5 747.2 1210 744.4 1207.7 741.5 1205.4 743.8 1202.6 746.6 1204.8 749.4 1207.1 752.1 1209.6 754.7 1212.2 756.2 1216.3 758 1220 761.2 1221.8 764.4 1223.7 767.8 1225.2 770.3 1228.1zM702.7 1185.5 698.4 1184.3 695.7 1181.4 692.8 1178.7 690.6 1175.3 688.1 1172.3 685 1169.8 681.9 1167.4 679.2 1164.4 681.7 1162.1 684.3 1165 687.4 1167.4 690.5 1169.9 693.1 1172.9 695.2 1176.2 698.1 1178.9 700.8 1181.8 705 1183zM663.4 1139.1 661.1 1136.3 659.9 1132.5 658.4 1128.9 655.2 1126.8 654.8 1122.4 652.8 1119.3 649.9 1116.9 647.5 1114.1M628.9 1097.1 626.6 1094.2 623.4 1091.9 621.4 1088.8 618.6 1086.2 617 1082.9 615.9 1079.2 612.8 1076.7 609.7 1074.3M786 1246.2 782.3 1244.4 779.6 1241.1 776.1 1239 772.6 1236.7 769.2 1234.5 765.9 1232.1M710.9 1198.7 706.8 1195.5 702.9 1191.9 700.4 1186.9 702.4 1184.7 705 1189.6 708.8 1193.3 712.9 1196.5zM655.6 1141 652.4 1137.1 649.4 1132.9 647.5 1127.9M622.9 1090.3 620.8 1088 618.4 1085.7 615.8 1083.7 613.8 1081.2 609.9 1079.9 609 1076.7 607.1 1074.1 605.7 1071.2 604.5 1068.2 602.7 1065.6 599.9 1063.6 598.9 1060.5M795.6 1249.3 792.7 1247.2 789.5 1245.4 786.5 1243.3 784.2 1240.4 781.1 1238.4 778.2 1236.3 775.3 1234.1 772.6 1231.7 768.7 1231 765.4 1229.4 761.9 1228M741.5 1221.9 738.4 1219.2 734.6 1217.4 731.2 1215 728.6 1211.7 725.6 1208.8M688 1169.7 685.3 1167 683.2 1163.7 681 1160.6 678.3 1157.9 675.4 1155.4 672.3 1153.1 669.8 1150.2 668.2 1146.5 664.7 1144.5M631.3 1099.8 629.1 1097.1 626.3 1094.7 624.3 1091.8 624.6 1087.3 622.8 1084.2 620.6 1081.5 617.8 1079.1 615.3 1076.5 611.5 1074.7 608.6 1072.3 605.7 1069.9 603.1 1067.3M612.1 1047.7 610 1043 607.6 1038.4 605.3 1033.7 609.3 1031.6 611.5 1036.2 613.9 1040.8 616 1045.5zM594.4 1010 593.4 1006.6 591.5 1003.6 590 1000.5 588.7 997.2 587.3 994.1 584.6 991.4 584.2 987.8 582.1 984.9 582.1 981.1 581.2 977.7 579.8 974.5 579.3 971 577.9 967.8 581.1 966.7 582.4 969.8 582.9 973.3 584.3 976.5 585.2 979.9 585.2 983.6 587.3 986.5 587.7 990.1 590.4 992.7 591.8 995.9 593.1 999.1 594.5 1002.3 596.4 1005.2 597.5 1008.5zM540.8 916.5 540.6 912.9 538.6 909.7 538.6 906 536.3 902.8 536 899.2 533.6 896 532.4 892.6 531.3 889.1 530 885.6 529.3 882.1 528.7 878.5 528.1 874.9 532.3 874.2 532.9 877.8 533.5 881.3 534.2 884.9 535.4 888.3 536.5 891.7 537.7 895.1 540.1 898.3 540.4 901.9 542.7 905 542.7 908.7 544.7 911.9 544.9 915.5zM536.2 820.8 535.8 816.8 535.9 812.7 536.3 808.6 536.3 804.5 535.8 800.5 540.4 800.3 540.9 804.3 540.8 808.4 540.5 812.4 540.4 816.5 540.8 820.5zM532.9 770.7 533.9 767.1 535.1 763.5 535.4 759.9 536.6 756.3 534.6 752.6 535.2 748.9 536 745.4 536.8 741.8 538 738.2 540.5 734.8 541.1 731.3 541.2 727.6 542.9 724.2 547.8 724.7 546.1 728.1 546 731.7 545.4 735.3 542.9 738.6 541.6 742.1 540.9 745.7 540 749.3 539.5 752.8 541.5 756.5 540.3 760.1 540 763.7 538.8 767.2 537.8 770.8zM539.4 670.4 540.8 667.1 540.8 663.4 542 660.1 542.5 656.5 542.7 652.9 543.8 649.6 545.8 646.4 546.2 642.8 548.1 639.7 549.8 636.5 551.7 633.3 551.9 629.7M569.4 580.1 571.2 577 572.5 573.6 573.5 570.1 574.2 566.5 575.6 563.1 578 560.2 578.8 556.7 579.8 553.1 582.5 550.4 584.3 547.3 585.7 543.9 587.2 540.7M617.2 510.4 619.4 507 622.5 504.2 624.1 500.5 625.2 496.4M629.3 470.2 629.2 469.8 628.8 469.2 629.5 469.4 629.3 468.9 630 469.2 630.3 469.1 630.5 468.9 631 469M575.7 1014.4 573.5 1011 571.1 1007.6 570.2 1003.6 568.6 999.9 567.3 996.1M542.4 934.8 541.2 929.9 540.1 925 539.2 920.1 541.7 919.4 542.6 924.4 543.7 929.3 545 934.1zM551.9 898.8 550.2 895.6 550.8 892 550.2 888.6 548.1 885.5 547.9 882.1 547.5 878.7 547.7 875.2 549.4 871.4 549 868 547.4 864.8 547.4 861.3M540.1 799 540.3 795.4 539.8 791.8 541.4 788.2 540.4 784.6 540.3 781 539.3 777.3 538.4 773.7M547.9 722.1 548.2 718.5 549.6 715.1 549.4 711.5 549.8 707.9 550 704.3 551.2 700.9 553.3 697.7 553.3 694 553.3 690.4 554.1 686.9 555.1 683.5 556 680.1M555.6 616.7 557 613.5 558.4 610.2 559.3 606.7 561.9 603.9 562 600.2 562.7 596.6 563.3 593.1 563.4 589.3 565.4 586.3 569.3 584 570.3 580.6 570.6 576.8 571 573.2 574.2 574.5 573.8 578.1 573.6 581.9 572.6 585.2 568.6 587.5 566.7 590.5 566.5 594.3 566 597.8 565.3 601.3 565.2 605 562.6 607.9 561.7 611.3 560.3 614.5 559 617.8zM590.8 562.1 590.9 558.4 592.9 555.7 593 552 594.4 549 597.3 546.7 597 542.8 599.2 540.2 600.3 537 600.4 533.3 602.4 530.6 605 528.1 605.7 524.7 607.3 521.8 609.9 519.4 612.4 517 615.1 518.5 612.6 520.9 610 523.3 608.5 526.2 607.7 529.6 605.2 532 603.2 534.7 603 538.4 602 541.6 599.8 544.2 600.1 548.1 597.3 550.4 595.8 553.4 595.7 557 593.8 559.7 593.7 563.3zM597.6 1053.6 594.8 1051 592 1048.5 589.3 1045.9 588.9 1042.1 586.3 1039.5 584.4 1036.4 582.9 1033.2 582.2 1029.6 581.9 1025.8 581.2 1022.1 579.7 1018.9 579.2 1015.3 583.5 1013.3 584.1 1016.9 585.6 1020.1 586.2 1023.7 586.5 1027.5 587.2 1031 588.7 1034.3 590.6 1037.3 593.2 1039.9 593.6 1043.7 596.2 1046.2 599 1048.7 601.7 1051.2zM560.4 974 558.9 969 556.7 964.2 555.9 958.9 558.3 958.1 559.1 963.3 561.3 968.1 562.9 973.1zM564.6 929.9 563.9 925.8 561.9 922 560 918.1 560 913.8 558.4 909.8M549.3 885.5 548.2 881.9 548.6 878 549.7 874 549.5 870.3 550 866.4 549.7 862.7 548.6 859.1 546.8 855.5 546.6 851.8M533.8 789.8 533.2 786.3 531.1 782.7 529.8 779.1 529.2 775.5 527.7 771.9 528.7 768.3 528.7 764.7 529 761.1 527.6 757.4 527.3 753.8 530.2 750.3 529.2 746.6 530.3 743.1 529.9 739.4 530.6 735.9 535.1 736.3 534.4 739.8 534.9 743.4 533.8 746.9 534.8 750.6 531.9 754 532.2 757.6 533.6 761.3 533.2 764.8 533.3 768.4 532.3 772 533.7 775.6 534.4 779.1 535.7 782.7 537.8 786.3 538.4 789.8zM532.2 687.7 532.8 684.3 532.8 680.7 534 677.3 533 673.5 533.5 670 533.8 666.5 534.3 662.9 535.8 659.7 537.6 656.4 538.2 653 538.8 649.5 538.4 645.7 538.9 642.2M550.8 632.3 552.9 629.2 552.9 625.4 554.5 622.1 555.1 618.5 557.5 615.5 557.9 611.9 559.7 608.7 559.9 605 559.6 601.1 559.8 597.3 562 594.2 564 591.2 567.5 592.5 565.5 595.5 563.3 598.6 563.1 602.3 563.5 606.2 563.3 609.9 561.5 613.1 561.1 616.7 558.6 619.7 558.1 623.2 556.4 626.5 556.5 630.2 554.4 633.3zM586.7 540.3 587.9 536.6 588.2 532.4 590 529 591.7 525.5 594.9 522.8 597.8 520 600.2 516.9 603 514.1M860.9 273.9 864.4 273 867.6 271.2 870.8 269.6 874.1 268 877.2 266 880.5 264.6 883.9 263.2 886.7 260.5 890.1 259.3 893.3 257.4 896.7 256.1 900.3 255.3M942.7 243.2 946.2 241.2 950 240.4 953.6 238.5 957.3 237.5 961.1 236.7 965 235.9 968.8 235.1 972.6 234.3"/><path fill="#650000" d="M985.3 233L997.3 225.5L999 236.4zM794.4 303.3L802.9 292L808.4 301.5zM738.1 341.6L745.2 329.4L751.8 338.1zM673.2 400.4L678.3 387.2L686.2 394.9zM592.8 510.1L594.5 496.1L604 501.6zM536.4 654.8L534.2 640.9L544.9 643.5zM526 712.3L522.3 698.6L533.2 700.2zM524.2 838.6L517.6 826.1L528.6 825.2zM1617.8 635.9L1619.5 621.9L1608.9 624.9zM1636 741.3L1640.3 727.9L1629.4 728.9zM1619.2 924.8L1627.7 913.5L1617 910.8zM1381.1 1252.5L1373 1264.1L1367.2 1254.7zM1211.8 1325.1L1200.4 1333.4L1197.9 1322.7zM718.7 1208.7L705.3 1204.3L712.5 1196zM1458.1 373L1452.1 360.2L1444.7 368.4zM1364.6 303.3L1356.1 292L1350.6 301.5z"/><path d="M595.4 1062.5A559 559 0 0 1 572.9 546.8" fill="none" stroke="#650000" stroke-width="4"/><path d="M1604.8 591.8A559 559 0 0 1 1586.1 1019.2" fill="none" stroke="#650000" stroke-width="3.4"/><path d="M1563.6 1062.5A559 559 0 0 1 1224.2 1323" fill="none" stroke="#650000" stroke-width="3.0"/>
<g fill="none" stroke="#fff" stroke-linejoin="round" stroke-linecap="round"><path stroke-width="4.5" d="M853.8 303.7 862.8 300.1 875.3 301.9 886.1 299.2 893.3 297.5 900.4 294.7 905.8 293.9M1043.9 851.2 1051.1 854.7 1047.5 861.9M936.3 1256.7 948.9 1259.4M1263 1195.7 1274.9 1196.7 1280.9 1192.1"/><path stroke-width="3.5" d="M961.4 503 965.5 496.1 970.4 492.1 979.4 483.1 988.3 474.1 997.3 465.2 1006.3 456.2 1015.2 450.8M1528.6 459.8 1531.5 466.2 1539.4 474.1 1541.4 480 1546.5 488.5 1544.7 494.4 1539.4 503M877.1 653.7 886.1 651.9 893.3 660.8 889.3 666.7 889.7 675.2 880.7 678.8 881.6 670.5 877.1 664.4M835.9 660.8 837.8 667.7 843 673.4 839.5 686 841.3 698.5M807.2 678.8 812.6 687.8 809 696.7M563 831.4 564.4 839.1 567 846.8 568.4 854.7 570.3 864.9 571.5 869.2 569 876.9 569.6 881.2 573.8 890.6 576.3 898.9 575.7 902.2 576.4 911.1 579.1 922.9 579.2 926.5 580.6 932.4 579.5 940.8 582.1 946.2 583.7 953.4 584.6 962.4 587.3 973 586.4 980.3M1227.1 994.7 1237.8 998.2 1236.1 1003.6"/><path stroke-width="2.4" d="M1169.7 503 1173.3 492.1 1180.4 481.3 1187.6 477.7 1196.6 474.1 1205.6 465.2 1216.3 459.8 1222.8 456.4 1230.7 456.2M1216.3 459.8 1217.3 469.1 1218.1 474.1 1216.4 482.1 1216.3 492.1 1214.5 503M1255.8 447.2 1265.5 446.9 1273.7 445.4 1286.3 447.2 1295.4 448.4 1304.2 452.6 1313.1 455.5 1322.2 456.2 1331.1 465.2 1335.2 459.9 1343.7 456.2 1349.1 443.6 1360 438.2M1313.2 456.2 1312.8 461.3 1318.6 470.5 1313.2 483.1 1304.2 492.1 1296.8 497.2 1295.2 503M1340.1 465.2 1349.1 474.1 1360 477.7M1360 434.7 1370.8 431.1 1383.3 436.5 1387.6 440.5 1395.9 443.6 1401.5 447.8 1406.6 452.6 1413.8 461.6 1422.8 466.9 1435.3 468.7 1444.3 474.1 1438.9 483.1 1431.7 477.7 1419.2 474.1 1410.2 465.2 1399 459.8 1395.9 456.2 1383.3 450.8 1376.1 451 1369 450.8 1360 454.4M1428.2 495.6 1438.9 503M591.7 610.6 596.2 606.7 600.7 599.9 606.1 594.3 613.3 589.1 620.6 583.8 627.6 578.3 632.8 580.3 642 581.9 645.6 589.1 636.6 596.3 624 596.3 613.3 603.4 610.1 605.5 602.5 612.4 591.7 610.6M627.6 578.3 638 574.9 645.6 571.2 653.5 570.8 663.5 564 671 558.5 676.1 556.8 681.4 549.6 690.5 547.9 699.4 544.3 708 543.6 717.3 540.7 728.1 542.5 733.3 548 738.8 551.4 746.5 554.8 749.6 560.4 755.3 564.1 760.4 569.4 771.1 571.2 778.5 566.6 785.5 565.8 791.8 563.7 800 562.2M760.4 578.3 771.1 583.7 783.7 578.3 793.3 576.6 800 571.2M604.3 612.4 595.3 621.4 586.9 627.3 582.8 635.7 573.8 642.9 570.4 646 564.8 655.5 561.1 663.1 560.9 672.1 555.9 678.8 553.1 685.8 551 696.5 548.5 701.2 546.9 709.3 545.7 718.1 543 725.4 541.5 736.2 539.7 744.4 539.8 755.2 536.1 763.1 534.3 774.1 532.6 783M552.3 783 549.9 774.7 548.7 763.1 549.3 756.3 547.8 748.1 550.5 739.8 550.5 727.5 555.9 721.8 559.9 715 564.8 711.1 573.8 714.7 584.6 720 587.5 730.8 590 734.4 590.4 741.5 593.5 750.5 594.8 760.3 595.3 768.5 593.3 775.4 591.7 783M724.5 734.4 731.7 725.4 742.4 721.8 751.4 727.2 753.2 738 742.4 743.4 729.9 741.6 724.5 734.4M771.1 772.1 781.2 767.5 789.1 761.3 800 759.5M800 562.2 807.3 559.4 817.9 556.8 827 558.7 835.9 564 845.3 565.3 853.8 569.4 862.5 568.5 868.3 566 875.3 565.8 884.1 562.6 893.3 565.8 900.4 562.8 911.2 558.6 915 556.4 925.6 551.4 936.3 546 943.5 535.3 943.4 529.3 948.9 520.9 952.5 508.4 956.1 503M965 503 970.4 512 978 512.3 988.3 510.2 997.3 517.3 1004.7 518.5 1011.7 524.5 1015.2 535.3 1006.3 544.3 999.1 547.8 1002.7 556.8 1013.7 558.2 1020.6 555 1029.6 562.2 1022.3 565.3 1015.2 569.4 1011.7 571.2 1018.8 580.1 1029.6 587.3 1024.2 599.9 1015.2 607 1008.1 616 997.3 619.6 988.1 620.7 979.4 625 972.2 627.7 961.4 632.1 948.9 635.7 938.1 637.5 939.9 646.5 934.5 659.1 925.6 668 916.6 673.4 911.2 678.8 905.7 684.7 900.4 693.1M1015.2 535.3 1022.3 534.1 1031.4 537.1 1042.2 538.9 1051.1 546 1060.3 547.6 1065.5 549.6 1074.3 551.5 1080 553.2M1040.4 546 1043.9 556.8 1050.9 560.8 1060.1 565.8 1065.8 570 1072.8 573.7 1080 578.3M1080 583.7 1091.2 584.1 1097.9 589.1 1104.8 589 1112.3 590.9 1115.9 583.7 1121.3 592.7 1127.4 596.6 1139.2 598.1 1146.4 603.4 1146.4 610.6 1153.5 615.2 1160.7 619.6 1166.1 632.1 1173.3 641.1 1180.4 650.1 1191.2 646.5 1195.4 651.7 1202 655.5 1209.1 660.8 1218.1 662.6 1216.3 671.6 1205.6 677 1205.6 687.8 1212.7 694.9 1219.9 700.3 1221.7 711.1 1223.5 720 1227.1 726.1 1232.5 732.6 1223.5 729 1214.5 725.4 1203.8 729 1202 741.6 1198.4 752.3 1205.6 759.5 1212.7 770.3 1218.1 783M1080 524.5 1090.8 526.3 1097.1 520.8 1106.9 519.1 1118 513 1124.8 508.4 1133.8 512 1143.2 511 1151.7 510.2 1162.5 503M1146.4 535.3 1150.1 528.2 1155.3 522.7 1163.5 521.4 1169.7 520.9 1173.3 531.7 1180.2 533.5 1187.6 535.3 1196.7 531 1202 524.5 1214.5 529.9 1219.9 538.9 1229.5 540.7 1237.8 544.3 1242.8 549.4 1253.7 551.2 1259.4 555 1269.2 555.7 1278.6 555.3 1286.3 553.2 1292.7 556.2 1298.6 555.8 1307.8 555 1307.7 548.3 1306 538.9 1295.2 546 1300.9 540.4 1300.6 529.9 1291.7 520.9 1280.9 520.9 1286.3 512 1295.2 503M1150 653.7 1155.3 660.8 1153.5 666.2 1149.1 660.8 1150 653.7M1166.1 671.6 1176.9 669.8 1178.7 678.8 1169.7 682.4 1164.3 677 1166.1 671.6M1176.9 653.7 1182.2 660.8 1177.8 662.6M1381.5 503 1386.9 510.2 1394 510.2 1404.8 515.6 1413.3 516.6 1419.2 520.9 1422.8 512 1421 503M1446.1 503 1449.7 512 1440.7 520.9 1437.1 528.6 1433.5 533.5 1434.5 537.3 1440.7 547.8 1445.6 555.1 1449.7 562.2 1455.3 567.6 1460.3 570.5 1467.6 578.3 1464 565.8 1471.2 556.8 1476.6 556.8 1482 546 1485.6 533.5 1494.5 526.3 1503.2 528.4 1512.5 533.5 1518.8 539.7 1530.4 544.3 1536.3 550.9 1540.8 555.2 1548.3 562.2 1551.2 568.8 1557.3 578.3 1564.8 584.3 1571.7 592.7 1578.5 598.6 1584.2 603.4 1578.8 610.6 1571.7 607 1575.2 619.6 1583 623.6 1584.2 632.1 1589.6 641.1 1592.2 633.8 1592 624.4 1593.2 619.6 1593.2 607 1600.4 603.4 1603.2 613 1607.4 620.3 1611.1 628.6 1612.4 639.4 1614.7 643 1616.5 655.5 1616.6 661.3 1613.7 672.6 1620.1 682.4 1624 689.6 1623.7 696.7 1617.3 701.5 1614.7 709.3 1611.1 718.2 1615.6 727.5 1616.5 736.2 1607.5 745.2 1604 754 1600.4 763.1 1598 771 1596.5 776.7 1593.2 783M1510.7 517.3 1517.8 512.9 1525 517.3 1517.8 521.8 1510.7 517.3M555.9 783 561.3 792 558.6 798.8 555.9 809.9 552.7 808.1 543.2 802.8 537.9 797.3 536.2 800.3 533.6 811.6 530.8 818.9 530.9 826.1 530.3 836.5 530.8 845.8 533.9 855.3 533.1 866.2 534.3 872.7 534.2 879.2 532.9 889.5 538 895.7 538.3 901.6 537.9 908.6 542.8 917.1 546.9 926.5 548.8 933.3 553.8 940.8 553.5 945.8 555.9 953.4 557.1 962.7 561.2 967 562 971.8 564.8 980.3 567 988.4 568.7 993.4 571.2 1000.7 573.8 1007.2 573.5 1013.6 576.9 1022.1 579.3 1028.3 582.8 1034.1 588.4 1040.8 588.1 1048.9 592.2 1054.2 595.3 1063M591.7 783 595.3 792 597.9 804.2 598.9 809.9 597.9 818.5 596.1 828.4 597.1 836.8 588.2 845.8 579.9 849.4 575.6 856.5 582.1 860.5 584.6 867.3 595.3 860.1 606.1 854.7 613.2 861.7 616.9 863.7 622.7 872.7 627.6 879.9 636.1 886.7 638.4 894.2 646.4 890.3 656.3 890.6 664.5 897.5 672.5 899.6 678.5 907.1 681.4 917.5 689 917.6 699.4 919.3 704.3 925.3 708.3 931.9 713.2 938.6 717.3 944.4M717.3 906.8 728 910.5 735.2 915.7 743.2 920.9 749.6 926.5 753.5 934.9 758.6 944.4 760.7 948.1 768.2 956.1 771.1 962.4 780.4 969.4 789.1 973.1 800 971.3M710.1 949.8 715.4 950.4 726.3 953.4 735.2 962.4 740 968.4 744.2 973.1 756.8 976.7 761 985.5 766.7 989.1 771.1 998.2 776.8 1004 785.5 1007.2 779 1007.8 771.1 1014.4M663.5 800.9 674.3 797.3 685 804.5 690.8 812.7 692.2 818.9 692.6 827.2 688.6 836.8 684.5 844 681.4 854.7 687.3 863.4 685 872.7 677.8 876.3 677.7 866.3 672.5 858.3 670.9 848.5 668.3 845.6 667.1 836.8 663.3 829.6 663.5 818.9 664 808.2 663.5 800.9M699.4 792 703.1 800.2 708.3 809.9 703.8 818 699.4 827.8 693.6 821.1 690.4 815.3M735.2 842.2 739 833.9 746 829.6 753.1 834.6 760.4 836.8 765.1 844 774.7 851.2 780.8 847.8 789.1 847.6 800 840.4M800 842.2 808.5 838.7 814.3 836.8 826.9 833.2 830.5 845.8 831.1 853.5 826.9 863.7 823 870.5 817.9 878.1 811.3 885.3 807.2 890.6 810.8 899.6 818.6 901.5 826.9 901.4 823.3 912.1 818.8 917.6 814.3 926.5 809.7 935.5 805.4 944.4 804.2 952 800 962.4M841.3 833.2 853.8 836.8 859.2 845.8 871.7 847.6 877.1 838.5 882.5 835 889.7 827.8M837.7 854.7 839.6 862 839.5 872.7 840.2 881.6 846.6 890.6 854.7 881 859.2 876.3 863.7 880.5 871.7 887 877.1 889.4 886.1 890.6 886.6 880.5 889.7 872.7 892.4 864.3 893.3 858.3 901.1 853.2 907.6 851.2 907.5 838.4 911.2 831.4M957.8 833.2 961.4 845.8 957.8 858.3 955.4 865 947.1 872.7 942.1 878 936.3 883.4 932.7 894.2 922 897.8 929.1 905 916.6 910.4 908.8 913.1 900.4 915.7 898.7 919.5 888.4 924.9 886.1 931.9 881.7 940.7 882.9 945.6 877.1 954.2 877.1 962.4 881.7 965.6 882.8 976.2 884.3 985.7 894 981.3 900.4 980.3 908.1 972.5 916.6 969.5 925.6 960.6 931.2 965.5 939.9 966 949.3 965.3 956.1 966 961.8 960.2 970.4 960.6 978.7 961.4 988.3 962.4 997.2 960.4 1006.3 958.8 1009 951.5 1015.2 944.4 1019.7 937.5 1024.2 926.5 1030.8 917.3 1031.4 908.6 1033.8 901.3 1038.6 894.2 1041.8 887 1046.8 880.6 1051.1 876.3 1057.5 869.8 1061.9 863.7 1056.9 858.9 1051.1 854.7 1045.5 844.3 1042.2 836.8 1032.8 831.4 1024.2 827.8 1015.6 824.2 1006.3 820.7 995.1 819 988.3 817.1 977.2 817 970.4 818.9 963.7 822.7 957.8 833.2M984.8 998.2 993.7 991.1 1000.1 994.9 1006.3 998.2 1014.1 999.4 1022.4 1001.8 1026 1012.6 1018.2 1014.6 1011.7 1019.8 1004.1 1018 997.3 1018 991.2 1011.6 984.8 1009 984.8 998.2M826.9 818.9 833.3 814.3 838.6 808.6 844.8 804.5 854.7 796.5 862.8 793.8 872.5 797.7 880.7 800.9 885.7 808.7 889.7 815.3 894.6 810.1 902.7 806.4 907.6 800.9 915.1 794.9 922 793.8 924.6 803.7 925.6 809.9 923.6 817.5 918.4 824.3M947.1 783 947.3 793.5 952.5 800.9 961.2 800.5 970.4 808.1 980 802.1 988.3 800.9 995.2 796.3 1006.3 793.8 1012.8 801.2 1015.2 809.9 1011.7 822.5M893.3 783 897.3 793 900.4 797.3 910.2 793.6 914.8 790.2M1219.9 783 1228.9 792 1237.8 793.8 1239.3 799.8 1241.4 809.9 1250.4 806.3 1246.6 815.1 1245 822.5 1239.4 828 1232.5 833.2 1241.4 842.2 1252 837.4 1259.4 835 1266.5 837.1 1273.7 836.8 1286.3 842.2 1293.5 853 1288.1 854.7 1283.6 852 1277.3 845.8 1269 844.4 1259.4 844 1253.7 846 1246.8 851.2 1255.8 858.3 1261.2 858.4 1271.9 856.5 1265.6 863.3 1259.4 869.1 1250.7 872.7 1246.5 876.1 1241.4 881.7 1245 882.9 1255.8 885.2 1252.7 892.1 1246.8 897.8 1241.4 908.6 1238.7 917.5 1237.8 926.5 1236.4 931 1232.5 944.4 1227.8 954.3 1223.5 962.4 1214.5 971.3 1206.7 971.4 1196.6 966M1198.4 829.6 1202 838.5 1202.5 847.6 1203.8 854.7 1206.5 861.9 1212.4 872.2 1214.5 876.3 1218.8 882.5 1223.5 888.8 1232.5 883.4 1226.5 877.5 1219.9 867.3 1216.3 862.5 1211.2 852.7 1209.1 845.8 1205.2 839 1202 829.6 1198.4 829.6M1097.9 883.4 1104.1 874.8 1106.9 870.9 1114.4 870.5 1124.8 869.1 1126.5 873.8 1130.2 883.4 1129.2 891.4 1124.8 897.8 1112.3 901.4 1108.3 894.6 1104.4 889 1097.9 883.4M1128.4 985.7 1134.7 975.3 1137.4 967.8 1140.8 962.7 1145.8 958.1 1151.7 951.6 1161.1 946.5 1169.7 944.4 1178.8 943.9 1187.6 944.4 1198.1 943.4 1204.9 946.4 1214.5 944.4 1223.5 953.4M1151.7 951.6 1151.1 961.4 1143.5 965.1 1139.2 971.3 1138.1 980.1 1132 989.3 1128.1 998.4 1128 1005.9 1124.8 1016.2 1118 1019.9 1117.5 1026.9 1112.3 1034.1 1107.6 1043.4 1103.3 1052.1 1103.3 1063M1166.1 998.2 1176.9 994.7 1180.4 1007.2 1176.1 1015.6 1169.7 1025.2 1166 1030 1160.7 1037.7 1161.9 1043.2 1164.3 1052.1 1169.7 1063M1173.3 1025.2 1178.7 1031.4 1180.4 1037.7 1187.3 1038 1196.6 1039.5 1202.5 1036.1 1209.1 1030.5 1216.3 1025.2M1214.5 1012.6 1223.5 1009 1228.9 1018 1219.9 1025.2 1214.5 1012.6M1413.8 969.5 1426.4 969.5 1431.7 980.3 1426.4 992.9 1417.4 991.1 1413.8 980.3 1413.8 969.5M1374.3 1063 1367.2 1052.1 1370.5 1042.9 1370.8 1034.1 1370.1 1028.4 1367.2 1016.2 1376.7 1013.8 1386.9 1012.6 1399.5 1016.2 1392.3 1025.2 1386.9 1034.1 1397.8 1033.1 1404.8 1030.5 1414 1028.8 1421 1028.7 1422.8 1037.7 1433.9 1044.9 1438.9 1046.7 1438 1055.9 1435.3 1063M1598.6 783 1596.2 793 1600.4 800.9 1603.6 810.6 1607.5 818.9 1609.8 827.3 1607.2 837.4 1611.1 845.8 1611.7 854.2 1614.7 863.7 1620.1 876.3 1618.7 883.8 1615.5 894.4 1619.1 902.3 1618.3 908.6 1616.1 915.8 1607.5 922.9 1597.5 927.8 1593.2 935.5 1582.3 936.5 1575.2 939.1 1575.4 943 1575.2 953.4 1566.3 962.4 1562.3 967.1 1557.3 976.7 1550.6 980.1 1543 983.9 1538.9 991 1535.8 998.2 1532.2 1006.2 1530.4 1016.2 1523.2 1025.1 1521.4 1034.1 1517.2 1044.5 1507.1 1048.5 1503.8 1056.9 1496.3 1063M1620.1 876.3 1623.7 869.1 1629.1 861.9M1015.2 1116.8 1019.3 1111.4 1024.2 1104.3 1032.5 1099.8 1038.6 1098.9 1045.7 1107.8 1042.2 1120.4 1029.6 1125.8 1018.8 1124 1015.2 1116.8M1045.7 1080.9 1052.6 1078.8 1060.1 1073.8 1069.1 1080.9 1067.7 1090.1 1065.5 1098.9 1072.6 1107.8 1068.9 1111.2 1060.1 1116.8 1064.7 1123.2 1069.1 1131.2 1062.5 1132.5 1051.1 1140.1 1054.5 1145.6 1060.1 1152.7 1067.4 1159 1072.6 1163.4 1073.7 1168.1 1071.5 1177.3 1069.1 1185 1059 1187.6 1051.1 1188.6 1040.7 1183.4 1033.2 1185 1022.4 1185 1015.2 1192.1 1014.7 1196.9 1015.2 1206.5 1009.9 1215.5 1015.2 1224.4 1021.4 1226.8 1029.6 1228 1033.2 1235.2 1042.7 1236.8 1051.1 1233.4 1058 1228.7 1064.4 1227.4 1070.8 1227.4 1080 1224.4M1033.2 1235.2 1024.2 1242.4 1014.2 1241 1006.3 1246 1002.9 1253 997.3 1260.3 988.9 1263.2 979.4 1265.7 971.4 1265.8 961.4 1265.7 954.4 1270.9 943.5 1274.7 937 1278.9 929.1 1281.8 932.7 1290.8 925 1295.9 922 1301.6 927.8 1306.4 934.5 1310.5 941.3 1317.6 952.5 1319.5 959.4 1319.8 963.2 1323.5 972.5 1325.1 979.4 1328.5 986.7 1329.2 994.6 1330.9 1000.8 1335.4 1012.2 1334 1015.2 1337.4 1021.7 1337.2 1030.9 1337.8 1036 1340.7 1042.4 1340.4 1051.1 1343M1080 1215.5 1084.6 1207.2 1088.4 1204.9 1096.4 1200.4 1101.5 1195.7 1106.5 1192.6 1118.3 1191.8 1124.8 1188.6 1131.9 1182.7 1139.2 1179.6 1151.7 1181.4 1160.7 1188.6 1170.7 1189.4 1178.7 1192.1 1185.8 1192.7 1196.6 1195.7 1205.6 1202.9 1204.3 1209.5 1198.4 1215.5 1191.3 1215.6 1180.4 1217.3 1175.1 1211.9 1186.4 1208.2 1194.8 1206.5M1141 1188.6 1146.4 1199.3 1151.7 1210.1 1142.8 1213.7 1141 1201.1 1141 1188.6M1162.5 1167 1173.3 1163.4 1180.2 1171 1187.6 1170.6 1197.8 1173.4 1205.6 1177.8 1212.6 1182.8 1219.9 1186.8 1228.1 1189.6 1232.5 1193.9 1245 1199.3 1255.8 1195.7 1252.2 1188.6 1244 1182.7 1241.4 1177.8 1250.4 1176.2 1259.4 1174.2 1268.7 1172.9 1273.7 1170.6 1281.3 1174.2 1286.3 1181.4 1291.7 1177.8 1285.9 1174 1277.3 1163.4 1276.8 1156.7 1273.7 1149.1 1274 1144.2 1272.2 1133.4 1273.7 1125.8 1277.3 1113.2 1287 1111.7 1295.2 1107.8 1303.5 1103.9 1313.2 1098.9 1321.7 1097.3 1331.1 1095.3 1339.9 1092.6 1349.1 1093.5 1356.2 1098.9 1350.8 1107.5 1345.5 1113.2 1335 1117.3 1327.5 1122.2 1321.4 1125 1313.2 1131.2 1309 1135.7 1304.2 1143.7 1299.8 1151.9 1291.7 1152.7 1287.7 1154.1 1277.3 1156.3M1341.9 1147.3 1346.7 1154.7 1349.1 1161.7 1349.2 1172.2 1349.1 1177.8 1341.6 1184.9 1338.3 1188.6 1329.2 1193.5 1320.4 1193.9 1312.6 1197.3 1304.2 1202.9 1295.7 1208.6 1286.3 1211.9 1277.4 1215.1 1267.5 1213.2 1259.4 1219.1 1253.6 1222.9 1245 1224.4 1241.4 1233.4 1232.5 1242.4 1223.7 1242.5 1216.2 1241.6 1205.6 1242.4 1196.1 1242.1 1190.7 1240.2 1180.4 1242.4 1172.5 1239.6 1160.7 1238.8 1164.3 1228 1156.3 1226.5 1151.7 1220.8 1142.6 1220.6 1133.8 1224.4 1124.3 1227.7 1115.9 1228 1108.8 1230 1097.9 1233.4 1089.6 1237.2 1080 1238.8M1080 1134.7 1089 1125.8 1085.4 1116.8 1080 1115M1106.9 1063 1115.9 1072 1124.8 1080.9 1128.3 1090.5 1133.8 1098.9 1140.9 1099.8 1148.2 1102.5 1153.7 1099 1160.7 1095.3 1169.7 1091.7 1178.7 1089.9 1191.2 1086.3 1191.4 1080.9 1193 1072 1187.6 1063M1123 1086.3 1130.2 1077.3 1142.8 1080.9 1138.6 1091.3 1133.8 1098.9M1300.6 1104.3 1306.7 1099.2 1312.6 1091 1313.2 1086.3 1318.6 1079.1M1404.8 1063 1413.8 1072 1422.8 1068.4 1431.7 1063M1492.7 1063 1489.1 1073.8 1482 1080.9 1471.7 1083.9 1467.6 1089.9 1459.7 1093.9 1449.7 1095.3 1440.7 1104.3 1446.1 1109.6 1454.5 1107.7 1460.4 1106 1471.2 1104.3 1474.8 1097.1 1485.6 1095.3M1360 1186.8 1369.7 1188.7 1377.9 1188.6 1386.8 1188.4 1395.9 1185 1404.8 1185 1410.2 1188.6 1422.8 1185 1428.1 1183.3 1440.7 1179.6 1453.3 1181.4 1458.8 1179.3 1467.6 1174.2 1474.4 1165.6 1482 1159.9 1488.8 1150.3 1494.5 1143.7 1497.6 1134.9 1503.5 1131.2 1507.1 1125.8M1360 1197.5 1368.9 1200.1 1377.9 1201.1 1388.5 1200 1395.9 1199.3 1403 1204.7 1411.9 1202 1417.4 1199.3 1424.4 1196.7 1431.7 1192.1 1442.4 1188 1449.7 1185 1460.4 1177.8 1468.1 1171.3 1476.6 1165.2 1483 1155.7 1489.1 1149.1 1496.2 1141.3 1499.9 1134.7 1502.4 1124.5 1503.5 1116.8 1508.6 1108.5 1512.5 1098.9 1516.3 1093.1 1521.4 1080.9 1524.7 1074.8 1526.8 1063M911.5 713.9 901 710.5 890.6 714.1 879.6 714.7 886 704.8 890.1 697.5 892.8 696.2 902 699.6 906.1 698.1 906.3 704.8 911.5 713.9zM933.9 695.8 933.2 697.7 924.8 696.5 917.1 693.1 912.2 687.2 910.9 685.4 914.8 681.4 921.2 680.9 928.4 682.3 931.5 677.1 934.7 681.1 934 686.8 933.9 695.8zM900.3 756.9 896.2 756 896.3 744.4 890.3 746.4 883.1 743.9 887.8 742.7 894.2 739.1 898.3 732.1 899.6 727.8 907 732.3 912.4 734 919.7 733.5 914.9 737 911.8 740.9 909.8 744.7 902.9 751.9 900.3 756.9zM951.8 730.4 948.3 731.2 948.4 734 942.6 738.7 936.1 737.5 935.3 738.3 931.6 727.2 936.7 720.6 940 713.4 943.3 710.4 950.3 718.6 951.8 730.4zM983 705.4 976.4 704.8 967.9 706.8 963.9 708.7 959.2 709.2 957.7 703.6 952.1 697.3 949.9 692.2 954.6 691.4 961.9 688.6 969 686.5 976 690.5 978.7 698.2 983 705.4zM950 758 947.3 751.6 939.5 748 944.4 744.4 949 740 950.7 740.5 945.5 734.9 956.5 735.1 963.3 734.3 967.4 735 974.7 734.8 975.8 741 969.5 744.3 965.6 750.6 959.3 751 955 755.1 950 758zM944.4 774.6 942.5 779.6 934.3 777.1 925.7 775.5 917.2 772 925.9 770.4 924.6 769.4 930.3 766.2 937.9 763.1 948.5 763.6 946.3 769.4 944.4 774.6zM1001.2 730.1 999.8 734.7 992.3 734.4 983.8 733.3 976.5 735.8 978.4 729.6 982.5 723.4 981.9 718.4 985.8 722.8 994.9 725.4 1002 726.7 997.9 727.9 1001.2 730.1zM1013.5 765.6 1008.5 766.9 1011.4 770.9 1006.3 776.8 999.8 772.9 998.5 766.9 991.5 762.3 987.6 758 993.1 754.6 999.1 758 1008.3 759.5 1015.2 757.9 1013.5 765.6zM989.1 786.2 982.8 788.2 976.9 790.7 968.5 792.4 963.6 782.2 971.6 775.2 971.8 772.3 973.9 774.3 976.4 777.2 984.9 781.7 988.5 783.1 989.1 786.2zM899.1 784.9 890.5 783.3 887.6 784.6 887 783.6 882.7 783.7 875.2 779.7 879.9 774.9 883.8 770.4 894.4 766.4 898.3 764.1 897.6 766.4 899.8 772.5 898.5 779.6 899.1 784.9zM925.6 798.4 925.2 799.7 918.1 802.9 911.3 801.1 910.4 795.9 908.1 786.5 909.5 787.8 908.5 786.1 917.5 787.5 917.7 789.5 925.6 798.4zM1019.5 797.8 1015.1 801.2 1009.2 804.1 1005.2 802.9 1001.8 801.2 1001 795.5 1006.3 786.5 1011.2 788.1 1018.2 789.4 1018.5 791.4 1019.5 797.8zM955.7 807.3 959.3 810.8 951.2 810 945.1 810.1 943.2 809.7 943.7 805 944.4 800.8 945.9 800 953.7 798.4 958.2 799.8 955.7 807.3zM997.5 701.7 997.9 702.7 987.7 702.6 986.9 704 978.7 699.1 980.6 690.9 989.8 687 991.8 689.5 993.5 689.2 993.7 694.6 997.5 701.7zM1155 901.1 1146 908.1 1142.2 906.6 1139.6 903.3 1137.2 902.3 1141.5 891.9 1147 894.8 1155 901.1zM1158.8 928.4 1152.5 929.3 1143.2 926.7 1150.2 923.6 1154.6 918.6 1155.5 918.7 1156.4 919.4 1160.5 922.6 1158.8 928.4zM1125.1 1016.1 1116.2 1015.8 1115.7 1015.6 1113.3 1015.8 1115 1012.1 1112.8 1010.3 1115.1 1009.6 1125.1 1016.1zM1217.2 1002.5 1207.6 1002.8 1205.7 999.7 1212.2 996.2 1213.6 995.9 1215.5 996.8 1220.3 997.9 1217.2 1002.5z"/><path stroke-width="4" d="M776.5 714.7 785.5 718.2 792.6 723.6M821.5 556.8 832.3 555 841.3 562.2M1377.9 677 1385.2 676.9 1395.9 675.2 1402 682.3 1410.2 686 1411.8 692 1417.4 698.5M1228.9 912.1 1232.5 915.7M957.8 1259.4 968.6 1258.5"/><path stroke-width="5" d="M588.2 989.3 593.5 1001.8M1203.8 1311.4 1214 1310.9 1221.7 1311.4M1099.7 1213.7 1105.1 1215.5"/><path stroke-width="6" d="M1146.4 826 1155.3 833.2 1158.9 844"/><path stroke-width="3.2" d="M1455.1 854.7 1453.4 862.1 1456.9 872.7 1452.7 883 1449.7 885.2 1455.1 894.2 1462.2 890.6"/><path stroke-width="2.2" d="M600.7 1063 604.1 1074.3 609.7 1080.9 614.4 1088.6 618.8 1096.6 624 1104.3 627.5 1110.1 630.7 1115.6 636.6 1122.2 644.7 1128.4 645.6 1134.7"/></g><path d="M1082 221V450" stroke="#fff" stroke-width="4.6" fill="none"/><path d="M1081.6 450V520" stroke="#fff" stroke-width="3" fill="none"/><path d="M1081 520V565" stroke="#fff" stroke-width="2" fill="none"/>
</g>
<g font-size="28" font-weight="bold" text-anchor="middle"><text transform="translate(879 257) rotate(-22)" y="10">196</text><text transform="translate(1140 358) rotate(4)" y="10">212</text><text transform="translate(1263 353) rotate(27)" y="10">204</text><text transform="translate(1150 425) rotate(35)" y="10">220</text><text transform="translate(778 417) rotate(-42)" y="10">204</text><text transform="translate(1037 665) rotate(-22)" y="10">220</text><text transform="translate(1388 765) rotate(42)" y="10">212</text><text transform="translate(1530 845) rotate(-62)" y="10">204</text><text transform="translate(620 940) rotate(-90)" y="10">204</text><text transform="translate(1028 975) rotate(0)" y="10">212</text><text transform="translate(845 1105) rotate(37)" y="10">212</text><text transform="translate(805 1270) rotate(32)" y="10">196</text><text transform="translate(1123 1310) rotate(62)" y="10">204</text></g>
<defs><linearGradient id="cb" x1="0" y1="0" x2="0" y2="1"><stop offset="0%" stop-color="#5a0000"/><stop offset="3.3%" stop-color="#640000"/><stop offset="6.7%" stop-color="#780005"/><stop offset="10%" stop-color="#96000a"/><stop offset="13.3%" stop-color="#be1008"/><stop offset="16.7%" stop-color="#e12800"/><stop offset="20%" stop-color="#f54000"/><stop offset="23.3%" stop-color="#ff6000"/><stop offset="26.7%" stop-color="#ff8000"/><stop offset="30%" stop-color="#ffa000"/><stop offset="33.3%" stop-color="#fab900"/><stop offset="36.7%" stop-color="#e8d000"/><stop offset="40%" stop-color="#cde100"/><stop offset="43.3%" stop-color="#afeb0c"/><stop offset="46.7%" stop-color="#8cf51c"/><stop offset="50%" stop-color="#64fc2c"/><stop offset="53.3%" stop-color="#3cfc46"/><stop offset="56.7%" stop-color="#14f864"/><stop offset="60%" stop-color="#00ec88"/><stop offset="63.3%" stop-color="#00daaa"/><stop offset="66.7%" stop-color="#00c8c3"/><stop offset="70%" stop-color="#00b0d8"/><stop offset="73.3%" stop-color="#0096eb"/><stop offset="76.7%" stop-color="#0078ff"/><stop offset="80%" stop-color="#1858ff"/><stop offset="83.3%" stop-color="#3238ff"/><stop offset="86.7%" stop-color="#5020f0"/><stop offset="90%" stop-color="#5808dc"/><stop offset="93.3%" stop-color="#5800b0"/><stop offset="96.7%" stop-color="#30006e"/><stop offset="100%" stop-color="#100050"/></linearGradient></defs><rect x="1692" y="487" width="27" height="587" fill="#888"/><rect x="1694" y="490" width="25" height="584" fill="url(#cb)"/><path d="M1719 489V1074" stroke="#333" stroke-opacity=".6" stroke-width="1.2"/><path d="M1693 547.4h6M1719 547.4h-6M1693 605.8h6M1719 605.8h-6M1693 664.2h6M1719 664.2h-6M1693 722.6h6M1719 722.6h-6M1693 781h6M1719 781h-6M1693 839.4h6M1719 839.4h-6M1693 897.8h6M1719 897.8h-6M1693 956.2h6M1719 956.2h-6M1693 1014.6h6M1719 1014.6h-6" stroke="#222" stroke-opacity=".8" stroke-width="1.4" fill="none"/><g font-size="32" font-weight="bold"><text x="1739.5" y="500.7">240</text><text x="1739.5" y="559.1">234</text><text x="1739.5" y="617.5">228</text><text x="1739.5" y="675.9">222</text><text x="1739.5" y="734.3">216</text><text x="1739.5" y="792.7">210</text><text x="1739.5" y="851.1">204</text><text x="1739.5" y="909.5">198</text><text x="1739.5" y="967.9">192</text><text x="1739.5" y="1026.3">186</text><text x="1739.5" y="1084.7">180</text></g>
<rect x="319.5" y="1344" width="303.5" height="91.5" fill="#fff" stroke="#8a3030" stroke-width="1.4"/><text x="471.4" y="1367.3" font-size="19" font-weight="bold" text-anchor="middle">m/s</text><g font-size="19.6" font-weight="bold" text-anchor="middle" fill="#6b1010"><text x="361.4" y="1389">5</text><text x="416" y="1389">55</text><text x="471.4" y="1389">105</text><text x="531.8" y="1389">55</text><text x="592.5" y="1389">5</text></g><g fill="#650000" stroke="none"><rect x="327" y="1411.6" width="289" height="1.4"/><rect x="384" y="1407.8" width="173.5" height="9"/><rect x="442.3" y="1403.8" width="58.7" height="17"/><path d="M351.1 1406L362.1 1412.3L351.1 1418.6Z"/><path d="M409.1 1403.8L420.1 1412.3L409.1 1420.8Z"/><path d="M462.9 1396L480.9 1412.3L462.9 1428.6Z"/><path d="M525 1403.8L536 1412.3L525 1420.8Z"/><path d="M581.5 1406L592.5 1412.3L581.5 1418.6Z"/></g>
<text x="467.3" y="200.3" font-size="58.4" font-weight="bold">Temperature (K), 70 hPa, 2025-10-17T00, Fri.</text><text x="1688" y="1399" font-size="47" font-weight="bold">FH36</text><text x="130" y="1483" font-size="23.3" font-weight="bold">Thu Oct 16 08:37:34 2025</text><text x="1516.5" y="1483" font-size="23.25" font-weight="bold">Paul A. Newman &amp; Leslie R. Lait (NASA/GSFC)</text>
</svg>
</body></html>
